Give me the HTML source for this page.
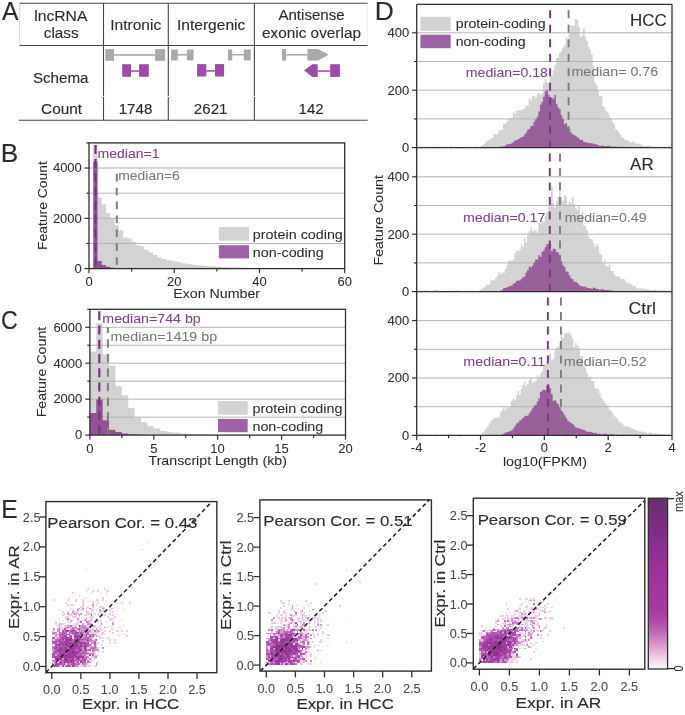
<!DOCTYPE html>
<html><head><meta charset="utf-8"><style>
html,body{margin:0;padding:0;background:#fff;}
body{width:685px;height:715px;overflow:hidden;}
svg{display:block;}
svg{will-change:transform;}
text{font-family:"Liberation Sans",sans-serif;}
</style></head><body>
<svg width="685" height="715" viewBox="0 0 685 715" shape-rendering="auto">
<rect width="685" height="715" fill="#fff"/>
<text transform="translate(1.94,19.90) scale(0.9902,1)" font-size="25" fill="#2b2b2b" stroke="#2b2b2b" stroke-width="0.12">A</text>
<line x1="19.30" y1="3.30" x2="368.00" y2="3.30" stroke="#454545" stroke-width="1.1"/>
<line x1="19.30" y1="45.50" x2="368.00" y2="45.50" stroke="#454545" stroke-width="1.1"/>
<line x1="18.80" y1="120.30" x2="367.70" y2="120.30" stroke="#454545" stroke-width="1.1"/>
<line x1="19.60" y1="3.30" x2="19.60" y2="45.50" stroke="#cfcfcf" stroke-width="0.8"/>
<line x1="367.40" y1="3.30" x2="367.40" y2="45.50" stroke="#ececec" stroke-width="0.8"/>
<line x1="103.50" y1="3.30" x2="103.50" y2="95.90" stroke="#454545" stroke-width="1.1"/>
<line x1="103.50" y1="96.90" x2="103.50" y2="120.30" stroke="#454545" stroke-width="1.1"/>
<line x1="168.30" y1="3.30" x2="168.30" y2="95.90" stroke="#454545" stroke-width="1.1"/>
<line x1="168.30" y1="96.90" x2="168.30" y2="120.30" stroke="#454545" stroke-width="1.1"/>
<line x1="254.40" y1="3.30" x2="254.40" y2="95.90" stroke="#454545" stroke-width="1.1"/>
<line x1="254.40" y1="96.90" x2="254.40" y2="120.30" stroke="#454545" stroke-width="1.1"/>
<text transform="translate(34.24,20.80) scale(1.0462,1)" font-size="15" fill="#2b2b2b" stroke="#2b2b2b" stroke-width="0.12">lncRNA</text>
<text transform="translate(43.85,38.30) scale(1.0182,1)" font-size="15" fill="#2b2b2b" stroke="#2b2b2b" stroke-width="0.12">class</text>
<text transform="translate(110.26,30.00) scale(1.0359,1)" font-size="15" fill="#2b2b2b" stroke="#2b2b2b" stroke-width="0.12">Intronic</text>
<text transform="translate(176.96,29.80) scale(1.0392,1)" font-size="15" fill="#2b2b2b" stroke="#2b2b2b" stroke-width="0.12">Intergenic</text>
<text transform="translate(278.46,20.40) scale(1.0050,1)" font-size="15" fill="#2b2b2b" stroke="#2b2b2b" stroke-width="0.12">Antisense</text>
<text transform="translate(261.95,37.70) scale(1.0244,1)" font-size="15" fill="#2b2b2b" stroke="#2b2b2b" stroke-width="0.12">exonic overlap</text>
<text transform="translate(32.92,82.50) scale(1.0115,1)" font-size="15" fill="#2b2b2b" stroke="#2b2b2b" stroke-width="0.12">Schema</text>
<text transform="translate(41.03,113.70) scale(1.0268,1)" font-size="15" fill="#2b2b2b" stroke="#2b2b2b" stroke-width="0.12">Count</text>
<text transform="translate(118.66,113.70) scale(1.0103,1)" font-size="15" fill="#2b2b2b" stroke="#2b2b2b" stroke-width="0.12">1748</text>
<text transform="translate(193.84,113.70) scale(1.0071,1)" font-size="15" fill="#2b2b2b" stroke="#2b2b2b" stroke-width="0.12">2621</text>
<text transform="translate(298.57,113.70) scale(1.0070,1)" font-size="15" fill="#2b2b2b" stroke="#2b2b2b" stroke-width="0.12">142</text>
<rect x="105.30" y="49.10" width="8.70" height="11.70" fill="#a9a9a9"/>
<rect x="155.10" y="49.10" width="10.00" height="11.70" fill="#a9a9a9"/>
<rect x="114.00" y="54.20" width="41.10" height="1.60" fill="#a9a9a9"/>
<rect x="171.10" y="49.50" width="6.70" height="10.90" fill="#a9a9a9"/>
<rect x="186.90" y="49.50" width="6.60" height="10.90" fill="#a9a9a9"/>
<rect x="177.80" y="54.00" width="9.10" height="1.50" fill="#a9a9a9"/>
<rect x="228.00" y="49.50" width="4.20" height="10.90" fill="#a9a9a9"/>
<rect x="243.80" y="49.50" width="6.90" height="10.90" fill="#a9a9a9"/>
<rect x="232.20" y="54.00" width="11.60" height="1.50" fill="#a9a9a9"/>
<rect x="282.00" y="49.10" width="4.20" height="11.50" fill="#a9a9a9"/>
<rect x="286.20" y="54.10" width="21.40" height="1.50" fill="#a9a9a9"/>
<polygon points="307.50,49.10 317.90,49.10 328.60,54.85 317.90,60.60 307.50,60.60" fill="#a9a9a9"/>
<rect x="122.20" y="64.20" width="8.80" height="12.60" fill="#9c4ba6"/>
<rect x="139.10" y="64.20" width="9.70" height="12.60" fill="#9c4ba6"/>
<rect x="131.00" y="70.30" width="8.10" height="1.50" fill="#9c4ba6"/>
<rect x="197.10" y="64.10" width="9.20" height="12.40" fill="#9c4ba6"/>
<rect x="215.00" y="64.10" width="9.10" height="12.40" fill="#9c4ba6"/>
<rect x="206.30" y="70.20" width="8.70" height="1.50" fill="#9c4ba6"/>
<polygon points="304.10,70.60 312.30,64.30 317.70,64.30 317.70,76.90 312.30,76.90" fill="#9c4ba6"/>
<rect x="317.70" y="70.30" width="12.50" height="1.50" fill="#9c4ba6"/>
<rect x="330.20" y="64.20" width="9.70" height="12.70" fill="#9c4ba6"/>
<text transform="translate(0.73,162.10) scale(1.0516,1)" font-size="25" fill="#2b2b2b" stroke="#2b2b2b" stroke-width="0.12">B</text>
<path d="M89.00,268.60 L89.00,268.60 L93.26,268.60 L93.26,144.91 L97.52,144.91 L97.52,197.38 L101.79,197.38 L101.79,204.39 L106.05,204.39 L106.05,213.02 L110.31,213.02 L110.31,218.32 L114.57,218.32 L114.57,225.23 L118.83,225.23 L118.83,230.54 L123.09,230.54 L123.09,237.55 L127.36,237.55 L127.36,238.43 L131.62,238.43 L131.62,241.65 L135.88,241.65 L135.88,245.17 L140.14,245.17 L140.14,246.30 L144.40,246.30 L144.40,249.80 L148.66,249.80 L148.66,252.41 L152.92,252.41 L152.92,255.00 L157.19,255.00 L157.19,257.29 L161.45,257.29 L161.45,258.90 L165.71,258.90 L165.71,260.00 L169.97,260.00 L169.97,260.61 L174.23,260.61 L174.23,261.51 L178.49,261.51 L178.49,262.59 L182.76,262.59 L182.76,263.40 L187.02,263.40 L187.02,264.10 L191.28,264.10 L191.28,264.70 L195.54,264.70 L195.54,265.21 L199.80,265.21 L199.80,265.51 L204.06,265.51 L204.06,265.91 L208.33,265.91 L208.33,266.31 L212.59,266.31 L212.59,266.59 L216.85,266.59 L216.85,266.85 L221.11,266.85 L221.11,267.08 L225.37,267.08 L225.37,267.28 L229.63,267.28 L229.63,267.45 L233.90,267.45 L233.90,267.60 L238.16,267.60 L238.16,267.73 L242.42,267.73 L242.42,267.84 L246.68,267.84 L246.68,267.94 L250.94,267.94 L250.94,268.03 L255.20,268.03 L255.20,268.10 L259.47,268.10 L259.47,268.17 L263.73,268.17 L263.73,268.22 L267.99,268.22 L267.99,268.27 L272.25,268.27 L272.25,268.31 L276.51,268.31 L276.51,268.35 L280.77,268.35 L280.77,268.38 L285.04,268.38 L285.04,268.41 L289.30,268.41 L289.30,268.44 L293.56,268.44 L293.56,268.46 L297.82,268.46 L297.82,268.48 L302.08,268.48 L302.08,268.49 L306.34,268.49 L306.34,268.51 L310.61,268.51 L310.61,268.52 L314.87,268.52 L314.87,268.53 L319.13,268.53 L319.13,268.54 L323.39,268.54 L323.39,268.55 L327.65,268.55 L327.65,268.55 L331.91,268.55 L331.91,268.56 L336.18,268.56 L336.18,268.56 L340.44,268.56 L340.44,268.57 L344.70,268.57 L344.70,268.60 Z" fill="#d4d3d4"/>
<line x1="89.00" y1="243.46" x2="344.70" y2="243.46" stroke="#b4b4b4" stroke-width="1.0"/>
<line x1="89.00" y1="218.32" x2="344.70" y2="218.32" stroke="#b4b4b4" stroke-width="1.0"/>
<line x1="89.00" y1="193.18" x2="344.70" y2="193.18" stroke="#b4b4b4" stroke-width="1.0"/>
<line x1="89.00" y1="168.04" x2="344.70" y2="168.04" stroke="#b4b4b4" stroke-width="1.0"/>
<path d="M89.00,268.60 L89.00,268.60 L93.26,268.60 L93.26,161.75 L97.52,161.75 L97.52,261.06 L101.79,261.06 L101.79,265.08 L106.05,265.08 L106.05,266.84 L110.31,266.84 L110.31,267.80 L114.57,267.80 L114.57,268.22 L118.83,268.22 L118.83,268.40 L123.09,268.40 L123.09,268.50 L127.36,268.50 L127.36,268.60 Z" fill="#8f5593"/>
<line x1="95.50" y1="145.00" x2="95.50" y2="268.60" stroke="#7a3582" stroke-width="2.2" stroke-dasharray="9 5"/>
<line x1="116.80" y1="173.80" x2="116.80" y2="268.60" stroke="#7d7d7d" stroke-width="2.0" stroke-dasharray="7.6 6.3"/>
<text transform="translate(97.55,158.20) scale(1.1224,1)" font-size="12.5" fill="#7d4285" stroke="#7d4285" stroke-width="0.05">median=1</text>
<text transform="translate(118.26,180.10) scale(1.1155,1)" font-size="12.5" fill="#777777" stroke="#777777" stroke-width="0.05">median=6</text>
<rect x="89.00" y="142.90" width="255.70" height="125.70" fill="none" stroke="#2f2f2f" stroke-width="1.3"/>
<line x1="84.40" y1="268.60" x2="89.00" y2="268.60" stroke="#2f2f2f" stroke-width="1.2"/>
<text transform="translate(74.57,272.90) scale(1.0400,1)" font-size="12.5" fill="#2b2b2b" stroke="#2b2b2b" stroke-width="0.05">0</text>
<line x1="86.40" y1="243.46" x2="89.00" y2="243.46" stroke="#2f2f2f" stroke-width="1.2"/>
<line x1="84.40" y1="218.32" x2="89.00" y2="218.32" stroke="#2f2f2f" stroke-width="1.2"/>
<text transform="translate(52.89,222.62) scale(1.0400,1)" font-size="12.5" fill="#2b2b2b" stroke="#2b2b2b" stroke-width="0.05">2000</text>
<line x1="86.40" y1="193.18" x2="89.00" y2="193.18" stroke="#2f2f2f" stroke-width="1.2"/>
<line x1="84.40" y1="168.04" x2="89.00" y2="168.04" stroke="#2f2f2f" stroke-width="1.2"/>
<text transform="translate(52.90,172.34) scale(1.0400,1)" font-size="12.5" fill="#2b2b2b" stroke="#2b2b2b" stroke-width="0.05">4000</text>
<line x1="86.40" y1="142.90" x2="89.00" y2="142.90" stroke="#2f2f2f" stroke-width="1.2"/>
<line x1="89.00" y1="268.60" x2="89.00" y2="273.20" stroke="#2f2f2f" stroke-width="1.2"/>
<text transform="translate(85.38,286.20) scale(1.0400,1)" font-size="12.5" fill="#2b2b2b" stroke="#2b2b2b" stroke-width="0.05">0</text>
<line x1="131.62" y1="268.60" x2="131.62" y2="271.40" stroke="#2f2f2f" stroke-width="1.2"/>
<line x1="174.23" y1="268.60" x2="174.23" y2="273.20" stroke="#2f2f2f" stroke-width="1.2"/>
<text transform="translate(166.94,286.20) scale(1.0400,1)" font-size="12.5" fill="#2b2b2b" stroke="#2b2b2b" stroke-width="0.05">20</text>
<line x1="216.85" y1="268.60" x2="216.85" y2="271.40" stroke="#2f2f2f" stroke-width="1.2"/>
<line x1="259.47" y1="268.60" x2="259.47" y2="273.20" stroke="#2f2f2f" stroke-width="1.2"/>
<text transform="translate(252.35,286.20) scale(1.0400,1)" font-size="12.5" fill="#2b2b2b" stroke="#2b2b2b" stroke-width="0.05">40</text>
<line x1="302.08" y1="268.60" x2="302.08" y2="271.40" stroke="#2f2f2f" stroke-width="1.2"/>
<line x1="344.70" y1="268.60" x2="344.70" y2="273.20" stroke="#2f2f2f" stroke-width="1.2"/>
<text transform="translate(337.40,286.20) scale(1.0400,1)" font-size="12.5" fill="#2b2b2b" stroke="#2b2b2b" stroke-width="0.05">60</text>
<text transform="translate(173.23,298.10) scale(1.1372,1)" font-size="12.5" fill="#2b2b2b" stroke="#2b2b2b" stroke-width="0.05">Exon Number</text>
<text transform="translate(47.00,250.05) rotate(-90) scale(1.1132,1)" font-size="12.5" fill="#2b2b2b" stroke="#2b2b2b" stroke-width="0.05">Feature Count</text>
<rect x="218.80" y="227.00" width="30.20" height="13.80" fill="#d4d3d4"/>
<rect x="218.80" y="245.20" width="30.20" height="13.20" fill="#9c64a2"/>
<text transform="translate(252.87,238.60) scale(1.1464,1)" font-size="12.5" fill="#2b2b2b" stroke="#2b2b2b" stroke-width="0.05">protein coding</text>
<text transform="translate(252.83,256.60) scale(1.1458,1)" font-size="12.5" fill="#2b2b2b" stroke="#2b2b2b" stroke-width="0.05">non-coding</text>
<text transform="translate(0.94,329.00) scale(0.9260,1)" font-size="25" fill="#2b2b2b" stroke="#2b2b2b" stroke-width="0.12">C</text>
<path d="M89.90,435.10 L89.90,351.77 L96.29,351.77 L96.29,323.16 L102.68,323.16 L102.68,354.39 L109.07,354.39 L109.07,365.82 L115.46,365.82 L115.46,386.20 L121.85,386.20 L121.85,395.35 L128.24,395.35 L128.24,408.00 L134.63,408.00 L134.63,417.52 L141.02,417.52 L141.02,422.25 L147.41,422.25 L147.41,426.17 L153.80,426.17 L153.80,428.58 L160.19,428.58 L160.19,430.88 L166.58,430.88 L166.58,432.08 L172.97,432.08 L172.97,432.58 L179.36,432.58 L179.36,433.48 L185.75,433.48 L185.75,434.02 L192.14,434.02 L192.14,434.35 L198.53,434.35 L198.53,434.56 L204.92,434.56 L204.92,434.70 L211.31,434.70 L211.31,434.81 L217.70,434.81 L217.70,434.88 L224.09,434.88 L224.09,434.94 L230.48,434.94 L230.48,434.97 L236.87,434.97 L236.87,435.01 L243.26,435.01 L243.26,435.03 L249.65,435.03 L249.65,435.05 L256.04,435.05 L256.04,435.06 L262.43,435.06 L262.43,435.06 L268.82,435.06 L268.82,435.08 L275.21,435.08 L275.21,435.08 L281.60,435.08 L281.60,435.10 Z" fill="#d4d3d4"/>
<line x1="89.90" y1="417.13" x2="345.50" y2="417.13" stroke="#b4b4b4" stroke-width="1.0"/>
<line x1="89.90" y1="399.16" x2="345.50" y2="399.16" stroke="#b4b4b4" stroke-width="1.0"/>
<line x1="89.90" y1="381.19" x2="345.50" y2="381.19" stroke="#b4b4b4" stroke-width="1.0"/>
<line x1="89.90" y1="363.21" x2="345.50" y2="363.21" stroke="#b4b4b4" stroke-width="1.0"/>
<line x1="89.90" y1="345.24" x2="345.50" y2="345.24" stroke="#b4b4b4" stroke-width="1.0"/>
<line x1="89.90" y1="327.27" x2="345.50" y2="327.27" stroke="#b4b4b4" stroke-width="1.0"/>
<path d="M89.90,435.10 L89.90,413.12 L96.29,413.12 L96.29,399.46 L102.68,399.46 L102.68,420.35 L109.07,420.35 L109.07,429.78 L115.46,429.78 L115.46,432.08 L121.85,432.08 L121.85,433.59 L128.24,433.59 L128.24,434.20 L134.63,434.20 L134.63,434.56 L141.02,434.56 L141.02,434.78 L147.41,434.78 L147.41,434.92 L153.80,434.92 L153.80,434.99 L160.19,434.99 L160.19,435.03 L166.58,435.03 L166.58,435.06 L172.97,435.06 L172.97,435.10 Z" fill="#8f5593"/>
<line x1="99.30" y1="311.20" x2="99.30" y2="435.10" stroke="#7a3582" stroke-width="2.2" stroke-dasharray="9.0 5.25"/>
<line x1="107.90" y1="327.30" x2="107.90" y2="435.10" stroke="#7d7d7d" stroke-width="2.0" stroke-dasharray="8.3 6.26" stroke-dashoffset="2.5"/>
<text transform="translate(102.34,323.00) scale(1.1387,1)" font-size="12.5" fill="#7d4285" stroke="#7d4285" stroke-width="0.05">median=744 bp</text>
<text transform="translate(110.44,341.40) scale(1.1419,1)" font-size="12.5" fill="#777777" stroke="#777777" stroke-width="0.05">median=1419 bp</text>
<rect x="89.90" y="309.30" width="255.60" height="125.80" fill="none" stroke="#2f2f2f" stroke-width="1.3"/>
<line x1="85.30" y1="435.10" x2="89.90" y2="435.10" stroke="#2f2f2f" stroke-width="1.2"/>
<text transform="translate(75.07,439.40) scale(1.0400,1)" font-size="12.5" fill="#2b2b2b" stroke="#2b2b2b" stroke-width="0.05">0</text>
<line x1="87.30" y1="417.13" x2="89.90" y2="417.13" stroke="#2f2f2f" stroke-width="1.2"/>
<line x1="85.30" y1="399.16" x2="89.90" y2="399.16" stroke="#2f2f2f" stroke-width="1.2"/>
<text transform="translate(53.39,403.46) scale(1.0400,1)" font-size="12.5" fill="#2b2b2b" stroke="#2b2b2b" stroke-width="0.05">2000</text>
<line x1="87.30" y1="381.19" x2="89.90" y2="381.19" stroke="#2f2f2f" stroke-width="1.2"/>
<line x1="85.30" y1="363.21" x2="89.90" y2="363.21" stroke="#2f2f2f" stroke-width="1.2"/>
<text transform="translate(53.40,367.51) scale(1.0400,1)" font-size="12.5" fill="#2b2b2b" stroke="#2b2b2b" stroke-width="0.05">4000</text>
<line x1="87.30" y1="345.24" x2="89.90" y2="345.24" stroke="#2f2f2f" stroke-width="1.2"/>
<line x1="85.30" y1="327.27" x2="89.90" y2="327.27" stroke="#2f2f2f" stroke-width="1.2"/>
<text transform="translate(53.39,331.57) scale(1.0400,1)" font-size="12.5" fill="#2b2b2b" stroke="#2b2b2b" stroke-width="0.05">6000</text>
<line x1="87.30" y1="309.30" x2="89.90" y2="309.30" stroke="#2f2f2f" stroke-width="1.2"/>
<line x1="89.90" y1="435.10" x2="89.90" y2="439.70" stroke="#2f2f2f" stroke-width="1.2"/>
<text transform="translate(86.28,452.50) scale(1.0400,1)" font-size="12.5" fill="#2b2b2b" stroke="#2b2b2b" stroke-width="0.05">0</text>
<line x1="121.85" y1="435.10" x2="121.85" y2="437.90" stroke="#2f2f2f" stroke-width="1.2"/>
<line x1="153.80" y1="435.10" x2="153.80" y2="439.70" stroke="#2f2f2f" stroke-width="1.2"/>
<text transform="translate(150.19,452.50) scale(1.0400,1)" font-size="12.5" fill="#2b2b2b" stroke="#2b2b2b" stroke-width="0.05">5</text>
<line x1="185.75" y1="435.10" x2="185.75" y2="437.90" stroke="#2f2f2f" stroke-width="1.2"/>
<line x1="217.70" y1="435.10" x2="217.70" y2="439.70" stroke="#2f2f2f" stroke-width="1.2"/>
<text transform="translate(210.24,452.50) scale(1.0400,1)" font-size="12.5" fill="#2b2b2b" stroke="#2b2b2b" stroke-width="0.05">10</text>
<line x1="249.65" y1="435.10" x2="249.65" y2="437.90" stroke="#2f2f2f" stroke-width="1.2"/>
<line x1="281.60" y1="435.10" x2="281.60" y2="439.70" stroke="#2f2f2f" stroke-width="1.2"/>
<text transform="translate(274.16,452.50) scale(1.0400,1)" font-size="12.5" fill="#2b2b2b" stroke="#2b2b2b" stroke-width="0.05">15</text>
<line x1="313.55" y1="435.10" x2="313.55" y2="437.90" stroke="#2f2f2f" stroke-width="1.2"/>
<line x1="345.50" y1="435.10" x2="345.50" y2="439.70" stroke="#2f2f2f" stroke-width="1.2"/>
<text transform="translate(338.20,452.50) scale(1.0400,1)" font-size="12.5" fill="#2b2b2b" stroke="#2b2b2b" stroke-width="0.05">20</text>
<text transform="translate(148.48,465.00) scale(1.0946,1)" font-size="13" fill="#2b2b2b" stroke="#2b2b2b" stroke-width="0.05">Transcript Length (kb)</text>
<text transform="translate(46.40,417.37) rotate(-90) scale(1.1335,1)" font-size="12.5" fill="#2b2b2b" stroke="#2b2b2b" stroke-width="0.05">Feature Count</text>
<rect x="218.00" y="401.00" width="29.70" height="13.70" fill="#d4d3d4"/>
<rect x="218.00" y="418.90" width="29.70" height="13.30" fill="#9c64a2"/>
<text transform="translate(252.47,412.60) scale(1.1464,1)" font-size="12.5" fill="#2b2b2b" stroke="#2b2b2b" stroke-width="0.05">protein coding</text>
<text transform="translate(252.43,430.60) scale(1.1458,1)" font-size="12.5" fill="#2b2b2b" stroke="#2b2b2b" stroke-width="0.05">non-coding</text>
<text transform="translate(374.71,19.70) scale(1.0599,1)" font-size="25" fill="#2b2b2b" stroke="#2b2b2b" stroke-width="0.12">D</text>
<path d="M416.70,147.60 L416.70,147.60 L418.30,147.60 L418.30,147.60 L419.90,147.60 L419.90,147.60 L421.50,147.60 L421.50,147.60 L423.10,147.60 L423.10,147.60 L424.70,147.60 L424.70,147.60 L426.30,147.60 L426.30,146.59 L427.90,146.59 L427.90,147.60 L429.50,147.60 L429.50,147.60 L431.10,147.60 L431.10,146.84 L432.70,146.84 L432.70,146.23 L434.30,146.23 L434.30,147.34 L435.90,147.34 L435.90,146.02 L437.50,146.02 L437.50,147.31 L439.10,147.31 L439.10,147.30 L440.70,147.30 L440.70,146.57 L442.30,146.57 L442.30,146.97 L443.90,146.97 L443.90,147.27 L445.50,147.27 L445.50,147.23 L447.10,147.23 L447.10,147.15 L448.70,147.15 L448.70,147.60 L450.30,147.60 L450.30,146.00 L451.90,146.00 L451.90,147.60 L453.50,147.60 L453.50,147.08 L455.10,147.08 L455.10,146.85 L456.70,146.85 L456.70,146.94 L458.30,146.94 L458.30,147.07 L459.90,147.07 L459.90,147.09 L461.50,147.09 L461.50,147.33 L463.10,147.33 L463.10,147.05 L464.70,147.05 L464.70,147.17 L466.30,147.17 L466.30,146.97 L467.90,146.97 L467.90,146.44 L469.50,146.44 L469.50,146.80 L471.10,146.80 L471.10,147.28 L472.70,147.28 L472.70,147.08 L474.30,147.08 L474.30,146.24 L475.90,146.24 L475.90,147.00 L477.50,147.00 L477.50,146.82 L479.10,146.82 L479.10,146.97 L480.70,146.97 L480.70,145.73 L482.30,145.73 L482.30,144.79 L483.90,144.79 L483.90,143.68 L485.50,143.68 L485.50,141.94 L487.10,141.94 L487.10,140.60 L488.70,140.60 L488.70,140.00 L490.30,140.00 L490.30,138.46 L491.90,138.46 L491.90,138.19 L493.50,138.19 L493.50,133.82 L495.10,133.82 L495.10,134.42 L496.70,134.42 L496.70,133.93 L498.30,133.93 L498.30,130.85 L499.90,130.85 L499.90,130.15 L501.50,130.15 L501.50,129.45 L503.10,129.45 L503.10,123.80 L504.70,123.80 L504.70,123.65 L506.30,123.65 L506.30,121.62 L507.90,121.62 L507.90,118.71 L509.50,118.71 L509.50,118.89 L511.10,118.89 L511.10,117.60 L512.70,117.60 L512.70,112.36 L514.30,112.36 L514.30,113.41 L515.90,113.41 L515.90,110.69 L517.50,110.69 L517.50,110.54 L519.10,110.54 L519.10,110.15 L520.70,110.15 L520.70,110.61 L522.30,110.61 L522.30,109.06 L523.90,109.06 L523.90,108.03 L525.50,108.03 L525.50,105.05 L527.10,105.05 L527.10,106.01 L528.70,106.01 L528.70,98.38 L530.30,98.38 L530.30,100.76 L531.90,100.76 L531.90,96.33 L533.50,96.33 L533.50,95.85 L535.10,95.85 L535.10,97.85 L536.70,97.85 L536.70,94.35 L538.30,94.35 L538.30,92.89 L539.90,92.89 L539.90,95.04 L541.50,95.04 L541.50,93.45 L543.10,93.45 L543.10,83.39 L544.70,83.39 L544.70,79.17 L546.30,79.17 L546.30,82.20 L547.90,82.20 L547.90,82.46 L549.50,82.46 L549.50,73.60 L551.10,73.60 L551.10,75.87 L552.70,75.87 L552.70,70.74 L554.30,70.74 L554.30,65.05 L555.90,65.05 L555.90,58.31 L557.50,58.31 L557.50,57.65 L559.10,57.65 L559.10,52.88 L560.70,52.88 L560.70,51.17 L562.30,51.17 L562.30,47.54 L563.90,47.54 L563.90,45.28 L565.50,45.28 L565.50,37.58 L567.10,37.58 L567.10,39.39 L568.70,39.39 L568.70,33.50 L570.30,33.50 L570.30,25.61 L571.90,25.61 L571.90,26.02 L573.50,26.02 L573.50,25.32 L575.10,25.32 L575.10,18.74 L576.70,18.74 L576.70,19.97 L578.30,19.97 L578.30,27.10 L579.90,27.10 L579.90,37.30 L581.50,37.30 L581.50,35.26 L583.10,35.26 L583.10,28.13 L584.70,28.13 L584.70,36.85 L586.30,36.85 L586.30,40.53 L587.90,40.53 L587.90,46.77 L589.50,46.77 L589.50,49.86 L591.10,49.86 L591.10,54.51 L592.70,54.51 L592.70,65.59 L594.30,65.59 L594.30,82.48 L595.90,82.48 L595.90,84.90 L597.50,84.90 L597.50,90.89 L599.10,90.89 L599.10,95.90 L600.70,95.90 L600.70,96.00 L602.30,96.00 L602.30,106.27 L603.90,106.27 L603.90,107.36 L605.50,107.36 L605.50,111.08 L607.10,111.08 L607.10,112.69 L608.70,112.69 L608.70,115.54 L610.30,115.54 L610.30,118.02 L611.90,118.02 L611.90,122.04 L613.50,122.04 L613.50,124.23 L615.10,124.23 L615.10,129.36 L616.70,129.36 L616.70,130.02 L618.30,130.02 L618.30,132.41 L619.90,132.41 L619.90,135.36 L621.50,135.36 L621.50,137.40 L623.10,137.40 L623.10,138.29 L624.70,138.29 L624.70,140.31 L626.30,140.31 L626.30,139.95 L627.90,139.95 L627.90,140.89 L629.50,140.89 L629.50,142.60 L631.10,142.60 L631.10,142.19 L632.70,142.19 L632.70,141.34 L634.30,141.34 L634.30,143.13 L635.90,143.13 L635.90,143.15 L637.50,143.15 L637.50,144.29 L639.10,144.29 L639.10,143.49 L640.70,143.49 L640.70,144.76 L642.30,144.76 L642.30,145.49 L643.90,145.49 L643.90,146.16 L645.50,146.16 L645.50,145.25 L647.10,145.25 L647.10,146.04 L648.70,146.04 L648.70,145.79 L650.30,145.79 L650.30,146.82 L651.90,146.82 L651.90,146.74 L653.50,146.74 L653.50,146.63 L655.10,146.63 L655.10,146.82 L656.70,146.82 L656.70,146.40 L658.30,146.40 L658.30,146.83 L659.90,146.83 L659.90,146.89 L661.50,146.89 L661.50,147.60 L663.10,147.60 L663.10,147.60 L664.70,147.60 L664.70,147.29 L666.30,147.29 L666.30,146.89 L667.90,146.89 L667.90,146.30 L669.50,146.30 L669.50,146.48 L671.10,146.48 L671.10,147.60 L672.00,147.60 L672.00,147.60 Z" fill="#d4d3d4"/>
<line x1="416.70" y1="118.90" x2="672.00" y2="118.90" stroke="#b4b4b4" stroke-width="1.0"/>
<line x1="416.70" y1="90.20" x2="672.00" y2="90.20" stroke="#b4b4b4" stroke-width="1.0"/>
<line x1="416.70" y1="61.50" x2="672.00" y2="61.50" stroke="#b4b4b4" stroke-width="1.0"/>
<line x1="416.70" y1="32.80" x2="672.00" y2="32.80" stroke="#b4b4b4" stroke-width="1.0"/>
<path d="M416.70,147.60 L416.70,147.60 L418.30,147.60 L418.30,147.60 L419.90,147.60 L419.90,147.60 L421.50,147.60 L421.50,147.60 L423.10,147.60 L423.10,147.60 L424.70,147.60 L424.70,147.60 L426.30,147.60 L426.30,147.60 L427.90,147.60 L427.90,147.60 L429.50,147.60 L429.50,147.60 L431.10,147.60 L431.10,147.60 L432.70,147.60 L432.70,147.60 L434.30,147.60 L434.30,147.60 L435.90,147.60 L435.90,147.60 L437.50,147.60 L437.50,147.60 L439.10,147.60 L439.10,147.60 L440.70,147.60 L440.70,147.60 L442.30,147.60 L442.30,147.60 L443.90,147.60 L443.90,147.60 L445.50,147.60 L445.50,147.60 L447.10,147.60 L447.10,147.60 L448.70,147.60 L448.70,147.60 L450.30,147.60 L450.30,147.60 L451.90,147.60 L451.90,147.60 L453.50,147.60 L453.50,147.60 L455.10,147.60 L455.10,147.60 L456.70,147.60 L456.70,147.60 L458.30,147.60 L458.30,147.60 L459.90,147.60 L459.90,147.60 L461.50,147.60 L461.50,147.60 L463.10,147.60 L463.10,147.60 L464.70,147.60 L464.70,147.60 L466.30,147.60 L466.30,147.60 L467.90,147.60 L467.90,147.60 L469.50,147.60 L469.50,147.60 L471.10,147.60 L471.10,147.60 L472.70,147.60 L472.70,147.60 L474.30,147.60 L474.30,147.60 L475.90,147.60 L475.90,147.60 L477.50,147.60 L477.50,147.60 L479.10,147.60 L479.10,147.60 L480.70,147.60 L480.70,147.60 L482.30,147.60 L482.30,147.60 L483.90,147.60 L483.90,147.60 L485.50,147.60 L485.50,147.35 L487.10,147.35 L487.10,147.34 L488.70,147.34 L488.70,147.33 L490.30,147.33 L490.30,147.33 L491.90,147.33 L491.90,147.32 L493.50,147.32 L493.50,147.32 L495.10,147.32 L495.10,147.31 L496.70,147.31 L496.70,147.31 L498.30,147.31 L498.30,147.16 L499.90,147.16 L499.90,146.61 L501.50,146.61 L501.50,146.60 L503.10,146.60 L503.10,146.24 L504.70,146.24 L504.70,145.47 L506.30,145.47 L506.30,144.37 L507.90,144.37 L507.90,144.13 L509.50,144.13 L509.50,144.09 L511.10,144.09 L511.10,143.22 L512.70,143.22 L512.70,141.94 L514.30,141.94 L514.30,140.47 L515.90,140.47 L515.90,139.99 L517.50,139.99 L517.50,139.24 L519.10,139.24 L519.10,138.23 L520.70,138.23 L520.70,137.04 L522.30,137.04 L522.30,136.70 L523.90,136.70 L523.90,134.83 L525.50,134.83 L525.50,132.70 L527.10,132.70 L527.10,129.66 L528.70,129.66 L528.70,129.09 L530.30,129.09 L530.30,126.16 L531.90,126.16 L531.90,125.87 L533.50,125.87 L533.50,121.83 L535.10,121.83 L535.10,119.30 L536.70,119.30 L536.70,116.86 L538.30,116.86 L538.30,111.42 L539.90,111.42 L539.90,104.81 L541.50,104.81 L541.50,101.79 L543.10,101.79 L543.10,96.74 L544.70,96.74 L544.70,91.26 L546.30,91.26 L546.30,89.79 L547.90,89.79 L547.90,94.63 L549.50,94.63 L549.50,98.32 L551.10,98.32 L551.10,97.52 L552.70,97.52 L552.70,98.63 L554.30,98.63 L554.30,95.10 L555.90,95.10 L555.90,104.20 L557.50,104.20 L557.50,107.58 L559.10,107.58 L559.10,109.30 L560.70,109.30 L560.70,115.33 L562.30,115.33 L562.30,119.11 L563.90,119.11 L563.90,124.26 L565.50,124.26 L565.50,123.23 L567.10,123.23 L567.10,127.36 L568.70,127.36 L568.70,128.98 L570.30,128.98 L570.30,132.54 L571.90,132.54 L571.90,134.27 L573.50,134.27 L573.50,135.36 L575.10,135.36 L575.10,135.70 L576.70,135.70 L576.70,137.13 L578.30,137.13 L578.30,138.54 L579.90,138.54 L579.90,140.11 L581.50,140.11 L581.50,139.65 L583.10,139.65 L583.10,141.76 L584.70,141.76 L584.70,142.30 L586.30,142.30 L586.30,142.13 L587.90,142.13 L587.90,143.19 L589.50,143.19 L589.50,143.07 L591.10,143.07 L591.10,143.14 L592.70,143.14 L592.70,143.86 L594.30,143.86 L594.30,144.00 L595.90,144.00 L595.90,144.45 L597.50,144.45 L597.50,144.95 L599.10,144.95 L599.10,145.99 L600.70,145.99 L600.70,145.60 L602.30,145.60 L602.30,145.49 L603.90,145.49 L603.90,146.18 L605.50,146.18 L605.50,146.04 L607.10,146.04 L607.10,145.97 L608.70,145.97 L608.70,145.84 L610.30,145.84 L610.30,146.59 L611.90,146.59 L611.90,146.52 L613.50,146.52 L613.50,146.49 L615.10,146.49 L615.10,146.57 L616.70,146.57 L616.70,147.04 L618.30,147.04 L618.30,146.62 L619.90,146.62 L619.90,147.13 L621.50,147.13 L621.50,146.86 L623.10,146.86 L623.10,147.07 L624.70,147.07 L624.70,147.00 L626.30,147.00 L626.30,146.84 L627.90,146.84 L627.90,147.00 L629.50,147.00 L629.50,147.10 L631.10,147.10 L631.10,147.27 L632.70,147.27 L632.70,147.24 L634.30,147.24 L634.30,147.60 L635.90,147.60 L635.90,146.93 L637.50,146.93 L637.50,147.60 L639.10,147.60 L639.10,147.60 L640.70,147.60 L640.70,147.05 L642.30,147.05 L642.30,147.12 L643.90,147.12 L643.90,147.32 L645.50,147.32 L645.50,147.30 L647.10,147.30 L647.10,147.32 L648.70,147.32 L648.70,147.34 L650.30,147.34 L650.30,147.60 L651.90,147.60 L651.90,147.60 L653.50,147.60 L653.50,147.60 L655.10,147.60 L655.10,147.60 L656.70,147.60 L656.70,147.60 L658.30,147.60 L658.30,147.60 L659.90,147.60 L659.90,147.60 L661.50,147.60 L661.50,147.60 L663.10,147.60 L663.10,147.60 L664.70,147.60 L664.70,147.60 L666.30,147.60 L666.30,147.60 L667.90,147.60 L667.90,147.60 L669.50,147.60 L669.50,147.60 L671.10,147.60 L671.10,147.60 L672.00,147.60 L672.00,147.60 Z" fill="#97609a"/>
<path d="M416.70,291.60 L416.70,291.60 L418.30,291.60 L418.30,291.60 L419.90,291.60 L419.90,291.60 L421.50,291.60 L421.50,291.19 L423.10,291.19 L423.10,291.60 L424.70,291.60 L424.70,290.23 L426.30,290.23 L426.30,291.60 L427.90,291.60 L427.90,291.60 L429.50,291.60 L429.50,291.60 L431.10,291.60 L431.10,291.60 L432.70,291.60 L432.70,290.67 L434.30,290.67 L434.30,290.11 L435.90,290.11 L435.90,290.22 L437.50,290.22 L437.50,290.38 L439.10,290.38 L439.10,291.60 L440.70,291.60 L440.70,291.60 L442.30,291.60 L442.30,291.60 L443.90,291.60 L443.90,291.13 L445.50,291.13 L445.50,291.60 L447.10,291.60 L447.10,291.60 L448.70,291.60 L448.70,290.02 L450.30,290.02 L450.30,291.60 L451.90,291.60 L451.90,290.69 L453.50,290.69 L453.50,290.82 L455.10,290.82 L455.10,291.60 L456.70,291.60 L456.70,290.36 L458.30,290.36 L458.30,290.99 L459.90,290.99 L459.90,291.60 L461.50,291.60 L461.50,291.60 L463.10,291.60 L463.10,291.60 L464.70,291.60 L464.70,291.60 L466.30,291.60 L466.30,291.60 L467.90,291.60 L467.90,291.60 L469.50,291.60 L469.50,290.33 L471.10,290.33 L471.10,291.60 L472.70,291.60 L472.70,291.60 L474.30,291.60 L474.30,291.60 L475.90,291.60 L475.90,291.33 L477.50,291.33 L477.50,291.35 L479.10,291.35 L479.10,290.10 L480.70,290.10 L480.70,288.88 L482.30,288.88 L482.30,287.50 L483.90,287.50 L483.90,287.14 L485.50,287.14 L485.50,285.24 L487.10,285.24 L487.10,284.74 L488.70,284.74 L488.70,284.37 L490.30,284.37 L490.30,280.30 L491.90,280.30 L491.90,280.24 L493.50,280.24 L493.50,280.57 L495.10,280.57 L495.10,277.94 L496.70,277.94 L496.70,275.89 L498.30,275.89 L498.30,272.40 L499.90,272.40 L499.90,274.39 L501.50,274.39 L501.50,272.28 L503.10,272.28 L503.10,273.23 L504.70,273.23 L504.70,268.89 L506.30,268.89 L506.30,264.39 L507.90,264.39 L507.90,260.61 L509.50,260.61 L509.50,260.70 L511.10,260.70 L511.10,260.81 L512.70,260.81 L512.70,259.23 L514.30,259.23 L514.30,252.77 L515.90,252.77 L515.90,250.81 L517.50,250.81 L517.50,250.91 L519.10,250.91 L519.10,249.86 L520.70,249.86 L520.70,244.51 L522.30,244.51 L522.30,246.69 L523.90,246.69 L523.90,238.24 L525.50,238.24 L525.50,242.51 L527.10,242.51 L527.10,235.15 L528.70,235.15 L528.70,231.25 L530.30,231.25 L530.30,227.24 L531.90,227.24 L531.90,231.53 L533.50,231.53 L533.50,229.53 L535.10,229.53 L535.10,230.48 L536.70,230.48 L536.70,232.69 L538.30,232.69 L538.30,223.27 L539.90,223.27 L539.90,222.92 L541.50,222.92 L541.50,221.12 L543.10,221.12 L543.10,221.82 L544.70,221.82 L544.70,215.85 L546.30,215.85 L546.30,212.34 L547.90,212.34 L547.90,206.62 L549.50,206.62 L549.50,199.90 L551.10,199.90 L551.10,186.49 L552.70,186.49 L552.70,202.99 L554.30,202.99 L554.30,207.57 L555.90,207.57 L555.90,200.75 L557.50,200.75 L557.50,196.60 L559.10,196.60 L559.10,191.26 L560.70,191.26 L560.70,197.31 L562.30,197.31 L562.30,200.68 L563.90,200.68 L563.90,195.10 L565.50,195.10 L565.50,196.38 L567.10,196.38 L567.10,205.61 L568.70,205.61 L568.70,201.86 L570.30,201.86 L570.30,203.35 L571.90,203.35 L571.90,196.95 L573.50,196.95 L573.50,203.88 L575.10,203.88 L575.10,207.84 L576.70,207.84 L576.70,210.02 L578.30,210.02 L578.30,205.53 L579.90,205.53 L579.90,215.10 L581.50,215.10 L581.50,212.06 L583.10,212.06 L583.10,225.03 L584.70,225.03 L584.70,225.91 L586.30,225.91 L586.30,230.73 L587.90,230.73 L587.90,236.44 L589.50,236.44 L589.50,239.00 L591.10,239.00 L591.10,238.90 L592.70,238.90 L592.70,243.38 L594.30,243.38 L594.30,246.96 L595.90,246.96 L595.90,243.93 L597.50,243.93 L597.50,246.10 L599.10,246.10 L599.10,253.36 L600.70,253.36 L600.70,255.07 L602.30,255.07 L602.30,263.14 L603.90,263.14 L603.90,259.68 L605.50,259.68 L605.50,265.63 L607.10,265.63 L607.10,266.58 L608.70,266.58 L608.70,264.52 L610.30,264.52 L610.30,270.97 L611.90,270.97 L611.90,270.93 L613.50,270.93 L613.50,273.92 L615.10,273.92 L615.10,276.41 L616.70,276.41 L616.70,276.81 L618.30,276.81 L618.30,276.13 L619.90,276.13 L619.90,278.78 L621.50,278.78 L621.50,279.01 L623.10,279.01 L623.10,279.00 L624.70,279.00 L624.70,281.17 L626.30,281.17 L626.30,283.46 L627.90,283.46 L627.90,282.45 L629.50,282.45 L629.50,284.60 L631.10,284.60 L631.10,284.31 L632.70,284.31 L632.70,286.62 L634.30,286.62 L634.30,285.45 L635.90,285.45 L635.90,287.94 L637.50,287.94 L637.50,288.68 L639.10,288.68 L639.10,288.22 L640.70,288.22 L640.70,288.47 L642.30,288.47 L642.30,288.43 L643.90,288.43 L643.90,289.11 L645.50,289.11 L645.50,288.84 L647.10,288.84 L647.10,288.85 L648.70,288.85 L648.70,289.95 L650.30,289.95 L650.30,290.37 L651.90,290.37 L651.90,290.10 L653.50,290.10 L653.50,289.77 L655.10,289.77 L655.10,289.88 L656.70,289.88 L656.70,290.38 L658.30,290.38 L658.30,290.67 L659.90,290.67 L659.90,290.47 L661.50,290.47 L661.50,290.29 L663.10,290.29 L663.10,290.87 L664.70,290.87 L664.70,290.44 L666.30,290.44 L666.30,290.82 L667.90,290.82 L667.90,290.92 L669.50,290.92 L669.50,291.21 L671.10,291.21 L671.10,290.91 L672.00,290.91 L672.00,291.60 Z" fill="#d4d3d4"/>
<line x1="416.70" y1="262.90" x2="672.00" y2="262.90" stroke="#b4b4b4" stroke-width="1.0"/>
<line x1="416.70" y1="234.20" x2="672.00" y2="234.20" stroke="#b4b4b4" stroke-width="1.0"/>
<line x1="416.70" y1="205.50" x2="672.00" y2="205.50" stroke="#b4b4b4" stroke-width="1.0"/>
<line x1="416.70" y1="176.80" x2="672.00" y2="176.80" stroke="#b4b4b4" stroke-width="1.0"/>
<path d="M416.70,291.60 L416.70,291.60 L418.30,291.60 L418.30,291.60 L419.90,291.60 L419.90,291.60 L421.50,291.60 L421.50,291.60 L423.10,291.60 L423.10,291.60 L424.70,291.60 L424.70,291.60 L426.30,291.60 L426.30,291.60 L427.90,291.60 L427.90,291.60 L429.50,291.60 L429.50,291.60 L431.10,291.60 L431.10,291.60 L432.70,291.60 L432.70,291.60 L434.30,291.60 L434.30,291.60 L435.90,291.60 L435.90,291.60 L437.50,291.60 L437.50,291.60 L439.10,291.60 L439.10,291.60 L440.70,291.60 L440.70,291.60 L442.30,291.60 L442.30,291.60 L443.90,291.60 L443.90,291.60 L445.50,291.60 L445.50,291.60 L447.10,291.60 L447.10,291.60 L448.70,291.60 L448.70,291.60 L450.30,291.60 L450.30,291.60 L451.90,291.60 L451.90,291.60 L453.50,291.60 L453.50,291.60 L455.10,291.60 L455.10,291.60 L456.70,291.60 L456.70,291.60 L458.30,291.60 L458.30,291.60 L459.90,291.60 L459.90,291.60 L461.50,291.60 L461.50,291.60 L463.10,291.60 L463.10,291.60 L464.70,291.60 L464.70,291.60 L466.30,291.60 L466.30,291.60 L467.90,291.60 L467.90,291.60 L469.50,291.60 L469.50,291.60 L471.10,291.60 L471.10,291.60 L472.70,291.60 L472.70,291.60 L474.30,291.60 L474.30,291.60 L475.90,291.60 L475.90,291.60 L477.50,291.60 L477.50,291.60 L479.10,291.60 L479.10,291.60 L480.70,291.60 L480.70,291.60 L482.30,291.60 L482.30,291.60 L483.90,291.60 L483.90,291.60 L485.50,291.60 L485.50,291.60 L487.10,291.60 L487.10,291.60 L488.70,291.60 L488.70,291.60 L490.30,291.60 L490.30,291.60 L491.90,291.60 L491.90,291.60 L493.50,291.60 L493.50,291.60 L495.10,291.60 L495.10,291.60 L496.70,291.60 L496.70,291.60 L498.30,291.60 L498.30,291.60 L499.90,291.60 L499.90,290.57 L501.50,290.57 L501.50,289.89 L503.10,289.89 L503.10,287.90 L504.70,287.90 L504.70,288.05 L506.30,288.05 L506.30,287.37 L507.90,287.37 L507.90,286.44 L509.50,286.44 L509.50,286.11 L511.10,286.11 L511.10,285.43 L512.70,285.43 L512.70,283.85 L514.30,283.85 L514.30,283.11 L515.90,283.11 L515.90,280.97 L517.50,280.97 L517.50,280.51 L519.10,280.51 L519.10,280.59 L520.70,280.59 L520.70,279.11 L522.30,279.11 L522.30,277.20 L523.90,277.20 L523.90,276.60 L525.50,276.60 L525.50,272.61 L527.10,272.61 L527.10,270.11 L528.70,270.11 L528.70,266.57 L530.30,266.57 L530.30,267.36 L531.90,267.36 L531.90,265.62 L533.50,265.62 L533.50,262.48 L535.10,262.48 L535.10,259.61 L536.70,259.61 L536.70,259.47 L538.30,259.47 L538.30,255.28 L539.90,255.28 L539.90,256.85 L541.50,256.85 L541.50,251.85 L543.10,251.85 L543.10,250.60 L544.70,250.60 L544.70,247.29 L546.30,247.29 L546.30,244.13 L547.90,244.13 L547.90,243.94 L549.50,243.94 L549.50,243.66 L551.10,243.66 L551.10,251.06 L552.70,251.06 L552.70,248.74 L554.30,248.74 L554.30,249.02 L555.90,249.02 L555.90,251.93 L557.50,251.93 L557.50,252.42 L559.10,252.42 L559.10,254.98 L560.70,254.98 L560.70,261.05 L562.30,261.05 L562.30,265.18 L563.90,265.18 L563.90,267.06 L565.50,267.06 L565.50,271.47 L567.10,271.47 L567.10,271.83 L568.70,271.83 L568.70,275.27 L570.30,275.27 L570.30,278.36 L571.90,278.36 L571.90,279.19 L573.50,279.19 L573.50,281.68 L575.10,281.68 L575.10,281.74 L576.70,281.74 L576.70,283.00 L578.30,283.00 L578.30,284.85 L579.90,284.85 L579.90,286.27 L581.50,286.27 L581.50,286.01 L583.10,286.01 L583.10,286.95 L584.70,286.95 L584.70,286.57 L586.30,286.57 L586.30,287.87 L587.90,287.87 L587.90,287.91 L589.50,287.91 L589.50,288.26 L591.10,288.26 L591.10,288.65 L592.70,288.65 L592.70,287.46 L594.30,287.46 L594.30,288.08 L595.90,288.08 L595.90,289.11 L597.50,289.11 L597.50,288.84 L599.10,288.84 L599.10,289.89 L600.70,289.89 L600.70,289.14 L602.30,289.14 L602.30,289.35 L603.90,289.35 L603.90,289.92 L605.50,289.92 L605.50,290.07 L607.10,290.07 L607.10,290.06 L608.70,290.06 L608.70,290.17 L610.30,290.17 L610.30,290.51 L611.90,290.51 L611.90,290.76 L613.50,290.76 L613.50,290.78 L615.10,290.78 L615.10,290.90 L616.70,290.90 L616.70,290.72 L618.30,290.72 L618.30,290.88 L619.90,290.88 L619.90,290.90 L621.50,290.90 L621.50,291.25 L623.10,291.25 L623.10,291.07 L624.70,291.07 L624.70,291.11 L626.30,291.11 L626.30,291.17 L627.90,291.17 L627.90,291.14 L629.50,291.14 L629.50,291.21 L631.10,291.21 L631.10,291.60 L632.70,291.60 L632.70,291.12 L634.30,291.12 L634.30,291.17 L635.90,291.17 L635.90,291.32 L637.50,291.32 L637.50,291.60 L639.10,291.60 L639.10,291.60 L640.70,291.60 L640.70,291.60 L642.30,291.60 L642.30,291.60 L643.90,291.60 L643.90,291.60 L645.50,291.60 L645.50,291.60 L647.10,291.60 L647.10,291.60 L648.70,291.60 L648.70,291.60 L650.30,291.60 L650.30,291.60 L651.90,291.60 L651.90,291.60 L653.50,291.60 L653.50,291.60 L655.10,291.60 L655.10,291.60 L656.70,291.60 L656.70,291.60 L658.30,291.60 L658.30,291.60 L659.90,291.60 L659.90,291.60 L661.50,291.60 L661.50,291.60 L663.10,291.60 L663.10,291.60 L664.70,291.60 L664.70,291.60 L666.30,291.60 L666.30,291.60 L667.90,291.60 L667.90,291.60 L669.50,291.60 L669.50,291.60 L671.10,291.60 L671.10,291.60 L672.00,291.60 L672.00,291.60 Z" fill="#97609a"/>
<path d="M416.70,435.40 L416.70,434.18 L418.30,434.18 L418.30,435.40 L419.90,435.40 L419.90,435.40 L421.50,435.40 L421.50,434.72 L423.10,434.72 L423.10,434.73 L424.70,434.73 L424.70,435.40 L426.30,435.40 L426.30,434.36 L427.90,434.36 L427.90,434.65 L429.50,434.65 L429.50,435.40 L431.10,435.40 L431.10,435.40 L432.70,435.40 L432.70,435.40 L434.30,435.40 L434.30,434.67 L435.90,434.67 L435.90,433.95 L437.50,433.95 L437.50,435.40 L439.10,435.40 L439.10,435.40 L440.70,435.40 L440.70,435.40 L442.30,435.40 L442.30,435.40 L443.90,435.40 L443.90,435.40 L445.50,435.40 L445.50,435.40 L447.10,435.40 L447.10,433.98 L448.70,433.98 L448.70,435.40 L450.30,435.40 L450.30,435.40 L451.90,435.40 L451.90,435.40 L453.50,435.40 L453.50,435.40 L455.10,435.40 L455.10,435.40 L456.70,435.40 L456.70,435.40 L458.30,435.40 L458.30,435.40 L459.90,435.40 L459.90,434.02 L461.50,434.02 L461.50,435.40 L463.10,435.40 L463.10,435.40 L464.70,435.40 L464.70,435.40 L466.30,435.40 L466.30,435.40 L467.90,435.40 L467.90,435.40 L469.50,435.40 L469.50,434.19 L471.10,434.19 L471.10,435.40 L472.70,435.40 L472.70,434.76 L474.30,434.76 L474.30,435.40 L475.90,435.40 L475.90,434.45 L477.50,434.45 L477.50,435.40 L479.10,435.40 L479.10,435.12 L480.70,435.12 L480.70,434.51 L482.30,434.51 L482.30,432.17 L483.90,432.17 L483.90,430.63 L485.50,430.63 L485.50,428.27 L487.10,428.27 L487.10,426.53 L488.70,426.53 L488.70,423.57 L490.30,423.57 L490.30,420.67 L491.90,420.67 L491.90,419.56 L493.50,419.56 L493.50,417.85 L495.10,417.85 L495.10,417.94 L496.70,417.94 L496.70,416.82 L498.30,416.82 L498.30,417.82 L499.90,417.82 L499.90,412.40 L501.50,412.40 L501.50,410.23 L503.10,410.23 L503.10,406.80 L504.70,406.80 L504.70,409.77 L506.30,409.77 L506.30,407.66 L507.90,407.66 L507.90,407.51 L509.50,407.51 L509.50,407.37 L511.10,407.37 L511.10,400.90 L512.70,400.90 L512.70,398.18 L514.30,398.18 L514.30,400.32 L515.90,400.32 L515.90,395.17 L517.50,395.17 L517.50,391.11 L519.10,391.11 L519.10,394.87 L520.70,394.87 L520.70,388.78 L522.30,388.78 L522.30,384.91 L523.90,384.91 L523.90,381.63 L525.50,381.63 L525.50,386.27 L527.10,386.27 L527.10,384.08 L528.70,384.08 L528.70,379.92 L530.30,379.92 L530.30,377.81 L531.90,377.81 L531.90,383.02 L533.50,383.02 L533.50,381.49 L535.10,381.49 L535.10,381.22 L536.70,381.22 L536.70,375.35 L538.30,375.35 L538.30,377.48 L539.90,377.48 L539.90,373.37 L541.50,373.37 L541.50,371.16 L543.10,371.16 L543.10,366.07 L544.70,366.07 L544.70,363.92 L546.30,363.92 L546.30,361.38 L547.90,361.38 L547.90,354.82 L549.50,354.82 L549.50,353.25 L551.10,353.25 L551.10,359.66 L552.70,359.66 L552.70,359.36 L554.30,359.36 L554.30,350.75 L555.90,350.75 L555.90,347.82 L557.50,347.82 L557.50,346.79 L559.10,346.79 L559.10,342.81 L560.70,342.81 L560.70,331.48 L562.30,331.48 L562.30,338.03 L563.90,338.03 L563.90,334.18 L565.50,334.18 L565.50,332.42 L567.10,332.42 L567.10,333.48 L568.70,333.48 L568.70,331.52 L570.30,331.52 L570.30,334.76 L571.90,334.76 L571.90,338.86 L573.50,338.86 L573.50,346.91 L575.10,346.91 L575.10,342.98 L576.70,342.98 L576.70,345.33 L578.30,345.33 L578.30,347.61 L579.90,347.61 L579.90,356.64 L581.50,356.64 L581.50,356.34 L583.10,356.34 L583.10,365.86 L584.70,365.86 L584.70,368.05 L586.30,368.05 L586.30,373.14 L587.90,373.14 L587.90,377.69 L589.50,377.69 L589.50,376.26 L591.10,376.26 L591.10,380.81 L592.70,380.81 L592.70,381.07 L594.30,381.07 L594.30,388.12 L595.90,388.12 L595.90,389.11 L597.50,389.11 L597.50,388.70 L599.10,388.70 L599.10,393.25 L600.70,393.25 L600.70,397.71 L602.30,397.71 L602.30,400.51 L603.90,400.51 L603.90,402.52 L605.50,402.52 L605.50,404.28 L607.10,404.28 L607.10,405.71 L608.70,405.71 L608.70,409.16 L610.30,409.16 L610.30,410.89 L611.90,410.89 L611.90,413.40 L613.50,413.40 L613.50,416.37 L615.10,416.37 L615.10,416.70 L616.70,416.70 L616.70,419.11 L618.30,419.11 L618.30,421.47 L619.90,421.47 L619.90,422.61 L621.50,422.61 L621.50,423.62 L623.10,423.62 L623.10,425.17 L624.70,425.17 L624.70,426.48 L626.30,426.48 L626.30,426.01 L627.90,426.01 L627.90,427.25 L629.50,427.25 L629.50,427.12 L631.10,427.12 L631.10,428.78 L632.70,428.78 L632.70,429.00 L634.30,429.00 L634.30,429.68 L635.90,429.68 L635.90,430.68 L637.50,430.68 L637.50,430.60 L639.10,430.60 L639.10,431.50 L640.70,431.50 L640.70,431.66 L642.30,431.66 L642.30,431.33 L643.90,431.33 L643.90,431.91 L645.50,431.91 L645.50,432.46 L647.10,432.46 L647.10,433.16 L648.70,433.16 L648.70,432.85 L650.30,432.85 L650.30,432.53 L651.90,432.53 L651.90,434.33 L653.50,434.33 L653.50,433.19 L655.10,433.19 L655.10,433.64 L656.70,433.64 L656.70,433.45 L658.30,433.45 L658.30,433.57 L659.90,433.57 L659.90,434.42 L661.50,434.42 L661.50,433.68 L663.10,433.68 L663.10,434.52 L664.70,434.52 L664.70,434.54 L666.30,434.54 L666.30,434.43 L667.90,434.43 L667.90,434.74 L669.50,434.74 L669.50,434.79 L671.10,434.79 L671.10,435.04 L672.00,435.04 L672.00,435.40 Z" fill="#d4d3d4"/>
<line x1="416.70" y1="406.70" x2="672.00" y2="406.70" stroke="#b4b4b4" stroke-width="1.0"/>
<line x1="416.70" y1="378.00" x2="672.00" y2="378.00" stroke="#b4b4b4" stroke-width="1.0"/>
<line x1="416.70" y1="349.30" x2="672.00" y2="349.30" stroke="#b4b4b4" stroke-width="1.0"/>
<line x1="416.70" y1="320.60" x2="672.00" y2="320.60" stroke="#b4b4b4" stroke-width="1.0"/>
<path d="M416.70,435.40 L416.70,435.40 L418.30,435.40 L418.30,435.40 L419.90,435.40 L419.90,435.40 L421.50,435.40 L421.50,435.40 L423.10,435.40 L423.10,435.40 L424.70,435.40 L424.70,435.40 L426.30,435.40 L426.30,435.40 L427.90,435.40 L427.90,435.40 L429.50,435.40 L429.50,435.40 L431.10,435.40 L431.10,435.40 L432.70,435.40 L432.70,435.40 L434.30,435.40 L434.30,435.40 L435.90,435.40 L435.90,435.40 L437.50,435.40 L437.50,435.40 L439.10,435.40 L439.10,435.40 L440.70,435.40 L440.70,435.40 L442.30,435.40 L442.30,435.40 L443.90,435.40 L443.90,435.40 L445.50,435.40 L445.50,435.40 L447.10,435.40 L447.10,435.40 L448.70,435.40 L448.70,435.40 L450.30,435.40 L450.30,435.40 L451.90,435.40 L451.90,435.40 L453.50,435.40 L453.50,435.40 L455.10,435.40 L455.10,435.40 L456.70,435.40 L456.70,435.40 L458.30,435.40 L458.30,435.40 L459.90,435.40 L459.90,435.40 L461.50,435.40 L461.50,435.40 L463.10,435.40 L463.10,435.40 L464.70,435.40 L464.70,435.40 L466.30,435.40 L466.30,435.40 L467.90,435.40 L467.90,435.40 L469.50,435.40 L469.50,435.40 L471.10,435.40 L471.10,435.40 L472.70,435.40 L472.70,435.40 L474.30,435.40 L474.30,435.40 L475.90,435.40 L475.90,435.40 L477.50,435.40 L477.50,435.40 L479.10,435.40 L479.10,435.40 L480.70,435.40 L480.70,435.40 L482.30,435.40 L482.30,435.40 L483.90,435.40 L483.90,435.40 L485.50,435.40 L485.50,435.40 L487.10,435.40 L487.10,435.40 L488.70,435.40 L488.70,435.14 L490.30,435.14 L490.30,435.14 L491.90,435.14 L491.90,435.13 L493.50,435.13 L493.50,435.13 L495.10,435.13 L495.10,435.12 L496.70,435.12 L496.70,435.12 L498.30,435.12 L498.30,435.11 L499.90,435.11 L499.90,435.11 L501.50,435.11 L501.50,434.73 L503.10,434.73 L503.10,433.71 L504.70,433.71 L504.70,432.49 L506.30,432.49 L506.30,432.16 L507.90,432.16 L507.90,431.85 L509.50,431.85 L509.50,430.95 L511.10,430.95 L511.10,430.14 L512.70,430.14 L512.70,428.49 L514.30,428.49 L514.30,426.07 L515.90,426.07 L515.90,423.49 L517.50,423.49 L517.50,422.56 L519.10,422.56 L519.10,420.53 L520.70,420.53 L520.70,419.49 L522.30,419.49 L522.30,417.90 L523.90,417.90 L523.90,416.31 L525.50,416.31 L525.50,415.87 L527.10,415.87 L527.10,415.65 L528.70,415.65 L528.70,413.37 L530.30,413.37 L530.30,411.07 L531.90,411.07 L531.90,408.17 L533.50,408.17 L533.50,405.63 L535.10,405.63 L535.10,404.75 L536.70,404.75 L536.70,401.50 L538.30,401.50 L538.30,398.51 L539.90,398.51 L539.90,392.12 L541.50,392.12 L541.50,390.42 L543.10,390.42 L543.10,389.51 L544.70,389.51 L544.70,390.30 L546.30,390.30 L546.30,385.88 L547.90,385.88 L547.90,384.69 L549.50,384.69 L549.50,388.30 L551.10,388.30 L551.10,393.93 L552.70,393.93 L552.70,401.06 L554.30,401.06 L554.30,400.05 L555.90,400.05 L555.90,402.60 L557.50,402.60 L557.50,404.26 L559.10,404.26 L559.10,407.22 L560.70,407.22 L560.70,410.50 L562.30,410.50 L562.30,412.59 L563.90,412.59 L563.90,415.15 L565.50,415.15 L565.50,418.03 L567.10,418.03 L567.10,420.63 L568.70,420.63 L568.70,421.81 L570.30,421.81 L570.30,423.10 L571.90,423.10 L571.90,423.96 L573.50,423.96 L573.50,425.51 L575.10,425.51 L575.10,427.53 L576.70,427.53 L576.70,427.90 L578.30,427.90 L578.30,428.58 L579.90,428.58 L579.90,428.72 L581.50,428.72 L581.50,429.79 L583.10,429.79 L583.10,429.87 L584.70,429.87 L584.70,430.71 L586.30,430.71 L586.30,431.86 L587.90,431.86 L587.90,431.75 L589.50,431.75 L589.50,431.82 L591.10,431.82 L591.10,432.13 L592.70,432.13 L592.70,433.02 L594.30,433.02 L594.30,432.64 L595.90,432.64 L595.90,433.21 L597.50,433.21 L597.50,433.88 L599.10,433.88 L599.10,433.61 L600.70,433.61 L600.70,434.15 L602.30,434.15 L602.30,434.14 L603.90,434.14 L603.90,433.67 L605.50,433.67 L605.50,433.65 L607.10,433.65 L607.10,434.16 L608.70,434.16 L608.70,434.48 L610.30,434.48 L610.30,434.29 L611.90,434.29 L611.90,434.59 L613.50,434.59 L613.50,434.83 L615.10,434.83 L615.10,435.10 L616.70,435.10 L616.70,434.56 L618.30,434.56 L618.30,435.10 L619.90,435.10 L619.90,435.40 L621.50,435.40 L621.50,434.87 L623.10,434.87 L623.10,434.78 L624.70,434.78 L624.70,434.94 L626.30,434.94 L626.30,434.67 L627.90,434.67 L627.90,434.86 L629.50,434.86 L629.50,434.84 L631.10,434.84 L631.10,434.83 L632.70,434.83 L632.70,434.99 L634.30,434.99 L634.30,434.90 L635.90,434.90 L635.90,434.64 L637.50,434.64 L637.50,435.10 L639.10,435.10 L639.10,434.97 L640.70,434.97 L640.70,434.95 L642.30,434.95 L642.30,435.10 L643.90,435.10 L643.90,435.06 L645.50,435.06 L645.50,435.40 L647.10,435.40 L647.10,435.14 L648.70,435.14 L648.70,435.11 L650.30,435.11 L650.30,435.13 L651.90,435.13 L651.90,435.40 L653.50,435.40 L653.50,435.40 L655.10,435.40 L655.10,435.40 L656.70,435.40 L656.70,435.40 L658.30,435.40 L658.30,435.40 L659.90,435.40 L659.90,435.40 L661.50,435.40 L661.50,435.40 L663.10,435.40 L663.10,435.40 L664.70,435.40 L664.70,435.40 L666.30,435.40 L666.30,435.40 L667.90,435.40 L667.90,435.40 L669.50,435.40 L669.50,435.40 L671.10,435.40 L671.10,435.40 L672.00,435.40 L672.00,435.40 Z" fill="#97609a"/>
<line x1="550.09" y1="10.20" x2="550.09" y2="147.60" stroke="#7a3582" stroke-width="1.9" stroke-dasharray="8.0 6.5"/>
<line x1="568.60" y1="10.20" x2="568.60" y2="147.60" stroke="#7d7d7d" stroke-width="1.9" stroke-dasharray="8.0 6.5"/>
<line x1="549.78" y1="153.50" x2="549.78" y2="291.60" stroke="#7a3582" stroke-width="1.9" stroke-dasharray="8.0 6.5"/>
<line x1="559.99" y1="153.50" x2="559.99" y2="291.60" stroke="#7d7d7d" stroke-width="1.9" stroke-dasharray="8.0 6.5"/>
<line x1="547.86" y1="297.50" x2="547.86" y2="435.40" stroke="#7a3582" stroke-width="1.9" stroke-dasharray="8.0 6.5"/>
<line x1="560.94" y1="297.50" x2="560.94" y2="435.40" stroke="#7d7d7d" stroke-width="1.9" stroke-dasharray="8.0 6.5"/>
<line x1="416.70" y1="4.30" x2="672.00" y2="4.30" stroke="#2f2f2f" stroke-width="1.3"/>
<line x1="672.00" y1="4.30" x2="672.00" y2="435.40" stroke="#2f2f2f" stroke-width="1.3"/>
<line x1="416.70" y1="4.30" x2="416.70" y2="435.40" stroke="#2f2f2f" stroke-width="1.3"/>
<line x1="416.70" y1="147.60" x2="672.00" y2="147.60" stroke="#2f2f2f" stroke-width="1.3"/>
<line x1="412.10" y1="147.60" x2="416.70" y2="147.60" stroke="#2f2f2f" stroke-width="1.2"/>
<text transform="translate(401.97,151.90) scale(1.0400,1)" font-size="12.5" fill="#2b2b2b" stroke="#2b2b2b" stroke-width="0.05">0</text>
<line x1="414.10" y1="118.90" x2="416.70" y2="118.90" stroke="#2f2f2f" stroke-width="1.2"/>
<line x1="412.10" y1="90.20" x2="416.70" y2="90.20" stroke="#2f2f2f" stroke-width="1.2"/>
<text transform="translate(387.51,94.50) scale(1.0400,1)" font-size="12.5" fill="#2b2b2b" stroke="#2b2b2b" stroke-width="0.05">200</text>
<line x1="414.10" y1="61.50" x2="416.70" y2="61.50" stroke="#2f2f2f" stroke-width="1.2"/>
<line x1="412.10" y1="32.80" x2="416.70" y2="32.80" stroke="#2f2f2f" stroke-width="1.2"/>
<text transform="translate(387.51,37.10) scale(1.0400,1)" font-size="12.5" fill="#2b2b2b" stroke="#2b2b2b" stroke-width="0.05">400</text>
<line x1="416.70" y1="291.60" x2="672.00" y2="291.60" stroke="#2f2f2f" stroke-width="1.3"/>
<line x1="412.10" y1="291.60" x2="416.70" y2="291.60" stroke="#2f2f2f" stroke-width="1.2"/>
<text transform="translate(401.97,295.90) scale(1.0400,1)" font-size="12.5" fill="#2b2b2b" stroke="#2b2b2b" stroke-width="0.05">0</text>
<line x1="414.10" y1="262.90" x2="416.70" y2="262.90" stroke="#2f2f2f" stroke-width="1.2"/>
<line x1="412.10" y1="234.20" x2="416.70" y2="234.20" stroke="#2f2f2f" stroke-width="1.2"/>
<text transform="translate(387.51,238.50) scale(1.0400,1)" font-size="12.5" fill="#2b2b2b" stroke="#2b2b2b" stroke-width="0.05">200</text>
<line x1="414.10" y1="205.50" x2="416.70" y2="205.50" stroke="#2f2f2f" stroke-width="1.2"/>
<line x1="412.10" y1="176.80" x2="416.70" y2="176.80" stroke="#2f2f2f" stroke-width="1.2"/>
<text transform="translate(387.51,181.10) scale(1.0400,1)" font-size="12.5" fill="#2b2b2b" stroke="#2b2b2b" stroke-width="0.05">400</text>
<line x1="416.70" y1="435.40" x2="672.00" y2="435.40" stroke="#2f2f2f" stroke-width="1.3"/>
<line x1="412.10" y1="435.40" x2="416.70" y2="435.40" stroke="#2f2f2f" stroke-width="1.2"/>
<text transform="translate(401.97,439.70) scale(1.0400,1)" font-size="12.5" fill="#2b2b2b" stroke="#2b2b2b" stroke-width="0.05">0</text>
<line x1="414.10" y1="406.70" x2="416.70" y2="406.70" stroke="#2f2f2f" stroke-width="1.2"/>
<line x1="412.10" y1="378.00" x2="416.70" y2="378.00" stroke="#2f2f2f" stroke-width="1.2"/>
<text transform="translate(387.51,382.30) scale(1.0400,1)" font-size="12.5" fill="#2b2b2b" stroke="#2b2b2b" stroke-width="0.05">200</text>
<line x1="414.10" y1="349.30" x2="416.70" y2="349.30" stroke="#2f2f2f" stroke-width="1.2"/>
<line x1="412.10" y1="320.60" x2="416.70" y2="320.60" stroke="#2f2f2f" stroke-width="1.2"/>
<text transform="translate(387.51,324.90) scale(1.0400,1)" font-size="12.5" fill="#2b2b2b" stroke="#2b2b2b" stroke-width="0.05">400</text>
<line x1="416.70" y1="435.40" x2="416.70" y2="440.00" stroke="#2f2f2f" stroke-width="1.2"/>
<text transform="translate(410.82,452.30) scale(1.0400,1)" font-size="12.5" fill="#2b2b2b" stroke="#2b2b2b" stroke-width="0.05">-4</text>
<line x1="448.61" y1="435.40" x2="448.61" y2="438.20" stroke="#2f2f2f" stroke-width="1.2"/>
<line x1="480.52" y1="435.40" x2="480.52" y2="440.00" stroke="#2f2f2f" stroke-width="1.2"/>
<text transform="translate(474.79,452.30) scale(1.0400,1)" font-size="12.5" fill="#2b2b2b" stroke="#2b2b2b" stroke-width="0.05">-2</text>
<line x1="512.44" y1="435.40" x2="512.44" y2="438.20" stroke="#2f2f2f" stroke-width="1.2"/>
<line x1="544.35" y1="435.40" x2="544.35" y2="440.00" stroke="#2f2f2f" stroke-width="1.2"/>
<text transform="translate(540.73,452.30) scale(1.0400,1)" font-size="12.5" fill="#2b2b2b" stroke="#2b2b2b" stroke-width="0.05">0</text>
<line x1="576.26" y1="435.40" x2="576.26" y2="438.20" stroke="#2f2f2f" stroke-width="1.2"/>
<line x1="608.17" y1="435.40" x2="608.17" y2="440.00" stroke="#2f2f2f" stroke-width="1.2"/>
<text transform="translate(604.57,452.30) scale(1.0400,1)" font-size="12.5" fill="#2b2b2b" stroke="#2b2b2b" stroke-width="0.05">2</text>
<line x1="640.09" y1="435.40" x2="640.09" y2="438.20" stroke="#2f2f2f" stroke-width="1.2"/>
<line x1="672.00" y1="435.40" x2="672.00" y2="440.00" stroke="#2f2f2f" stroke-width="1.2"/>
<text transform="translate(668.42,452.30) scale(1.0400,1)" font-size="12.5" fill="#2b2b2b" stroke="#2b2b2b" stroke-width="0.05">4</text>
<text transform="translate(502.94,466.40) scale(1.1426,1)" font-size="12.5" fill="#2b2b2b" stroke="#2b2b2b" stroke-width="0.05">log10(FPKM)</text>
<text transform="translate(383.00,265.47) rotate(-90) scale(1.1310,1)" font-size="12.5" fill="#2b2b2b" stroke="#2b2b2b" stroke-width="0.05">Feature Count</text>
<rect x="420.40" y="16.80" width="30.20" height="14.10" fill="#d4d3d4"/>
<rect x="420.40" y="34.70" width="30.20" height="13.50" fill="#9c64a2"/>
<text transform="translate(455.78,28.40) scale(1.1337,1)" font-size="12.5" fill="#2b2b2b" stroke="#2b2b2b" stroke-width="0.05">protein-coding</text>
<text transform="translate(455.75,46.40) scale(1.1309,1)" font-size="12.5" fill="#2b2b2b" stroke="#2b2b2b" stroke-width="0.05">non-coding</text>
<text transform="translate(630.01,25.70) scale(1.0562,1)" font-size="16" fill="#2b2b2b" stroke="#2b2b2b" stroke-width="0.12">HCC</text>
<text transform="translate(630.06,169.60) scale(1.0634,1)" font-size="16" fill="#2b2b2b" stroke="#2b2b2b" stroke-width="0.12">AR</text>
<text transform="translate(628.52,313.50) scale(1.1043,1)" font-size="16" fill="#2b2b2b" stroke="#2b2b2b" stroke-width="0.12">Ctrl</text>
<text transform="translate(465.74,76.60) scale(1.1326,1)" font-size="12.5" fill="#7d4285" stroke="#7d4285" stroke-width="0.05">median=0.18</text>
<text transform="translate(571.54,76.10) scale(1.1376,1)" font-size="12.5" fill="#777777" stroke="#777777" stroke-width="0.05">median= 0.76</text>
<text transform="translate(462.94,221.90) scale(1.1355,1)" font-size="12.5" fill="#7d4285" stroke="#7d4285" stroke-width="0.05">median=0.17</text>
<text transform="translate(564.65,221.50) scale(1.1289,1)" font-size="12.5" fill="#777777" stroke="#777777" stroke-width="0.05">median=0.49</text>
<text transform="translate(463.33,366.00) scale(1.1445,1)" font-size="12.5" fill="#7d4285" stroke="#7d4285" stroke-width="0.05">median=0.11</text>
<text transform="translate(563.84,365.70) scale(1.1412,1)" font-size="12.5" fill="#777777" stroke="#777777" stroke-width="0.05">median=0.52</text>
<text transform="translate(1.16,517.70) scale(0.9880,1)" font-size="25" fill="#2b2b2b" stroke="#2b2b2b" stroke-width="0.12">E</text>
<g shape-rendering="crispEdges"><rect x="60.22" y="654.36" width="1.73" height="1.78" fill="#a644a5"/><rect x="97.29" y="649.16" width="1.73" height="1.78" fill="#d292cd"/><rect x="70.33" y="640.49" width="1.73" height="1.78" fill="#c16dbc"/><rect x="63.59" y="633.55" width="1.73" height="1.78" fill="#c16dbc"/><rect x="75.39" y="643.96" width="1.73" height="1.78" fill="#913594"/><rect x="87.18" y="635.28" width="1.73" height="1.78" fill="#edcfea"/><rect x="58.54" y="642.22" width="1.73" height="1.78" fill="#9d3c9e"/><rect x="60.22" y="637.02" width="1.73" height="1.78" fill="#b455b0"/><rect x="61.91" y="645.69" width="1.73" height="1.78" fill="#a644a5"/><rect x="58.54" y="647.42" width="1.73" height="1.78" fill="#b455b0"/><rect x="87.18" y="631.82" width="1.73" height="1.78" fill="#c16dbc"/><rect x="77.07" y="656.09" width="1.73" height="1.78" fill="#963698"/><rect x="53.48" y="642.22" width="1.73" height="1.78" fill="#ac4caa"/><rect x="82.13" y="645.69" width="1.73" height="1.78" fill="#a644a5"/><rect x="56.85" y="654.36" width="1.73" height="1.78" fill="#b455b0"/><rect x="88.87" y="643.96" width="1.73" height="1.78" fill="#c16dbc"/><rect x="85.50" y="645.69" width="1.73" height="1.78" fill="#b455b0"/><rect x="70.33" y="647.42" width="1.73" height="1.78" fill="#913594"/><rect x="70.33" y="645.69" width="1.73" height="1.78" fill="#963698"/><rect x="80.44" y="633.55" width="1.73" height="1.78" fill="#a644a5"/><rect x="66.96" y="661.30" width="1.73" height="1.78" fill="#a13fa1"/><rect x="60.22" y="661.30" width="1.73" height="1.78" fill="#a644a5"/><rect x="58.54" y="630.08" width="1.73" height="1.78" fill="#c16dbc"/><rect x="73.70" y="649.16" width="1.73" height="1.78" fill="#8d3490"/><rect x="80.44" y="645.69" width="1.73" height="1.78" fill="#9d3c9e"/><rect x="92.24" y="652.63" width="1.73" height="1.78" fill="#d292cd"/><rect x="72.02" y="654.36" width="1.73" height="1.78" fill="#a13fa1"/><rect x="73.70" y="642.22" width="1.73" height="1.78" fill="#963698"/><rect x="78.76" y="656.09" width="1.73" height="1.78" fill="#a13fa1"/><rect x="73.70" y="652.63" width="1.73" height="1.78" fill="#8d3490"/><rect x="93.92" y="650.89" width="1.73" height="1.78" fill="#edcfea"/><rect x="65.28" y="645.69" width="1.73" height="1.78" fill="#c16dbc"/><rect x="65.28" y="647.42" width="1.73" height="1.78" fill="#963698"/><rect x="63.59" y="628.35" width="1.73" height="1.78" fill="#9d3c9e"/><rect x="93.92" y="630.08" width="1.73" height="1.78" fill="#c16dbc"/><rect x="68.65" y="642.22" width="1.73" height="1.78" fill="#a644a5"/><rect x="77.07" y="654.36" width="1.73" height="1.78" fill="#c16dbc"/><rect x="83.81" y="637.02" width="1.73" height="1.78" fill="#b455b0"/><rect x="70.33" y="650.89" width="1.73" height="1.78" fill="#a13fa1"/><rect x="51.80" y="649.16" width="1.73" height="1.78" fill="#d292cd"/><rect x="72.02" y="657.83" width="1.73" height="1.78" fill="#9d3c9e"/><rect x="65.28" y="633.55" width="1.73" height="1.78" fill="#c16dbc"/><rect x="53.48" y="657.83" width="1.73" height="1.78" fill="#edcfea"/><rect x="53.48" y="628.35" width="1.73" height="1.78" fill="#d292cd"/><rect x="78.76" y="654.36" width="1.73" height="1.78" fill="#a644a5"/><rect x="77.07" y="645.69" width="1.73" height="1.78" fill="#9d3c9e"/><rect x="75.39" y="645.69" width="1.73" height="1.78" fill="#a13fa1"/><rect x="77.07" y="640.49" width="1.73" height="1.78" fill="#9d3c9e"/><rect x="63.59" y="661.30" width="1.73" height="1.78" fill="#a13fa1"/><rect x="60.22" y="663.03" width="1.73" height="1.78" fill="#ac4caa"/><rect x="78.76" y="637.02" width="1.73" height="1.78" fill="#ac4caa"/><rect x="60.22" y="635.28" width="1.73" height="1.78" fill="#c16dbc"/><rect x="66.96" y="657.83" width="1.73" height="1.78" fill="#ac4caa"/><rect x="55.17" y="647.42" width="1.73" height="1.78" fill="#ac4caa"/><rect x="66.96" y="645.69" width="1.73" height="1.78" fill="#8d3490"/><rect x="66.96" y="663.03" width="1.73" height="1.78" fill="#c16dbc"/><rect x="63.59" y="657.83" width="1.73" height="1.78" fill="#a13fa1"/><rect x="70.33" y="661.30" width="1.73" height="1.78" fill="#a13fa1"/><rect x="97.29" y="647.42" width="1.73" height="1.78" fill="#edcfea"/><rect x="80.44" y="642.22" width="1.73" height="1.78" fill="#a13fa1"/><rect x="58.54" y="649.16" width="1.73" height="1.78" fill="#a644a5"/><rect x="63.59" y="654.36" width="1.73" height="1.78" fill="#9d3c9e"/><rect x="87.18" y="638.75" width="1.73" height="1.78" fill="#c16dbc"/><rect x="66.96" y="633.55" width="1.73" height="1.78" fill="#a13fa1"/><rect x="72.02" y="659.56" width="1.73" height="1.78" fill="#9d3c9e"/><rect x="66.96" y="656.09" width="1.73" height="1.78" fill="#9d3c9e"/><rect x="65.28" y="661.30" width="1.73" height="1.78" fill="#a644a5"/><rect x="66.96" y="640.49" width="1.73" height="1.78" fill="#a13fa1"/><rect x="73.70" y="628.35" width="1.73" height="1.78" fill="#c16dbc"/><rect x="70.33" y="642.22" width="1.73" height="1.78" fill="#a13fa1"/><rect x="66.96" y="664.77" width="1.73" height="1.78" fill="#b455b0"/><rect x="65.28" y="649.16" width="1.73" height="1.78" fill="#a13fa1"/><rect x="73.70" y="635.28" width="1.73" height="1.78" fill="#a644a5"/><rect x="58.54" y="652.63" width="1.73" height="1.78" fill="#a13fa1"/><rect x="82.13" y="656.09" width="1.73" height="1.78" fill="#9d3c9e"/><rect x="61.91" y="649.16" width="1.73" height="1.78" fill="#a644a5"/><rect x="72.02" y="647.42" width="1.73" height="1.78" fill="#963698"/><rect x="53.48" y="664.77" width="1.73" height="1.78" fill="#99399b"/><rect x="85.50" y="647.42" width="1.73" height="1.78" fill="#b455b0"/><rect x="82.13" y="647.42" width="1.73" height="1.78" fill="#d292cd"/><rect x="72.02" y="645.69" width="1.73" height="1.78" fill="#963698"/><rect x="65.28" y="637.02" width="1.73" height="1.78" fill="#a644a5"/><rect x="78.76" y="649.16" width="1.73" height="1.78" fill="#9d3c9e"/><rect x="70.33" y="630.08" width="1.73" height="1.78" fill="#b455b0"/><rect x="55.17" y="642.22" width="1.73" height="1.78" fill="#ac4caa"/><rect x="82.13" y="628.35" width="1.73" height="1.78" fill="#d292cd"/><rect x="87.18" y="656.09" width="1.73" height="1.78" fill="#d292cd"/><rect x="78.76" y="650.89" width="1.73" height="1.78" fill="#a644a5"/><rect x="78.76" y="645.69" width="1.73" height="1.78" fill="#a644a5"/><rect x="80.44" y="656.09" width="1.73" height="1.78" fill="#a644a5"/><rect x="75.39" y="637.02" width="1.73" height="1.78" fill="#ac4caa"/><rect x="92.24" y="656.09" width="1.73" height="1.78" fill="#edcfea"/><rect x="77.07" y="628.35" width="1.73" height="1.78" fill="#c16dbc"/><rect x="70.33" y="635.28" width="1.73" height="1.78" fill="#b455b0"/><rect x="95.61" y="638.75" width="1.73" height="1.78" fill="#b455b0"/><rect x="80.44" y="635.28" width="1.73" height="1.78" fill="#edcfea"/><rect x="58.54" y="664.77" width="1.73" height="1.78" fill="#d292cd"/><rect x="70.33" y="652.63" width="1.73" height="1.78" fill="#963698"/><rect x="65.28" y="654.36" width="1.73" height="1.78" fill="#963698"/><rect x="61.91" y="659.56" width="1.73" height="1.78" fill="#ac4caa"/><rect x="72.02" y="649.16" width="1.73" height="1.78" fill="#9d3c9e"/><rect x="68.65" y="649.16" width="1.73" height="1.78" fill="#7d3082"/><rect x="75.39" y="631.82" width="1.73" height="1.78" fill="#a644a5"/><rect x="65.28" y="638.75" width="1.73" height="1.78" fill="#9d3c9e"/><rect x="68.65" y="663.03" width="1.73" height="1.78" fill="#c16dbc"/><rect x="83.81" y="642.22" width="1.73" height="1.78" fill="#a13fa1"/><rect x="68.65" y="650.89" width="1.73" height="1.78" fill="#ac4caa"/><rect x="65.28" y="659.56" width="1.73" height="1.78" fill="#913594"/><rect x="55.17" y="663.03" width="1.73" height="1.78" fill="#a13fa1"/><rect x="63.59" y="649.16" width="1.73" height="1.78" fill="#963698"/><rect x="85.50" y="635.28" width="1.73" height="1.78" fill="#ac4caa"/><rect x="82.13" y="638.75" width="1.73" height="1.78" fill="#a13fa1"/><rect x="80.44" y="661.30" width="1.73" height="1.78" fill="#a13fa1"/><rect x="72.02" y="650.89" width="1.73" height="1.78" fill="#843288"/><rect x="78.76" y="647.42" width="1.73" height="1.78" fill="#99399b"/><rect x="65.28" y="664.77" width="1.73" height="1.78" fill="#c16dbc"/><rect x="58.54" y="654.36" width="1.73" height="1.78" fill="#b455b0"/><rect x="83.81" y="649.16" width="1.73" height="1.78" fill="#ac4caa"/><rect x="66.96" y="654.36" width="1.73" height="1.78" fill="#a13fa1"/><rect x="78.76" y="635.28" width="1.73" height="1.78" fill="#a644a5"/><rect x="77.07" y="637.02" width="1.73" height="1.78" fill="#ac4caa"/><rect x="65.28" y="643.96" width="1.73" height="1.78" fill="#99399b"/><rect x="70.33" y="656.09" width="1.73" height="1.78" fill="#963698"/><rect x="70.33" y="654.36" width="1.73" height="1.78" fill="#a13fa1"/><rect x="68.65" y="631.82" width="1.73" height="1.78" fill="#c16dbc"/><rect x="80.44" y="647.42" width="1.73" height="1.78" fill="#b455b0"/><rect x="68.65" y="626.61" width="1.73" height="1.78" fill="#c16dbc"/><rect x="58.54" y="633.55" width="1.73" height="1.78" fill="#c16dbc"/><rect x="58.54" y="656.09" width="1.73" height="1.78" fill="#ac4caa"/><rect x="83.81" y="657.83" width="1.73" height="1.78" fill="#b455b0"/><rect x="61.91" y="637.02" width="1.73" height="1.78" fill="#ac4caa"/><rect x="65.28" y="640.49" width="1.73" height="1.78" fill="#a13fa1"/><rect x="78.76" y="638.75" width="1.73" height="1.78" fill="#963698"/><rect x="88.87" y="661.30" width="1.73" height="1.78" fill="#d292cd"/><rect x="68.65" y="637.02" width="1.73" height="1.78" fill="#c16dbc"/><rect x="75.39" y="650.89" width="1.73" height="1.78" fill="#99399b"/><rect x="78.76" y="640.49" width="1.73" height="1.78" fill="#a644a5"/><rect x="72.02" y="643.96" width="1.73" height="1.78" fill="#963698"/><rect x="56.85" y="657.83" width="1.73" height="1.78" fill="#a13fa1"/><rect x="83.81" y="654.36" width="1.73" height="1.78" fill="#c16dbc"/><rect x="83.81" y="663.03" width="1.73" height="1.78" fill="#d292cd"/><rect x="80.44" y="643.96" width="1.73" height="1.78" fill="#9d3c9e"/><rect x="85.50" y="663.03" width="1.73" height="1.78" fill="#d292cd"/><rect x="63.59" y="663.03" width="1.73" height="1.78" fill="#88338c"/><rect x="82.13" y="630.08" width="1.73" height="1.78" fill="#d292cd"/><rect x="75.39" y="635.28" width="1.73" height="1.78" fill="#9d3c9e"/><rect x="70.33" y="624.88" width="1.73" height="1.78" fill="#c16dbc"/><rect x="61.91" y="638.75" width="1.73" height="1.78" fill="#9d3c9e"/><rect x="85.50" y="642.22" width="1.73" height="1.78" fill="#c16dbc"/><rect x="56.85" y="640.49" width="1.73" height="1.78" fill="#ac4caa"/><rect x="72.02" y="661.30" width="1.73" height="1.78" fill="#a644a5"/><rect x="73.70" y="626.61" width="1.73" height="1.78" fill="#d292cd"/><rect x="72.02" y="664.77" width="1.73" height="1.78" fill="#a644a5"/><rect x="66.96" y="652.63" width="1.73" height="1.78" fill="#a644a5"/><rect x="73.70" y="637.02" width="1.73" height="1.78" fill="#ac4caa"/><rect x="63.59" y="642.22" width="1.73" height="1.78" fill="#ac4caa"/><rect x="55.17" y="645.69" width="1.73" height="1.78" fill="#ac4caa"/><rect x="70.33" y="657.83" width="1.73" height="1.78" fill="#ac4caa"/><rect x="51.80" y="637.02" width="1.73" height="1.78" fill="#c16dbc"/><rect x="68.65" y="638.75" width="1.73" height="1.78" fill="#963698"/><rect x="72.02" y="652.63" width="1.73" height="1.78" fill="#9d3c9e"/><rect x="61.91" y="652.63" width="1.73" height="1.78" fill="#a644a5"/><rect x="77.07" y="647.42" width="1.73" height="1.78" fill="#ac4caa"/><rect x="63.59" y="664.77" width="1.73" height="1.78" fill="#edcfea"/><rect x="65.28" y="635.28" width="1.73" height="1.78" fill="#ac4caa"/><rect x="78.76" y="642.22" width="1.73" height="1.78" fill="#ac4caa"/><rect x="87.18" y="633.55" width="1.73" height="1.78" fill="#c16dbc"/><rect x="53.48" y="640.49" width="1.73" height="1.78" fill="#c16dbc"/><rect x="61.91" y="640.49" width="1.73" height="1.78" fill="#b455b0"/><rect x="60.22" y="656.09" width="1.73" height="1.78" fill="#b455b0"/><rect x="83.81" y="645.69" width="1.73" height="1.78" fill="#8d3490"/><rect x="80.44" y="638.75" width="1.73" height="1.78" fill="#b455b0"/><rect x="77.07" y="635.28" width="1.73" height="1.78" fill="#9d3c9e"/><rect x="63.59" y="631.82" width="1.73" height="1.78" fill="#b455b0"/><rect x="75.39" y="656.09" width="1.73" height="1.78" fill="#a13fa1"/><rect x="80.44" y="631.82" width="1.73" height="1.78" fill="#ac4caa"/><rect x="78.76" y="663.03" width="1.73" height="1.78" fill="#c16dbc"/><rect x="68.65" y="654.36" width="1.73" height="1.78" fill="#99399b"/><rect x="75.39" y="647.42" width="1.73" height="1.78" fill="#9d3c9e"/><rect x="92.24" y="654.36" width="1.73" height="1.78" fill="#c16dbc"/><rect x="56.85" y="645.69" width="1.73" height="1.78" fill="#c16dbc"/><rect x="75.39" y="663.03" width="1.73" height="1.78" fill="#c16dbc"/><rect x="70.33" y="663.03" width="1.73" height="1.78" fill="#c16dbc"/><rect x="55.17" y="643.96" width="1.73" height="1.78" fill="#ac4caa"/><rect x="68.65" y="635.28" width="1.73" height="1.78" fill="#c16dbc"/><rect x="87.18" y="652.63" width="1.73" height="1.78" fill="#ac4caa"/><rect x="95.61" y="635.28" width="1.73" height="1.78" fill="#d292cd"/><rect x="60.22" y="638.75" width="1.73" height="1.78" fill="#b455b0"/><rect x="82.13" y="635.28" width="1.73" height="1.78" fill="#d292cd"/><rect x="51.80" y="652.63" width="1.73" height="1.78" fill="#c16dbc"/><rect x="68.65" y="657.83" width="1.73" height="1.78" fill="#b455b0"/><rect x="83.81" y="652.63" width="1.73" height="1.78" fill="#c16dbc"/><rect x="65.28" y="628.35" width="1.73" height="1.78" fill="#d292cd"/><rect x="70.33" y="659.56" width="1.73" height="1.78" fill="#99399b"/><rect x="75.39" y="638.75" width="1.73" height="1.78" fill="#ac4caa"/><rect x="51.80" y="647.42" width="1.73" height="1.78" fill="#d292cd"/><rect x="78.76" y="633.55" width="1.73" height="1.78" fill="#c16dbc"/><rect x="72.02" y="656.09" width="1.73" height="1.78" fill="#9d3c9e"/><rect x="51.80" y="650.89" width="1.73" height="1.78" fill="#edcfea"/><rect x="66.96" y="637.02" width="1.73" height="1.78" fill="#a13fa1"/><rect x="60.22" y="647.42" width="1.73" height="1.78" fill="#88338c"/><rect x="70.33" y="637.02" width="1.73" height="1.78" fill="#a13fa1"/><rect x="51.80" y="663.03" width="1.73" height="1.78" fill="#c16dbc"/><rect x="55.17" y="659.56" width="1.73" height="1.78" fill="#d292cd"/><rect x="68.65" y="652.63" width="1.73" height="1.78" fill="#8d3490"/><rect x="80.44" y="652.63" width="1.73" height="1.78" fill="#c16dbc"/><rect x="65.28" y="657.83" width="1.73" height="1.78" fill="#88338c"/><rect x="75.39" y="664.77" width="1.73" height="1.78" fill="#d292cd"/><rect x="73.70" y="645.69" width="1.73" height="1.78" fill="#963698"/><rect x="66.96" y="643.96" width="1.73" height="1.78" fill="#a13fa1"/><rect x="68.65" y="647.42" width="1.73" height="1.78" fill="#963698"/><rect x="82.13" y="642.22" width="1.73" height="1.78" fill="#ac4caa"/><rect x="82.13" y="657.83" width="1.73" height="1.78" fill="#b455b0"/><rect x="93.92" y="647.42" width="1.73" height="1.78" fill="#c16dbc"/><rect x="77.07" y="642.22" width="1.73" height="1.78" fill="#a644a5"/><rect x="73.70" y="643.96" width="1.73" height="1.78" fill="#a13fa1"/><rect x="73.70" y="663.03" width="1.73" height="1.78" fill="#ac4caa"/><rect x="90.55" y="656.09" width="1.73" height="1.78" fill="#edcfea"/><rect x="55.17" y="656.09" width="1.73" height="1.78" fill="#a644a5"/><rect x="63.59" y="637.02" width="1.73" height="1.78" fill="#ac4caa"/><rect x="66.96" y="626.61" width="1.73" height="1.78" fill="#c16dbc"/><rect x="63.59" y="640.49" width="1.73" height="1.78" fill="#ac4caa"/><rect x="65.28" y="656.09" width="1.73" height="1.78" fill="#a13fa1"/><rect x="66.96" y="642.22" width="1.73" height="1.78" fill="#a644a5"/><rect x="55.17" y="652.63" width="1.73" height="1.78" fill="#c16dbc"/><rect x="68.65" y="664.77" width="1.73" height="1.78" fill="#99399b"/><rect x="73.70" y="650.89" width="1.73" height="1.78" fill="#99399b"/><rect x="56.85" y="650.89" width="1.73" height="1.78" fill="#ac4caa"/><rect x="68.65" y="633.55" width="1.73" height="1.78" fill="#b455b0"/><rect x="92.24" y="647.42" width="1.73" height="1.78" fill="#c16dbc"/><rect x="80.44" y="659.56" width="1.73" height="1.78" fill="#b455b0"/><rect x="80.44" y="664.77" width="1.73" height="1.78" fill="#edcfea"/><rect x="77.07" y="643.96" width="1.73" height="1.78" fill="#a644a5"/><rect x="61.91" y="630.08" width="1.73" height="1.78" fill="#b455b0"/><rect x="58.54" y="650.89" width="1.73" height="1.78" fill="#9d3c9e"/><rect x="60.22" y="652.63" width="1.73" height="1.78" fill="#9d3c9e"/><rect x="85.50" y="640.49" width="1.73" height="1.78" fill="#edcfea"/><rect x="66.96" y="649.16" width="1.73" height="1.78" fill="#99399b"/><rect x="53.48" y="637.02" width="1.73" height="1.78" fill="#b455b0"/><rect x="60.22" y="657.83" width="1.73" height="1.78" fill="#88338c"/><rect x="80.44" y="654.36" width="1.73" height="1.78" fill="#b455b0"/><rect x="85.50" y="649.16" width="1.73" height="1.78" fill="#c16dbc"/><rect x="58.54" y="661.30" width="1.73" height="1.78" fill="#ac4caa"/><rect x="53.48" y="652.63" width="1.73" height="1.78" fill="#a644a5"/><rect x="63.59" y="656.09" width="1.73" height="1.78" fill="#9d3c9e"/><rect x="63.59" y="645.69" width="1.73" height="1.78" fill="#ac4caa"/><rect x="75.39" y="652.63" width="1.73" height="1.78" fill="#99399b"/><rect x="60.22" y="642.22" width="1.73" height="1.78" fill="#a644a5"/><rect x="58.54" y="659.56" width="1.73" height="1.78" fill="#edcfea"/><rect x="75.39" y="659.56" width="1.73" height="1.78" fill="#a644a5"/><rect x="77.07" y="631.82" width="1.73" height="1.78" fill="#ac4caa"/><rect x="88.87" y="647.42" width="1.73" height="1.78" fill="#d292cd"/><rect x="85.50" y="637.02" width="1.73" height="1.78" fill="#d292cd"/><rect x="85.50" y="631.82" width="1.73" height="1.78" fill="#c16dbc"/><rect x="72.02" y="640.49" width="1.73" height="1.78" fill="#c16dbc"/><rect x="82.13" y="663.03" width="1.73" height="1.78" fill="#c16dbc"/><rect x="65.28" y="650.89" width="1.73" height="1.78" fill="#99399b"/><rect x="68.65" y="640.49" width="1.73" height="1.78" fill="#9d3c9e"/><rect x="82.13" y="637.02" width="1.73" height="1.78" fill="#d292cd"/><rect x="61.91" y="664.77" width="1.73" height="1.78" fill="#b455b0"/><rect x="58.54" y="643.96" width="1.73" height="1.78" fill="#a13fa1"/><rect x="51.80" y="640.49" width="1.73" height="1.78" fill="#9d3c9e"/><rect x="63.59" y="635.28" width="1.73" height="1.78" fill="#a644a5"/><rect x="55.17" y="633.55" width="1.73" height="1.78" fill="#d292cd"/><rect x="51.80" y="638.75" width="1.73" height="1.78" fill="#d292cd"/><rect x="58.54" y="657.83" width="1.73" height="1.78" fill="#a13fa1"/><rect x="70.33" y="638.75" width="1.73" height="1.78" fill="#913594"/><rect x="82.13" y="659.56" width="1.73" height="1.78" fill="#b455b0"/><rect x="68.65" y="630.08" width="1.73" height="1.78" fill="#d292cd"/><rect x="88.87" y="652.63" width="1.73" height="1.78" fill="#d292cd"/><rect x="61.91" y="633.55" width="1.73" height="1.78" fill="#b455b0"/><rect x="78.76" y="643.96" width="1.73" height="1.78" fill="#c16dbc"/><rect x="53.48" y="656.09" width="1.73" height="1.78" fill="#b455b0"/><rect x="97.29" y="650.89" width="1.73" height="1.78" fill="#edcfea"/><rect x="61.91" y="650.89" width="1.73" height="1.78" fill="#a644a5"/><rect x="73.70" y="647.42" width="1.73" height="1.78" fill="#ac4caa"/><rect x="61.91" y="643.96" width="1.73" height="1.78" fill="#a644a5"/><rect x="73.70" y="664.77" width="1.73" height="1.78" fill="#b455b0"/><rect x="85.50" y="664.77" width="1.73" height="1.78" fill="#edcfea"/><rect x="90.55" y="628.35" width="1.73" height="1.78" fill="#edcfea"/><rect x="93.92" y="640.49" width="1.73" height="1.78" fill="#c16dbc"/><rect x="56.85" y="663.03" width="1.73" height="1.78" fill="#ac4caa"/><rect x="53.48" y="647.42" width="1.73" height="1.78" fill="#b455b0"/><rect x="82.13" y="652.63" width="1.73" height="1.78" fill="#ac4caa"/><rect x="85.50" y="656.09" width="1.73" height="1.78" fill="#b455b0"/><rect x="73.70" y="633.55" width="1.73" height="1.78" fill="#b455b0"/><rect x="72.02" y="633.55" width="1.73" height="1.78" fill="#d292cd"/><rect x="60.22" y="640.49" width="1.73" height="1.78" fill="#b455b0"/><rect x="66.96" y="630.08" width="1.73" height="1.78" fill="#a644a5"/><rect x="60.22" y="649.16" width="1.73" height="1.78" fill="#99399b"/><rect x="75.39" y="640.49" width="1.73" height="1.78" fill="#ac4caa"/><rect x="73.70" y="654.36" width="1.73" height="1.78" fill="#8d3490"/><rect x="68.65" y="645.69" width="1.73" height="1.78" fill="#99399b"/><rect x="75.39" y="630.08" width="1.73" height="1.78" fill="#c16dbc"/><rect x="78.76" y="652.63" width="1.73" height="1.78" fill="#d292cd"/><rect x="66.96" y="638.75" width="1.73" height="1.78" fill="#a13fa1"/><rect x="82.13" y="650.89" width="1.73" height="1.78" fill="#c16dbc"/><rect x="78.76" y="624.88" width="1.73" height="1.78" fill="#9d3c9e"/><rect x="80.44" y="649.16" width="1.73" height="1.78" fill="#9d3c9e"/><rect x="93.92" y="649.16" width="1.73" height="1.78" fill="#d292cd"/><rect x="56.85" y="649.16" width="1.73" height="1.78" fill="#a644a5"/><rect x="83.81" y="633.55" width="1.73" height="1.78" fill="#c16dbc"/><rect x="88.87" y="649.16" width="1.73" height="1.78" fill="#b455b0"/><rect x="58.54" y="645.69" width="1.73" height="1.78" fill="#a13fa1"/><rect x="72.02" y="628.35" width="1.73" height="1.78" fill="#c16dbc"/><rect x="56.85" y="638.75" width="1.73" height="1.78" fill="#c16dbc"/><rect x="73.70" y="638.75" width="1.73" height="1.78" fill="#b455b0"/><rect x="66.96" y="650.89" width="1.73" height="1.78" fill="#963698"/><rect x="77.07" y="650.89" width="1.73" height="1.78" fill="#a644a5"/><rect x="61.91" y="654.36" width="1.73" height="1.78" fill="#99399b"/><rect x="78.76" y="657.83" width="1.73" height="1.78" fill="#ac4caa"/><rect x="85.50" y="652.63" width="1.73" height="1.78" fill="#ac4caa"/><rect x="88.87" y="640.49" width="1.73" height="1.78" fill="#d292cd"/><rect x="83.81" y="664.77" width="1.73" height="1.78" fill="#d292cd"/><rect x="68.65" y="661.30" width="1.73" height="1.78" fill="#b455b0"/><rect x="53.48" y="649.16" width="1.73" height="1.78" fill="#d292cd"/><rect x="78.76" y="630.08" width="1.73" height="1.78" fill="#c16dbc"/><rect x="61.91" y="635.28" width="1.73" height="1.78" fill="#b455b0"/><rect x="55.17" y="650.89" width="1.73" height="1.78" fill="#b455b0"/><rect x="83.81" y="659.56" width="1.73" height="1.78" fill="#c16dbc"/><rect x="68.65" y="659.56" width="1.73" height="1.78" fill="#a644a5"/><rect x="77.07" y="638.75" width="1.73" height="1.78" fill="#a644a5"/><rect x="63.59" y="647.42" width="1.73" height="1.78" fill="#a13fa1"/><rect x="87.18" y="649.16" width="1.73" height="1.78" fill="#c16dbc"/><rect x="55.17" y="631.82" width="1.73" height="1.78" fill="#d292cd"/><rect x="66.96" y="659.56" width="1.73" height="1.78" fill="#a13fa1"/><rect x="58.54" y="640.49" width="1.73" height="1.78" fill="#a644a5"/><rect x="73.70" y="659.56" width="1.73" height="1.78" fill="#a644a5"/><rect x="82.13" y="631.82" width="1.73" height="1.78" fill="#c16dbc"/><rect x="88.87" y="635.28" width="1.73" height="1.78" fill="#b455b0"/><rect x="53.48" y="654.36" width="1.73" height="1.78" fill="#b455b0"/><rect x="68.65" y="656.09" width="1.73" height="1.78" fill="#963698"/><rect x="85.50" y="633.55" width="1.73" height="1.78" fill="#a644a5"/><rect x="61.91" y="661.30" width="1.73" height="1.78" fill="#c16dbc"/><rect x="87.18" y="626.61" width="1.73" height="1.78" fill="#d292cd"/><rect x="68.65" y="643.96" width="1.73" height="1.78" fill="#9d3c9e"/><rect x="95.61" y="649.16" width="1.73" height="1.78" fill="#d292cd"/><rect x="60.22" y="643.96" width="1.73" height="1.78" fill="#a644a5"/><rect x="61.91" y="663.03" width="1.73" height="1.78" fill="#c16dbc"/><rect x="83.81" y="661.30" width="1.73" height="1.78" fill="#b455b0"/><rect x="90.55" y="638.75" width="1.73" height="1.78" fill="#c16dbc"/><rect x="75.39" y="642.22" width="1.73" height="1.78" fill="#a644a5"/><rect x="77.07" y="663.03" width="1.73" height="1.78" fill="#c16dbc"/><rect x="80.44" y="630.08" width="1.73" height="1.78" fill="#d292cd"/><rect x="77.07" y="657.83" width="1.73" height="1.78" fill="#963698"/><rect x="60.22" y="664.77" width="1.73" height="1.78" fill="#edcfea"/><rect x="73.70" y="656.09" width="1.73" height="1.78" fill="#b455b0"/><rect x="95.61" y="628.35" width="1.73" height="1.78" fill="#d292cd"/><rect x="72.02" y="642.22" width="1.73" height="1.78" fill="#a644a5"/><rect x="51.80" y="656.09" width="1.73" height="1.78" fill="#b455b0"/><rect x="72.02" y="626.61" width="1.73" height="1.78" fill="#d292cd"/><rect x="72.02" y="637.02" width="1.73" height="1.78" fill="#edcfea"/><rect x="55.17" y="649.16" width="1.73" height="1.78" fill="#b455b0"/><rect x="85.50" y="654.36" width="1.73" height="1.78" fill="#edcfea"/><rect x="82.13" y="626.61" width="1.73" height="1.78" fill="#c16dbc"/><rect x="60.22" y="633.55" width="1.73" height="1.78" fill="#b455b0"/><rect x="56.85" y="643.96" width="1.73" height="1.78" fill="#a644a5"/><rect x="77.07" y="664.77" width="1.73" height="1.78" fill="#d292cd"/><rect x="60.22" y="631.82" width="1.73" height="1.78" fill="#d292cd"/><rect x="77.07" y="652.63" width="1.73" height="1.78" fill="#99399b"/><rect x="92.24" y="659.56" width="1.73" height="1.78" fill="#edcfea"/><rect x="88.87" y="657.83" width="1.73" height="1.78" fill="#d292cd"/><rect x="65.28" y="630.08" width="1.73" height="1.78" fill="#ac4caa"/><rect x="77.07" y="649.16" width="1.73" height="1.78" fill="#b455b0"/><rect x="82.13" y="643.96" width="1.73" height="1.78" fill="#c16dbc"/><rect x="55.17" y="664.77" width="1.73" height="1.78" fill="#b455b0"/><rect x="65.28" y="652.63" width="1.73" height="1.78" fill="#c16dbc"/><rect x="92.24" y="640.49" width="1.73" height="1.78" fill="#d292cd"/><rect x="55.17" y="657.83" width="1.73" height="1.78" fill="#963698"/><rect x="85.50" y="638.75" width="1.73" height="1.78" fill="#9d3c9e"/><rect x="75.39" y="657.83" width="1.73" height="1.78" fill="#c16dbc"/><rect x="73.70" y="630.08" width="1.73" height="1.78" fill="#b455b0"/><rect x="61.91" y="647.42" width="1.73" height="1.78" fill="#b455b0"/><rect x="60.22" y="659.56" width="1.73" height="1.78" fill="#d292cd"/><rect x="75.39" y="649.16" width="1.73" height="1.78" fill="#c16dbc"/><rect x="70.33" y="631.82" width="1.73" height="1.78" fill="#c16dbc"/><rect x="90.55" y="640.49" width="1.73" height="1.78" fill="#d292cd"/><rect x="78.76" y="628.35" width="1.73" height="1.78" fill="#b455b0"/><rect x="88.87" y="633.55" width="1.73" height="1.78" fill="#d292cd"/><rect x="87.18" y="637.02" width="1.73" height="1.78" fill="#a644a5"/><rect x="80.44" y="650.89" width="1.73" height="1.78" fill="#c16dbc"/><rect x="80.44" y="637.02" width="1.73" height="1.78" fill="#b455b0"/><rect x="87.18" y="659.56" width="1.73" height="1.78" fill="#c16dbc"/><rect x="58.54" y="626.61" width="1.73" height="1.78" fill="#c16dbc"/><rect x="53.48" y="661.30" width="1.73" height="1.78" fill="#c16dbc"/><rect x="66.96" y="647.42" width="1.73" height="1.78" fill="#c16dbc"/><rect x="55.17" y="661.30" width="1.73" height="1.78" fill="#edcfea"/><rect x="85.50" y="630.08" width="1.73" height="1.78" fill="#d292cd"/><rect x="95.61" y="654.36" width="1.73" height="1.78" fill="#edcfea"/><rect x="75.39" y="654.36" width="1.73" height="1.78" fill="#a644a5"/><rect x="78.76" y="626.61" width="1.73" height="1.78" fill="#d292cd"/><rect x="87.18" y="642.22" width="1.73" height="1.78" fill="#b455b0"/><rect x="83.81" y="626.61" width="1.73" height="1.78" fill="#c16dbc"/><rect x="75.39" y="633.55" width="1.73" height="1.78" fill="#ac4caa"/><rect x="61.91" y="656.09" width="1.73" height="1.78" fill="#a13fa1"/><rect x="83.81" y="647.42" width="1.73" height="1.78" fill="#a13fa1"/><rect x="85.50" y="650.89" width="1.73" height="1.78" fill="#b455b0"/><rect x="92.24" y="642.22" width="1.73" height="1.78" fill="#d292cd"/><rect x="88.87" y="630.08" width="1.73" height="1.78" fill="#d292cd"/><rect x="55.17" y="635.28" width="1.73" height="1.78" fill="#d292cd"/><rect x="72.02" y="631.82" width="1.73" height="1.78" fill="#ac4caa"/><rect x="65.28" y="631.82" width="1.73" height="1.78" fill="#c16dbc"/><rect x="88.87" y="654.36" width="1.73" height="1.78" fill="#ac4caa"/><rect x="92.24" y="630.08" width="1.73" height="1.78" fill="#edcfea"/><rect x="90.55" y="642.22" width="1.73" height="1.78" fill="#d292cd"/><rect x="56.85" y="635.28" width="1.73" height="1.78" fill="#edcfea"/><rect x="56.85" y="656.09" width="1.73" height="1.78" fill="#ac4caa"/><rect x="53.48" y="663.03" width="1.73" height="1.78" fill="#edcfea"/><rect x="90.55" y="654.36" width="1.73" height="1.78" fill="#edcfea"/><rect x="63.59" y="652.63" width="1.73" height="1.78" fill="#963698"/><rect x="63.59" y="630.08" width="1.73" height="1.78" fill="#d292cd"/><rect x="60.22" y="650.89" width="1.73" height="1.78" fill="#ac4caa"/><rect x="58.54" y="628.35" width="1.73" height="1.78" fill="#d292cd"/><rect x="61.91" y="631.82" width="1.73" height="1.78" fill="#b455b0"/><rect x="58.54" y="663.03" width="1.73" height="1.78" fill="#c16dbc"/><rect x="53.48" y="630.08" width="1.73" height="1.78" fill="#edcfea"/><rect x="63.59" y="643.96" width="1.73" height="1.78" fill="#ac4caa"/><rect x="66.96" y="631.82" width="1.73" height="1.78" fill="#edcfea"/><rect x="95.61" y="647.42" width="1.73" height="1.78" fill="#d292cd"/><rect x="55.17" y="640.49" width="1.73" height="1.78" fill="#b455b0"/><rect x="61.91" y="626.61" width="1.73" height="1.78" fill="#edcfea"/><rect x="61.91" y="642.22" width="1.73" height="1.78" fill="#ac4caa"/><rect x="73.70" y="661.30" width="1.73" height="1.78" fill="#c16dbc"/><rect x="55.17" y="638.75" width="1.73" height="1.78" fill="#b455b0"/><rect x="78.76" y="659.56" width="1.73" height="1.78" fill="#c16dbc"/><rect x="51.80" y="664.77" width="1.73" height="1.78" fill="#d292cd"/><rect x="63.59" y="638.75" width="1.73" height="1.78" fill="#d292cd"/><rect x="90.55" y="645.69" width="1.73" height="1.78" fill="#d292cd"/><rect x="83.81" y="630.08" width="1.73" height="1.78" fill="#c16dbc"/><rect x="92.24" y="649.16" width="1.73" height="1.78" fill="#c16dbc"/><rect x="53.48" y="645.69" width="1.73" height="1.78" fill="#c16dbc"/><rect x="77.07" y="633.55" width="1.73" height="1.78" fill="#d292cd"/><rect x="56.85" y="633.55" width="1.73" height="1.78" fill="#d292cd"/><rect x="56.85" y="628.35" width="1.73" height="1.78" fill="#d292cd"/><rect x="63.59" y="659.56" width="1.73" height="1.78" fill="#a644a5"/><rect x="60.22" y="645.69" width="1.73" height="1.78" fill="#d292cd"/><rect x="85.50" y="643.96" width="1.73" height="1.78" fill="#b455b0"/><rect x="83.81" y="643.96" width="1.73" height="1.78" fill="#ac4caa"/><rect x="77.07" y="659.56" width="1.73" height="1.78" fill="#c16dbc"/><rect x="85.50" y="628.35" width="1.73" height="1.78" fill="#b455b0"/><rect x="87.18" y="650.89" width="1.73" height="1.78" fill="#edcfea"/><rect x="73.70" y="657.83" width="1.73" height="1.78" fill="#d292cd"/><rect x="55.17" y="654.36" width="1.73" height="1.78" fill="#d292cd"/><rect x="53.48" y="638.75" width="1.73" height="1.78" fill="#edcfea"/><rect x="70.33" y="643.96" width="1.73" height="1.78" fill="#ac4caa"/><rect x="95.61" y="631.82" width="1.73" height="1.78" fill="#edcfea"/><rect x="70.33" y="649.16" width="1.73" height="1.78" fill="#a13fa1"/><rect x="87.18" y="643.96" width="1.73" height="1.78" fill="#b455b0"/><rect x="56.85" y="652.63" width="1.73" height="1.78" fill="#d292cd"/><rect x="83.81" y="631.82" width="1.73" height="1.78" fill="#edcfea"/><rect x="51.80" y="642.22" width="1.73" height="1.78" fill="#c16dbc"/><rect x="82.13" y="649.16" width="1.73" height="1.78" fill="#d292cd"/><rect x="51.80" y="645.69" width="1.73" height="1.78" fill="#d292cd"/><rect x="51.80" y="643.96" width="1.73" height="1.78" fill="#edcfea"/><rect x="70.33" y="628.35" width="1.73" height="1.78" fill="#d292cd"/><rect x="95.61" y="656.09" width="1.73" height="1.78" fill="#d292cd"/><rect x="56.85" y="637.02" width="1.73" height="1.78" fill="#d292cd"/><rect x="83.81" y="638.75" width="1.73" height="1.78" fill="#c16dbc"/><rect x="93.92" y="642.22" width="1.73" height="1.78" fill="#b455b0"/><rect x="53.48" y="650.89" width="1.73" height="1.78" fill="#b455b0"/><rect x="72.02" y="630.08" width="1.73" height="1.78" fill="#ac4caa"/><rect x="56.85" y="664.77" width="1.73" height="1.78" fill="#b455b0"/><rect x="56.85" y="647.42" width="1.73" height="1.78" fill="#b455b0"/><rect x="58.54" y="631.82" width="1.73" height="1.78" fill="#ac4caa"/><rect x="58.54" y="635.28" width="1.73" height="1.78" fill="#c16dbc"/><rect x="56.85" y="659.56" width="1.73" height="1.78" fill="#a644a5"/><rect x="88.87" y="664.77" width="1.73" height="1.78" fill="#edcfea"/><rect x="72.02" y="663.03" width="1.73" height="1.78" fill="#ac4caa"/><rect x="87.18" y="664.77" width="1.73" height="1.78" fill="#edcfea"/><rect x="51.80" y="659.56" width="1.73" height="1.78" fill="#c16dbc"/><rect x="65.28" y="642.22" width="1.73" height="1.78" fill="#a13fa1"/><rect x="85.50" y="657.83" width="1.73" height="1.78" fill="#c16dbc"/><rect x="75.39" y="661.30" width="1.73" height="1.78" fill="#d292cd"/><rect x="80.44" y="640.49" width="1.73" height="1.78" fill="#c16dbc"/><rect x="88.87" y="638.75" width="1.73" height="1.78" fill="#c16dbc"/><rect x="90.55" y="637.02" width="1.73" height="1.78" fill="#d292cd"/><rect x="95.61" y="663.03" width="1.73" height="1.78" fill="#c16dbc"/><rect x="56.85" y="630.08" width="1.73" height="1.78" fill="#d292cd"/><rect x="63.59" y="650.89" width="1.73" height="1.78" fill="#b455b0"/><rect x="58.54" y="624.88" width="1.73" height="1.78" fill="#edcfea"/><rect x="53.48" y="659.56" width="1.73" height="1.78" fill="#c16dbc"/><rect x="58.54" y="637.02" width="1.73" height="1.78" fill="#d292cd"/><rect x="65.28" y="626.61" width="1.73" height="1.78" fill="#d292cd"/><rect x="90.55" y="652.63" width="1.73" height="1.78" fill="#d292cd"/><rect x="90.55" y="647.42" width="1.73" height="1.78" fill="#c16dbc"/><rect x="56.85" y="661.30" width="1.73" height="1.78" fill="#edcfea"/><rect x="53.48" y="631.82" width="1.73" height="1.78" fill="#b455b0"/><rect x="87.18" y="640.49" width="1.73" height="1.78" fill="#b455b0"/><rect x="97.29" y="630.08" width="1.73" height="1.78" fill="#d292cd"/><rect x="65.28" y="663.03" width="1.73" height="1.78" fill="#edcfea"/><rect x="61.91" y="657.83" width="1.73" height="1.78" fill="#d292cd"/><rect x="92.24" y="633.55" width="1.73" height="1.78" fill="#ac4caa"/><rect x="77.07" y="661.30" width="1.73" height="1.78" fill="#b455b0"/><rect x="82.13" y="661.30" width="1.73" height="1.78" fill="#c16dbc"/><rect x="72.02" y="638.75" width="1.73" height="1.78" fill="#b455b0"/><rect x="82.13" y="640.49" width="1.73" height="1.78" fill="#c16dbc"/><rect x="77.07" y="630.08" width="1.73" height="1.78" fill="#edcfea"/><rect x="80.44" y="628.35" width="1.73" height="1.78" fill="#d292cd"/><rect x="93.92" y="643.96" width="1.73" height="1.78" fill="#c16dbc"/><rect x="88.87" y="642.22" width="1.73" height="1.78" fill="#edcfea"/><rect x="83.81" y="650.89" width="1.73" height="1.78" fill="#c16dbc"/><rect x="93.92" y="656.09" width="1.73" height="1.78" fill="#d292cd"/><rect x="73.70" y="640.49" width="1.73" height="1.78" fill="#a644a5"/><rect x="93.92" y="631.82" width="1.73" height="1.78" fill="#edcfea"/><rect x="80.44" y="657.83" width="1.73" height="1.78" fill="#d292cd"/><rect x="66.96" y="628.35" width="1.73" height="1.78" fill="#edcfea"/><rect x="51.80" y="633.55" width="1.73" height="1.78" fill="#d292cd"/><rect x="51.80" y="661.30" width="1.73" height="1.78" fill="#edcfea"/><rect x="61.91" y="628.35" width="1.73" height="1.78" fill="#edcfea"/><rect x="58.54" y="638.75" width="1.73" height="1.78" fill="#a13fa1"/><rect x="51.80" y="630.08" width="1.73" height="1.78" fill="#edcfea"/><rect x="87.18" y="657.83" width="1.73" height="1.78" fill="#edcfea"/><rect x="83.81" y="628.35" width="1.73" height="1.78" fill="#d292cd"/><rect x="80.44" y="663.03" width="1.73" height="1.78" fill="#edcfea"/><rect x="90.55" y="631.82" width="1.73" height="1.78" fill="#edcfea"/><rect x="78.76" y="661.30" width="1.73" height="1.78" fill="#edcfea"/><rect x="70.33" y="664.77" width="1.73" height="1.78" fill="#d292cd"/><rect x="51.80" y="654.36" width="1.73" height="1.78" fill="#b455b0"/><rect x="56.85" y="642.22" width="1.73" height="1.78" fill="#d292cd"/><rect x="87.18" y="654.36" width="1.73" height="1.78" fill="#edcfea"/><rect x="65.28" y="624.88" width="1.73" height="1.78" fill="#edcfea"/><rect x="92.24" y="635.28" width="1.73" height="1.78" fill="#c16dbc"/><rect x="97.29" y="654.36" width="1.73" height="1.78" fill="#edcfea"/><rect x="88.87" y="628.35" width="1.73" height="1.78" fill="#edcfea"/><rect x="87.18" y="628.35" width="1.73" height="1.78" fill="#d292cd"/><rect x="83.81" y="656.09" width="1.73" height="1.78" fill="#d292cd"/><rect x="75.39" y="626.61" width="1.73" height="1.78" fill="#c16dbc"/><rect x="92.24" y="628.35" width="1.73" height="1.78" fill="#edcfea"/><rect x="85.50" y="659.56" width="1.73" height="1.78" fill="#edcfea"/><rect x="83.81" y="640.49" width="1.73" height="1.78" fill="#d292cd"/><rect x="90.55" y="635.28" width="1.73" height="1.78" fill="#d292cd"/><rect x="87.18" y="645.69" width="1.73" height="1.78" fill="#ac4caa"/><rect x="92.24" y="650.89" width="1.73" height="1.78" fill="#d292cd"/><rect x="72.02" y="624.88" width="1.73" height="1.78" fill="#edcfea"/><rect x="82.13" y="654.36" width="1.73" height="1.78" fill="#d292cd"/><rect x="73.70" y="631.82" width="1.73" height="1.78" fill="#c16dbc"/><rect x="87.18" y="661.30" width="1.73" height="1.78" fill="#c16dbc"/><rect x="55.17" y="637.02" width="1.73" height="1.78" fill="#edcfea"/><rect x="90.55" y="657.83" width="1.73" height="1.78" fill="#edcfea"/><rect x="82.13" y="633.55" width="1.73" height="1.78" fill="#edcfea"/><rect x="88.87" y="645.69" width="1.73" height="1.78" fill="#edcfea"/><rect x="93.92" y="645.69" width="1.73" height="1.78" fill="#c16dbc"/><rect x="95.61" y="664.77" width="1.73" height="1.78" fill="#edcfea"/><rect x="88.87" y="637.02" width="1.73" height="1.78" fill="#d292cd"/><rect x="88.87" y="650.89" width="1.73" height="1.78" fill="#edcfea"/><rect x="72.02" y="635.28" width="1.73" height="1.78" fill="#edcfea"/><rect x="70.33" y="626.61" width="1.73" height="1.78" fill="#edcfea"/><rect x="93.92" y="664.77" width="1.73" height="1.78" fill="#edcfea"/><rect x="100.66" y="621.41" width="1.73" height="1.78" fill="#edcfea"/><rect x="72.02" y="591.93" width="1.73" height="1.78" fill="#edcfea"/><rect x="114.14" y="642.22" width="1.73" height="1.78" fill="#edcfea"/><rect x="115.83" y="602.33" width="1.73" height="1.78" fill="#edcfea"/><rect x="93.92" y="624.88" width="1.73" height="1.78" fill="#edcfea"/><rect x="66.96" y="604.07" width="1.73" height="1.78" fill="#edcfea"/><rect x="112.46" y="621.41" width="1.73" height="1.78" fill="#edcfea"/><rect x="66.96" y="616.21" width="1.73" height="1.78" fill="#edcfea"/><rect x="75.39" y="616.21" width="1.73" height="1.78" fill="#edcfea"/><rect x="90.55" y="611.01" width="1.73" height="1.78" fill="#edcfea"/><rect x="87.18" y="630.08" width="1.73" height="1.78" fill="#d292cd"/><rect x="98.98" y="630.08" width="1.73" height="1.78" fill="#edcfea"/><rect x="85.50" y="617.94" width="1.73" height="1.78" fill="#d292cd"/><rect x="72.02" y="616.21" width="1.73" height="1.78" fill="#edcfea"/><rect x="124.25" y="633.55" width="1.73" height="1.78" fill="#edcfea"/><rect x="119.20" y="626.61" width="1.73" height="1.78" fill="#edcfea"/><rect x="90.55" y="617.94" width="1.73" height="1.78" fill="#d292cd"/><rect x="90.55" y="614.47" width="1.73" height="1.78" fill="#b455b0"/><rect x="90.55" y="633.55" width="1.73" height="1.78" fill="#d292cd"/><rect x="110.77" y="607.54" width="1.73" height="1.78" fill="#d292cd"/><rect x="97.29" y="614.47" width="1.73" height="1.78" fill="#edcfea"/><rect x="78.76" y="607.54" width="1.73" height="1.78" fill="#d292cd"/><rect x="87.18" y="612.74" width="1.73" height="1.78" fill="#edcfea"/><rect x="87.18" y="611.01" width="1.73" height="1.78" fill="#edcfea"/><rect x="88.87" y="607.54" width="1.73" height="1.78" fill="#d292cd"/><rect x="83.81" y="614.47" width="1.73" height="1.78" fill="#edcfea"/><rect x="95.61" y="642.22" width="1.73" height="1.78" fill="#edcfea"/><rect x="109.09" y="642.22" width="1.73" height="1.78" fill="#edcfea"/><rect x="110.77" y="624.88" width="1.73" height="1.78" fill="#edcfea"/><rect x="70.33" y="604.07" width="1.73" height="1.78" fill="#edcfea"/><rect x="107.40" y="616.21" width="1.73" height="1.78" fill="#edcfea"/><rect x="82.13" y="598.87" width="1.73" height="1.78" fill="#edcfea"/><rect x="73.70" y="624.88" width="1.73" height="1.78" fill="#edcfea"/><rect x="83.81" y="624.88" width="1.73" height="1.78" fill="#d292cd"/><rect x="70.33" y="619.68" width="1.73" height="1.78" fill="#d292cd"/><rect x="85.50" y="590.20" width="1.73" height="1.78" fill="#edcfea"/><rect x="97.29" y="661.30" width="1.73" height="1.78" fill="#edcfea"/><rect x="82.13" y="600.60" width="1.73" height="1.78" fill="#edcfea"/><rect x="72.02" y="611.01" width="1.73" height="1.78" fill="#d292cd"/><rect x="51.80" y="631.82" width="1.73" height="1.78" fill="#d292cd"/><rect x="100.66" y="591.93" width="1.73" height="1.78" fill="#edcfea"/><rect x="122.57" y="609.27" width="1.73" height="1.78" fill="#edcfea"/><rect x="97.29" y="598.87" width="1.73" height="1.78" fill="#edcfea"/><rect x="75.39" y="612.74" width="1.73" height="1.78" fill="#d292cd"/><rect x="90.55" y="630.08" width="1.73" height="1.78" fill="#edcfea"/><rect x="77.07" y="607.54" width="1.73" height="1.78" fill="#edcfea"/><rect x="90.55" y="623.14" width="1.73" height="1.78" fill="#edcfea"/><rect x="80.44" y="619.68" width="1.73" height="1.78" fill="#edcfea"/><rect x="98.98" y="628.35" width="1.73" height="1.78" fill="#edcfea"/><rect x="82.13" y="607.54" width="1.73" height="1.78" fill="#d292cd"/><rect x="61.91" y="623.14" width="1.73" height="1.78" fill="#edcfea"/><rect x="88.87" y="616.21" width="1.73" height="1.78" fill="#edcfea"/><rect x="97.29" y="635.28" width="1.73" height="1.78" fill="#edcfea"/><rect x="70.33" y="612.74" width="1.73" height="1.78" fill="#edcfea"/><rect x="104.03" y="630.08" width="1.73" height="1.78" fill="#edcfea"/><rect x="77.07" y="621.41" width="1.73" height="1.78" fill="#edcfea"/><rect x="105.72" y="621.41" width="1.73" height="1.78" fill="#edcfea"/><rect x="80.44" y="621.41" width="1.73" height="1.78" fill="#c16dbc"/><rect x="114.14" y="616.21" width="1.73" height="1.78" fill="#edcfea"/><rect x="100.66" y="643.96" width="1.73" height="1.78" fill="#edcfea"/><rect x="88.87" y="621.41" width="1.73" height="1.78" fill="#edcfea"/><rect x="107.40" y="637.02" width="1.73" height="1.78" fill="#edcfea"/><rect x="66.96" y="635.28" width="1.73" height="1.78" fill="#edcfea"/><rect x="87.18" y="623.14" width="1.73" height="1.78" fill="#d292cd"/><rect x="105.72" y="645.69" width="1.73" height="1.78" fill="#edcfea"/><rect x="85.50" y="624.88" width="1.73" height="1.78" fill="#edcfea"/><rect x="112.46" y="611.01" width="1.73" height="1.78" fill="#edcfea"/><rect x="92.24" y="645.69" width="1.73" height="1.78" fill="#edcfea"/><rect x="58.54" y="623.14" width="1.73" height="1.78" fill="#d292cd"/><rect x="77.07" y="609.27" width="1.73" height="1.78" fill="#d292cd"/><rect x="88.87" y="626.61" width="1.73" height="1.78" fill="#c16dbc"/><rect x="93.92" y="657.83" width="1.73" height="1.78" fill="#edcfea"/><rect x="65.28" y="617.94" width="1.73" height="1.78" fill="#edcfea"/><rect x="87.18" y="619.68" width="1.73" height="1.78" fill="#edcfea"/><rect x="95.61" y="604.07" width="1.73" height="1.78" fill="#edcfea"/><rect x="80.44" y="612.74" width="1.73" height="1.78" fill="#d292cd"/><rect x="93.92" y="612.74" width="1.73" height="1.78" fill="#edcfea"/><rect x="97.29" y="590.20" width="1.73" height="1.78" fill="#edcfea"/><rect x="92.24" y="637.02" width="1.73" height="1.78" fill="#edcfea"/><rect x="68.65" y="597.13" width="1.73" height="1.78" fill="#edcfea"/><rect x="77.07" y="617.94" width="1.73" height="1.78" fill="#d292cd"/><rect x="92.24" y="624.88" width="1.73" height="1.78" fill="#d292cd"/><rect x="82.13" y="604.07" width="1.73" height="1.78" fill="#edcfea"/><rect x="80.44" y="624.88" width="1.73" height="1.78" fill="#d292cd"/><rect x="53.48" y="598.87" width="1.73" height="1.78" fill="#edcfea"/><rect x="102.35" y="605.80" width="1.73" height="1.78" fill="#edcfea"/><rect x="87.18" y="621.41" width="1.73" height="1.78" fill="#d292cd"/><rect x="90.55" y="619.68" width="1.73" height="1.78" fill="#edcfea"/><rect x="98.98" y="619.68" width="1.73" height="1.78" fill="#edcfea"/><rect x="100.66" y="623.14" width="1.73" height="1.78" fill="#d292cd"/><rect x="102.35" y="647.42" width="1.73" height="1.78" fill="#d292cd"/><rect x="90.55" y="643.96" width="1.73" height="1.78" fill="#edcfea"/><rect x="117.51" y="607.54" width="1.73" height="1.78" fill="#edcfea"/><rect x="85.50" y="626.61" width="1.73" height="1.78" fill="#edcfea"/><rect x="112.46" y="631.82" width="1.73" height="1.78" fill="#edcfea"/><rect x="117.51" y="633.55" width="1.73" height="1.78" fill="#edcfea"/><rect x="109.09" y="630.08" width="1.73" height="1.78" fill="#edcfea"/><rect x="73.70" y="611.01" width="1.73" height="1.78" fill="#edcfea"/><rect x="102.35" y="640.49" width="1.73" height="1.78" fill="#edcfea"/><rect x="110.77" y="628.35" width="1.73" height="1.78" fill="#edcfea"/><rect x="97.29" y="631.82" width="1.73" height="1.78" fill="#edcfea"/><rect x="72.02" y="604.07" width="1.73" height="1.78" fill="#edcfea"/><rect x="88.87" y="619.68" width="1.73" height="1.78" fill="#d292cd"/><rect x="112.46" y="614.47" width="1.73" height="1.78" fill="#edcfea"/><rect x="100.66" y="631.82" width="1.73" height="1.78" fill="#edcfea"/><rect x="75.39" y="611.01" width="1.73" height="1.78" fill="#edcfea"/><rect x="82.13" y="624.88" width="1.73" height="1.78" fill="#d292cd"/><rect x="98.98" y="611.01" width="1.73" height="1.78" fill="#edcfea"/><rect x="102.35" y="614.47" width="1.73" height="1.78" fill="#edcfea"/><rect x="66.96" y="624.88" width="1.73" height="1.78" fill="#d292cd"/><rect x="63.59" y="623.14" width="1.73" height="1.78" fill="#edcfea"/><rect x="66.96" y="617.94" width="1.73" height="1.78" fill="#d292cd"/><rect x="73.70" y="612.74" width="1.73" height="1.78" fill="#c16dbc"/><rect x="78.76" y="621.41" width="1.73" height="1.78" fill="#edcfea"/><rect x="88.87" y="623.14" width="1.73" height="1.78" fill="#d292cd"/><rect x="82.13" y="623.14" width="1.73" height="1.78" fill="#d292cd"/><rect x="104.03" y="633.55" width="1.73" height="1.78" fill="#edcfea"/><rect x="85.50" y="611.01" width="1.73" height="1.78" fill="#d292cd"/><rect x="72.02" y="612.74" width="1.73" height="1.78" fill="#edcfea"/><rect x="53.48" y="643.96" width="1.73" height="1.78" fill="#edcfea"/><rect x="98.98" y="605.80" width="1.73" height="1.78" fill="#edcfea"/><rect x="75.39" y="598.87" width="1.73" height="1.78" fill="#edcfea"/><rect x="100.66" y="605.80" width="1.73" height="1.78" fill="#edcfea"/><rect x="100.66" y="612.74" width="1.73" height="1.78" fill="#d292cd"/><rect x="102.35" y="633.55" width="1.73" height="1.78" fill="#edcfea"/><rect x="90.55" y="621.41" width="1.73" height="1.78" fill="#edcfea"/><rect x="68.65" y="624.88" width="1.73" height="1.78" fill="#edcfea"/><rect x="60.22" y="624.88" width="1.73" height="1.78" fill="#edcfea"/><rect x="66.96" y="621.41" width="1.73" height="1.78" fill="#edcfea"/><rect x="78.76" y="616.21" width="1.73" height="1.78" fill="#edcfea"/><rect x="125.94" y="630.08" width="1.73" height="1.78" fill="#edcfea"/><rect x="95.61" y="609.27" width="1.73" height="1.78" fill="#edcfea"/><rect x="120.88" y="630.08" width="1.73" height="1.78" fill="#edcfea"/><rect x="93.92" y="633.55" width="1.73" height="1.78" fill="#d292cd"/><rect x="87.18" y="588.46" width="1.73" height="1.78" fill="#edcfea"/><rect x="95.61" y="630.08" width="1.73" height="1.78" fill="#edcfea"/><rect x="85.50" y="614.47" width="1.73" height="1.78" fill="#edcfea"/><rect x="95.61" y="643.96" width="1.73" height="1.78" fill="#edcfea"/><rect x="104.03" y="626.61" width="1.73" height="1.78" fill="#d292cd"/><rect x="109.09" y="619.68" width="1.73" height="1.78" fill="#edcfea"/><rect x="61.91" y="611.01" width="1.73" height="1.78" fill="#edcfea"/><rect x="77.07" y="612.74" width="1.73" height="1.78" fill="#edcfea"/><rect x="85.50" y="597.13" width="1.73" height="1.78" fill="#edcfea"/><rect x="88.87" y="612.74" width="1.73" height="1.78" fill="#edcfea"/><rect x="61.91" y="619.68" width="1.73" height="1.78" fill="#edcfea"/><rect x="102.35" y="607.54" width="1.73" height="1.78" fill="#d292cd"/><rect x="102.35" y="597.13" width="1.73" height="1.78" fill="#edcfea"/><rect x="98.98" y="624.88" width="1.73" height="1.78" fill="#edcfea"/><rect x="75.39" y="614.47" width="1.73" height="1.78" fill="#edcfea"/><rect x="97.29" y="621.41" width="1.73" height="1.78" fill="#edcfea"/><rect x="120.88" y="619.68" width="1.73" height="1.78" fill="#edcfea"/><rect x="115.83" y="630.08" width="1.73" height="1.78" fill="#edcfea"/><rect x="98.98" y="637.02" width="1.73" height="1.78" fill="#edcfea"/><rect x="85.50" y="607.54" width="1.73" height="1.78" fill="#edcfea"/><rect x="92.24" y="600.60" width="1.73" height="1.78" fill="#edcfea"/><rect x="93.92" y="638.75" width="1.73" height="1.78" fill="#d292cd"/><rect x="80.44" y="626.61" width="1.73" height="1.78" fill="#d292cd"/><rect x="75.39" y="624.88" width="1.73" height="1.78" fill="#edcfea"/><rect x="78.76" y="614.47" width="1.73" height="1.78" fill="#d292cd"/><rect x="100.66" y="633.55" width="1.73" height="1.78" fill="#edcfea"/><rect x="102.35" y="650.89" width="1.73" height="1.78" fill="#edcfea"/><rect x="78.76" y="631.82" width="1.73" height="1.78" fill="#d292cd"/><rect x="109.09" y="617.94" width="1.73" height="1.78" fill="#edcfea"/><rect x="105.72" y="591.93" width="1.73" height="1.78" fill="#edcfea"/><rect x="87.18" y="600.60" width="1.73" height="1.78" fill="#edcfea"/><rect x="70.33" y="614.47" width="1.73" height="1.78" fill="#edcfea"/><rect x="129.31" y="602.33" width="1.73" height="1.78" fill="#edcfea"/><rect x="66.96" y="619.68" width="1.73" height="1.78" fill="#edcfea"/><rect x="95.61" y="617.94" width="1.73" height="1.78" fill="#edcfea"/><rect x="90.55" y="609.27" width="1.73" height="1.78" fill="#edcfea"/><rect x="92.24" y="631.82" width="1.73" height="1.78" fill="#edcfea"/><rect x="109.09" y="612.74" width="1.73" height="1.78" fill="#edcfea"/><rect x="104.03" y="614.47" width="1.73" height="1.78" fill="#edcfea"/><rect x="92.24" y="602.33" width="1.73" height="1.78" fill="#edcfea"/><rect x="117.51" y="635.28" width="1.73" height="1.78" fill="#edcfea"/><rect x="73.70" y="616.21" width="1.73" height="1.78" fill="#edcfea"/><rect x="75.39" y="623.14" width="1.73" height="1.78" fill="#edcfea"/><rect x="109.09" y="638.75" width="1.73" height="1.78" fill="#edcfea"/><rect x="97.29" y="607.54" width="1.73" height="1.78" fill="#edcfea"/><rect x="78.76" y="595.40" width="1.73" height="1.78" fill="#edcfea"/><rect x="65.28" y="602.33" width="1.73" height="1.78" fill="#edcfea"/><rect x="56.85" y="624.88" width="1.73" height="1.78" fill="#edcfea"/><rect x="109.09" y="609.27" width="1.73" height="1.78" fill="#edcfea"/><rect x="112.46" y="617.94" width="1.73" height="1.78" fill="#edcfea"/><rect x="92.24" y="604.07" width="1.73" height="1.78" fill="#d292cd"/><rect x="104.03" y="588.46" width="1.73" height="1.78" fill="#edcfea"/><rect x="98.98" y="609.27" width="1.73" height="1.78" fill="#d292cd"/><rect x="75.39" y="628.35" width="1.73" height="1.78" fill="#edcfea"/><rect x="53.48" y="633.55" width="1.73" height="1.78" fill="#edcfea"/><rect x="66.96" y="611.01" width="1.73" height="1.78" fill="#edcfea"/><rect x="110.77" y="617.94" width="1.73" height="1.78" fill="#edcfea"/><rect x="66.96" y="612.74" width="1.73" height="1.78" fill="#d292cd"/><rect x="60.22" y="628.35" width="1.73" height="1.78" fill="#edcfea"/><rect x="68.65" y="609.27" width="1.73" height="1.78" fill="#edcfea"/><rect x="90.55" y="650.89" width="1.73" height="1.78" fill="#edcfea"/><rect x="92.24" y="616.21" width="1.73" height="1.78" fill="#edcfea"/><rect x="102.35" y="637.02" width="1.73" height="1.78" fill="#edcfea"/><rect x="85.50" y="609.27" width="1.73" height="1.78" fill="#edcfea"/><rect x="77.07" y="623.14" width="1.73" height="1.78" fill="#edcfea"/><rect x="93.92" y="652.63" width="1.73" height="1.78" fill="#edcfea"/><rect x="85.50" y="621.41" width="1.73" height="1.78" fill="#c16dbc"/><rect x="68.65" y="623.14" width="1.73" height="1.78" fill="#edcfea"/><rect x="117.51" y="630.08" width="1.73" height="1.78" fill="#edcfea"/><rect x="97.29" y="602.33" width="1.73" height="1.78" fill="#edcfea"/><rect x="77.07" y="619.68" width="1.73" height="1.78" fill="#edcfea"/><rect x="55.17" y="621.41" width="1.73" height="1.78" fill="#edcfea"/><rect x="92.24" y="605.80" width="1.73" height="1.78" fill="#edcfea"/><rect x="58.54" y="609.27" width="1.73" height="1.78" fill="#edcfea"/><rect x="80.44" y="605.80" width="1.73" height="1.78" fill="#edcfea"/><rect x="83.81" y="617.94" width="1.73" height="1.78" fill="#edcfea"/><rect x="66.96" y="598.87" width="1.73" height="1.78" fill="#edcfea"/><rect x="83.81" y="619.68" width="1.73" height="1.78" fill="#c16dbc"/><rect x="107.40" y="590.20" width="1.73" height="1.78" fill="#edcfea"/><rect x="75.39" y="600.60" width="1.73" height="1.78" fill="#edcfea"/><rect x="68.65" y="617.94" width="1.73" height="1.78" fill="#edcfea"/><rect x="97.29" y="626.61" width="1.73" height="1.78" fill="#edcfea"/><rect x="58.54" y="617.94" width="1.73" height="1.78" fill="#edcfea"/><rect x="92.24" y="609.27" width="1.73" height="1.78" fill="#edcfea"/><rect x="72.02" y="619.68" width="1.73" height="1.78" fill="#edcfea"/><rect x="83.81" y="635.28" width="1.73" height="1.78" fill="#d292cd"/><rect x="87.18" y="624.88" width="1.73" height="1.78" fill="#edcfea"/><rect x="102.35" y="631.82" width="1.73" height="1.78" fill="#edcfea"/><rect x="80.44" y="609.27" width="1.73" height="1.78" fill="#edcfea"/><rect x="70.33" y="607.54" width="1.73" height="1.78" fill="#edcfea"/><rect x="93.92" y="654.36" width="1.73" height="1.78" fill="#edcfea"/><rect x="82.13" y="609.27" width="1.73" height="1.78" fill="#edcfea"/><rect x="100.66" y="628.35" width="1.73" height="1.78" fill="#edcfea"/><rect x="55.17" y="623.14" width="1.73" height="1.78" fill="#edcfea"/><rect x="92.24" y="590.20" width="1.73" height="1.78" fill="#edcfea"/><rect x="93.92" y="626.61" width="1.73" height="1.78" fill="#edcfea"/><rect x="95.61" y="598.87" width="1.73" height="1.78" fill="#edcfea"/><rect x="98.98" y="635.28" width="1.73" height="1.78" fill="#edcfea"/><rect x="77.07" y="611.01" width="1.73" height="1.78" fill="#edcfea"/><rect x="60.22" y="623.14" width="1.73" height="1.78" fill="#edcfea"/><rect x="88.87" y="631.82" width="1.73" height="1.78" fill="#edcfea"/><rect x="63.59" y="624.88" width="1.73" height="1.78" fill="#edcfea"/><rect x="97.29" y="642.22" width="1.73" height="1.78" fill="#edcfea"/><rect x="88.87" y="624.88" width="1.73" height="1.78" fill="#edcfea"/><rect x="112.46" y="623.14" width="1.73" height="1.78" fill="#d292cd"/><rect x="107.40" y="626.61" width="1.73" height="1.78" fill="#edcfea"/><rect x="61.91" y="614.47" width="1.73" height="1.78" fill="#edcfea"/><rect x="87.18" y="605.80" width="1.73" height="1.78" fill="#edcfea"/><rect x="90.55" y="591.93" width="1.73" height="1.78" fill="#edcfea"/><rect x="82.13" y="602.33" width="1.73" height="1.78" fill="#edcfea"/><rect x="90.55" y="659.56" width="1.73" height="1.78" fill="#edcfea"/><rect x="72.02" y="609.27" width="1.73" height="1.78" fill="#edcfea"/><rect x="119.20" y="600.60" width="1.73" height="1.78" fill="#edcfea"/><rect x="90.55" y="616.21" width="1.73" height="1.78" fill="#edcfea"/><rect x="102.35" y="609.27" width="1.73" height="1.78" fill="#edcfea"/><rect x="102.35" y="598.87" width="1.73" height="1.78" fill="#edcfea"/><rect x="82.13" y="605.80" width="1.73" height="1.78" fill="#edcfea"/><rect x="68.65" y="614.47" width="1.73" height="1.78" fill="#edcfea"/><rect x="87.18" y="663.03" width="1.73" height="1.78" fill="#edcfea"/><rect x="95.61" y="619.68" width="1.73" height="1.78" fill="#edcfea"/><rect x="63.59" y="612.74" width="1.73" height="1.78" fill="#edcfea"/><rect x="70.33" y="621.41" width="1.73" height="1.78" fill="#edcfea"/><rect x="125.94" y="635.28" width="1.73" height="1.78" fill="#edcfea"/><rect x="65.28" y="616.21" width="1.73" height="1.78" fill="#edcfea"/><rect x="105.72" y="600.60" width="1.73" height="1.78" fill="#edcfea"/><rect x="82.13" y="664.77" width="1.73" height="1.78" fill="#edcfea"/><rect x="90.55" y="607.54" width="1.73" height="1.78" fill="#edcfea"/><rect x="93.92" y="635.28" width="1.73" height="1.78" fill="#edcfea"/><rect x="90.55" y="624.88" width="1.73" height="1.78" fill="#edcfea"/><rect x="85.50" y="569.38" width="1.73" height="1.78" fill="#edcfea"/><rect x="146.15" y="541.64" width="1.73" height="1.78" fill="#edcfea"/><rect x="141.10" y="548.57" width="1.73" height="1.78" fill="#edcfea"/><rect x="130.99" y="586.73" width="1.73" height="1.78" fill="#edcfea"/><rect x="122.57" y="624.88" width="1.73" height="1.78" fill="#edcfea"/><rect x="114.14" y="638.75" width="1.73" height="1.78" fill="#edcfea"/><rect x="102.35" y="611.01" width="1.73" height="1.78" fill="#edcfea"/><rect x="120.88" y="602.33" width="1.73" height="1.78" fill="#edcfea"/><rect x="105.72" y="590.20" width="1.73" height="1.78" fill="#edcfea"/></g>
<line x1="45.90" y1="672.57" x2="212.01" y2="501.60" stroke="#1e1e1e" stroke-width="1.5" stroke-dasharray="4.2 2.8"/>
<rect x="45.90" y="501.60" width="170.90" height="171.10" fill="none" stroke="#2f2f2f" stroke-width="1.4"/>
<line x1="39.60" y1="666.50" x2="45.90" y2="666.50" stroke="#2f2f2f" stroke-width="1.3"/>
<line x1="51.80" y1="672.70" x2="51.80" y2="679.00" stroke="#2f2f2f" stroke-width="1.3"/>
<line x1="39.60" y1="636.60" x2="45.90" y2="636.60" stroke="#2f2f2f" stroke-width="1.3"/>
<line x1="80.85" y1="672.70" x2="80.85" y2="679.00" stroke="#2f2f2f" stroke-width="1.3"/>
<line x1="39.60" y1="606.70" x2="45.90" y2="606.70" stroke="#2f2f2f" stroke-width="1.3"/>
<line x1="109.90" y1="672.70" x2="109.90" y2="679.00" stroke="#2f2f2f" stroke-width="1.3"/>
<line x1="39.60" y1="576.80" x2="45.90" y2="576.80" stroke="#2f2f2f" stroke-width="1.3"/>
<line x1="138.95" y1="672.70" x2="138.95" y2="679.00" stroke="#2f2f2f" stroke-width="1.3"/>
<line x1="39.60" y1="546.90" x2="45.90" y2="546.90" stroke="#2f2f2f" stroke-width="1.3"/>
<line x1="168.00" y1="672.70" x2="168.00" y2="679.00" stroke="#2f2f2f" stroke-width="1.3"/>
<line x1="39.60" y1="517.00" x2="45.90" y2="517.00" stroke="#2f2f2f" stroke-width="1.3"/>
<line x1="197.05" y1="672.70" x2="197.05" y2="679.00" stroke="#2f2f2f" stroke-width="1.3"/>
<text transform="translate(47.31,527.80) scale(1.0868,1)" font-size="15.5" fill="#2b2b2b" stroke="#2b2b2b" stroke-width="0.12">Pearson Cor. = 0.43</text>
<text transform="translate(22.82,671.05) scale(1.0000,1)" font-size="12.7" fill="#474747" stroke="#474747" stroke-width="0.05">0.0</text>
<text transform="translate(22.86,641.15) scale(1.0000,1)" font-size="12.7" fill="#474747" stroke="#474747" stroke-width="0.05">0.5</text>
<text transform="translate(22.82,611.25) scale(1.0000,1)" font-size="12.7" fill="#474747" stroke="#474747" stroke-width="0.05">1.0</text>
<text transform="translate(22.85,581.35) scale(1.0000,1)" font-size="12.7" fill="#474747" stroke="#474747" stroke-width="0.05">1.5</text>
<text transform="translate(22.82,551.45) scale(1.0000,1)" font-size="12.7" fill="#474747" stroke="#474747" stroke-width="0.05">2.0</text>
<text transform="translate(22.86,521.55) scale(1.0000,1)" font-size="12.7" fill="#474747" stroke="#474747" stroke-width="0.05">2.5</text>
<text transform="translate(42.96,694.30) scale(1.0000,1)" font-size="12.7" fill="#474747" stroke="#474747" stroke-width="0.05">0.0</text>
<text transform="translate(72.02,694.30) scale(1.0000,1)" font-size="12.7" fill="#474747" stroke="#474747" stroke-width="0.05">0.5</text>
<text transform="translate(100.84,694.30) scale(1.0000,1)" font-size="12.7" fill="#474747" stroke="#474747" stroke-width="0.05">1.0</text>
<text transform="translate(129.90,694.30) scale(1.0000,1)" font-size="12.7" fill="#474747" stroke="#474747" stroke-width="0.05">1.5</text>
<text transform="translate(159.09,694.30) scale(1.0000,1)" font-size="12.7" fill="#474747" stroke="#474747" stroke-width="0.05">2.0</text>
<text transform="translate(188.16,694.30) scale(1.0000,1)" font-size="12.7" fill="#474747" stroke="#474747" stroke-width="0.05">2.5</text>
<text transform="translate(82.01,709.30) scale(1.0863,1)" font-size="15.5" fill="#2b2b2b" stroke="#2b2b2b" stroke-width="0.12">Expr. in HCC</text>
<text transform="translate(18.60,629.00) rotate(-90) scale(1.0928,1)" font-size="15.5" fill="#2b2b2b" stroke="#2b2b2b" stroke-width="0.12">Expr. in AR</text>
<g shape-rendering="crispEdges"><rect x="274.74" y="646.28" width="1.74" height="1.76" fill="#a644a5"/><rect x="294.99" y="644.57" width="1.74" height="1.76" fill="#963698"/><rect x="286.55" y="637.72" width="1.74" height="1.76" fill="#99399b"/><rect x="278.11" y="644.57" width="1.74" height="1.76" fill="#88338c"/><rect x="281.49" y="653.12" width="1.74" height="1.76" fill="#8d3490"/><rect x="281.49" y="641.15" width="1.74" height="1.76" fill="#8d3490"/><rect x="281.49" y="646.28" width="1.74" height="1.76" fill="#7d3082"/><rect x="300.06" y="659.97" width="1.74" height="1.76" fill="#edcfea"/><rect x="281.49" y="642.86" width="1.74" height="1.76" fill="#9d3c9e"/><rect x="286.55" y="651.41" width="1.74" height="1.76" fill="#a644a5"/><rect x="288.24" y="642.86" width="1.74" height="1.76" fill="#99399b"/><rect x="283.18" y="656.55" width="1.74" height="1.76" fill="#963698"/><rect x="291.62" y="649.70" width="1.74" height="1.76" fill="#ac4caa"/><rect x="278.11" y="654.83" width="1.74" height="1.76" fill="#963698"/><rect x="276.43" y="630.88" width="1.74" height="1.76" fill="#d292cd"/><rect x="289.93" y="647.99" width="1.74" height="1.76" fill="#99399b"/><rect x="279.80" y="646.28" width="1.74" height="1.76" fill="#9d3c9e"/><rect x="284.87" y="639.44" width="1.74" height="1.76" fill="#963698"/><rect x="266.30" y="653.12" width="1.74" height="1.76" fill="#a644a5"/><rect x="271.36" y="654.83" width="1.74" height="1.76" fill="#9d3c9e"/><rect x="279.80" y="651.41" width="1.74" height="1.76" fill="#9d3c9e"/><rect x="301.74" y="632.59" width="1.74" height="1.76" fill="#b455b0"/><rect x="293.30" y="629.17" width="1.74" height="1.76" fill="#b455b0"/><rect x="276.43" y="636.01" width="1.74" height="1.76" fill="#9d3c9e"/><rect x="288.24" y="651.41" width="1.74" height="1.76" fill="#913594"/><rect x="288.24" y="636.01" width="1.74" height="1.76" fill="#a13fa1"/><rect x="284.87" y="646.28" width="1.74" height="1.76" fill="#963698"/><rect x="291.62" y="646.28" width="1.74" height="1.76" fill="#963698"/><rect x="274.74" y="659.97" width="1.74" height="1.76" fill="#963698"/><rect x="293.30" y="639.44" width="1.74" height="1.76" fill="#a644a5"/><rect x="283.18" y="647.99" width="1.74" height="1.76" fill="#ac4caa"/><rect x="296.68" y="641.15" width="1.74" height="1.76" fill="#c16dbc"/><rect x="294.99" y="651.41" width="1.74" height="1.76" fill="#9d3c9e"/><rect x="284.87" y="637.72" width="1.74" height="1.76" fill="#8d3490"/><rect x="296.68" y="644.57" width="1.74" height="1.76" fill="#b455b0"/><rect x="281.49" y="661.68" width="1.74" height="1.76" fill="#99399b"/><rect x="278.11" y="653.12" width="1.74" height="1.76" fill="#99399b"/><rect x="266.30" y="647.99" width="1.74" height="1.76" fill="#c16dbc"/><rect x="283.18" y="636.01" width="1.74" height="1.76" fill="#d292cd"/><rect x="293.30" y="646.28" width="1.74" height="1.76" fill="#9d3c9e"/><rect x="296.68" y="653.12" width="1.74" height="1.76" fill="#b455b0"/><rect x="276.43" y="661.68" width="1.74" height="1.76" fill="#a13fa1"/><rect x="269.68" y="656.55" width="1.74" height="1.76" fill="#a644a5"/><rect x="276.43" y="646.28" width="1.74" height="1.76" fill="#88338c"/><rect x="271.36" y="647.99" width="1.74" height="1.76" fill="#8d3490"/><rect x="273.05" y="653.12" width="1.74" height="1.76" fill="#a13fa1"/><rect x="298.37" y="651.41" width="1.74" height="1.76" fill="#ac4caa"/><rect x="278.11" y="637.72" width="1.74" height="1.76" fill="#ac4caa"/><rect x="284.87" y="658.26" width="1.74" height="1.76" fill="#9d3c9e"/><rect x="269.68" y="644.57" width="1.74" height="1.76" fill="#b455b0"/><rect x="296.68" y="642.86" width="1.74" height="1.76" fill="#9d3c9e"/><rect x="281.49" y="663.39" width="1.74" height="1.76" fill="#a644a5"/><rect x="274.74" y="663.39" width="1.74" height="1.76" fill="#a644a5"/><rect x="284.87" y="642.86" width="1.74" height="1.76" fill="#a13fa1"/><rect x="279.80" y="642.86" width="1.74" height="1.76" fill="#99399b"/><rect x="288.24" y="649.70" width="1.74" height="1.76" fill="#8d3490"/><rect x="293.30" y="647.99" width="1.74" height="1.76" fill="#88338c"/><rect x="283.18" y="659.97" width="1.74" height="1.76" fill="#a644a5"/><rect x="269.68" y="639.44" width="1.74" height="1.76" fill="#ac4caa"/><rect x="271.36" y="653.12" width="1.74" height="1.76" fill="#9d3c9e"/><rect x="278.11" y="658.26" width="1.74" height="1.76" fill="#913594"/><rect x="266.30" y="642.86" width="1.74" height="1.76" fill="#c16dbc"/><rect x="266.30" y="632.59" width="1.74" height="1.76" fill="#d292cd"/><rect x="281.49" y="658.26" width="1.74" height="1.76" fill="#9d3c9e"/><rect x="291.62" y="659.97" width="1.74" height="1.76" fill="#b455b0"/><rect x="293.30" y="659.97" width="1.74" height="1.76" fill="#a13fa1"/><rect x="294.99" y="654.83" width="1.74" height="1.76" fill="#c16dbc"/><rect x="271.36" y="636.01" width="1.74" height="1.76" fill="#ac4caa"/><rect x="294.99" y="653.12" width="1.74" height="1.76" fill="#b455b0"/><rect x="278.11" y="663.39" width="1.74" height="1.76" fill="#963698"/><rect x="276.43" y="654.83" width="1.74" height="1.76" fill="#963698"/><rect x="273.05" y="642.86" width="1.74" height="1.76" fill="#ac4caa"/><rect x="296.68" y="649.70" width="1.74" height="1.76" fill="#a13fa1"/><rect x="274.74" y="651.41" width="1.74" height="1.76" fill="#99399b"/><rect x="281.49" y="659.97" width="1.74" height="1.76" fill="#a13fa1"/><rect x="286.55" y="654.83" width="1.74" height="1.76" fill="#8d3490"/><rect x="296.68" y="654.83" width="1.74" height="1.76" fill="#b455b0"/><rect x="283.18" y="646.28" width="1.74" height="1.76" fill="#a13fa1"/><rect x="281.49" y="636.01" width="1.74" height="1.76" fill="#b455b0"/><rect x="281.49" y="649.70" width="1.74" height="1.76" fill="#913594"/><rect x="286.55" y="649.70" width="1.74" height="1.76" fill="#8d3490"/><rect x="288.24" y="658.26" width="1.74" height="1.76" fill="#9d3c9e"/><rect x="278.11" y="659.97" width="1.74" height="1.76" fill="#88338c"/><rect x="281.49" y="647.99" width="1.74" height="1.76" fill="#9d3c9e"/><rect x="274.74" y="641.15" width="1.74" height="1.76" fill="#88338c"/><rect x="267.99" y="653.12" width="1.74" height="1.76" fill="#b455b0"/><rect x="271.36" y="663.39" width="1.74" height="1.76" fill="#a644a5"/><rect x="288.24" y="647.99" width="1.74" height="1.76" fill="#99399b"/><rect x="293.30" y="637.72" width="1.74" height="1.76" fill="#9d3c9e"/><rect x="289.93" y="659.97" width="1.74" height="1.76" fill="#ac4caa"/><rect x="269.68" y="661.68" width="1.74" height="1.76" fill="#a644a5"/><rect x="288.24" y="641.15" width="1.74" height="1.76" fill="#99399b"/><rect x="284.87" y="647.99" width="1.74" height="1.76" fill="#8d3490"/><rect x="286.55" y="653.12" width="1.74" height="1.76" fill="#8d3490"/><rect x="283.18" y="654.83" width="1.74" height="1.76" fill="#ac4caa"/><rect x="296.68" y="659.97" width="1.74" height="1.76" fill="#ac4caa"/><rect x="286.55" y="647.99" width="1.74" height="1.76" fill="#a644a5"/><rect x="278.11" y="647.99" width="1.74" height="1.76" fill="#99399b"/><rect x="283.18" y="632.59" width="1.74" height="1.76" fill="#d292cd"/><rect x="300.06" y="634.30" width="1.74" height="1.76" fill="#ac4caa"/><rect x="273.05" y="639.44" width="1.74" height="1.76" fill="#a644a5"/><rect x="284.87" y="653.12" width="1.74" height="1.76" fill="#913594"/><rect x="281.49" y="639.44" width="1.74" height="1.76" fill="#9d3c9e"/><rect x="279.80" y="658.26" width="1.74" height="1.76" fill="#813185"/><rect x="271.36" y="656.55" width="1.74" height="1.76" fill="#c16dbc"/><rect x="269.68" y="651.41" width="1.74" height="1.76" fill="#a13fa1"/><rect x="286.55" y="641.15" width="1.74" height="1.76" fill="#ac4caa"/><rect x="286.55" y="663.39" width="1.74" height="1.76" fill="#ac4caa"/><rect x="281.49" y="654.83" width="1.74" height="1.76" fill="#9d3c9e"/><rect x="281.49" y="644.57" width="1.74" height="1.76" fill="#88338c"/><rect x="266.30" y="658.26" width="1.74" height="1.76" fill="#b455b0"/><rect x="288.24" y="656.55" width="1.74" height="1.76" fill="#9d3c9e"/><rect x="289.93" y="656.55" width="1.74" height="1.76" fill="#b455b0"/><rect x="300.06" y="653.12" width="1.74" height="1.76" fill="#ac4caa"/><rect x="273.05" y="656.55" width="1.74" height="1.76" fill="#a13fa1"/><rect x="289.93" y="639.44" width="1.74" height="1.76" fill="#ac4caa"/><rect x="276.43" y="639.44" width="1.74" height="1.76" fill="#913594"/><rect x="269.68" y="649.70" width="1.74" height="1.76" fill="#b455b0"/><rect x="305.12" y="659.97" width="1.74" height="1.76" fill="#d292cd"/><rect x="279.80" y="639.44" width="1.74" height="1.76" fill="#9d3c9e"/><rect x="303.43" y="653.12" width="1.74" height="1.76" fill="#ac4caa"/><rect x="291.62" y="630.88" width="1.74" height="1.76" fill="#c16dbc"/><rect x="279.80" y="647.99" width="1.74" height="1.76" fill="#963698"/><rect x="279.80" y="656.55" width="1.74" height="1.76" fill="#99399b"/><rect x="279.80" y="654.83" width="1.74" height="1.76" fill="#88338c"/><rect x="276.43" y="651.41" width="1.74" height="1.76" fill="#99399b"/><rect x="274.74" y="654.83" width="1.74" height="1.76" fill="#ac4caa"/><rect x="303.43" y="639.44" width="1.74" height="1.76" fill="#d292cd"/><rect x="274.74" y="653.12" width="1.74" height="1.76" fill="#ac4caa"/><rect x="266.30" y="651.41" width="1.74" height="1.76" fill="#c16dbc"/><rect x="284.87" y="632.59" width="1.74" height="1.76" fill="#a13fa1"/><rect x="301.74" y="641.15" width="1.74" height="1.76" fill="#ac4caa"/><rect x="289.93" y="658.26" width="1.74" height="1.76" fill="#d292cd"/><rect x="266.30" y="641.15" width="1.74" height="1.76" fill="#ac4caa"/><rect x="289.93" y="661.68" width="1.74" height="1.76" fill="#a13fa1"/><rect x="289.93" y="637.72" width="1.74" height="1.76" fill="#a13fa1"/><rect x="294.99" y="649.70" width="1.74" height="1.76" fill="#9d3c9e"/><rect x="288.24" y="654.83" width="1.74" height="1.76" fill="#913594"/><rect x="267.99" y="659.97" width="1.74" height="1.76" fill="#ac4caa"/><rect x="266.30" y="644.57" width="1.74" height="1.76" fill="#c16dbc"/><rect x="267.99" y="637.72" width="1.74" height="1.76" fill="#d292cd"/><rect x="289.93" y="642.86" width="1.74" height="1.76" fill="#99399b"/><rect x="289.93" y="654.83" width="1.74" height="1.76" fill="#c16dbc"/><rect x="289.93" y="632.59" width="1.74" height="1.76" fill="#ac4caa"/><rect x="286.55" y="634.30" width="1.74" height="1.76" fill="#ac4caa"/><rect x="267.99" y="658.26" width="1.74" height="1.76" fill="#c16dbc"/><rect x="278.11" y="632.59" width="1.74" height="1.76" fill="#ac4caa"/><rect x="303.43" y="661.68" width="1.74" height="1.76" fill="#d292cd"/><rect x="296.68" y="651.41" width="1.74" height="1.76" fill="#a644a5"/><rect x="273.05" y="646.28" width="1.74" height="1.76" fill="#843288"/><rect x="303.43" y="637.72" width="1.74" height="1.76" fill="#edcfea"/><rect x="296.68" y="647.99" width="1.74" height="1.76" fill="#a644a5"/><rect x="293.30" y="644.57" width="1.74" height="1.76" fill="#a13fa1"/><rect x="266.30" y="654.83" width="1.74" height="1.76" fill="#d292cd"/><rect x="288.24" y="639.44" width="1.74" height="1.76" fill="#ac4caa"/><rect x="283.18" y="639.44" width="1.74" height="1.76" fill="#843288"/><rect x="286.55" y="661.68" width="1.74" height="1.76" fill="#edcfea"/><rect x="286.55" y="632.59" width="1.74" height="1.76" fill="#a644a5"/><rect x="281.49" y="637.72" width="1.74" height="1.76" fill="#99399b"/><rect x="293.30" y="661.68" width="1.74" height="1.76" fill="#d292cd"/><rect x="301.74" y="653.12" width="1.74" height="1.76" fill="#c16dbc"/><rect x="289.93" y="630.88" width="1.74" height="1.76" fill="#b455b0"/><rect x="288.24" y="644.57" width="1.74" height="1.76" fill="#a13fa1"/><rect x="298.37" y="661.68" width="1.74" height="1.76" fill="#d292cd"/><rect x="286.55" y="642.86" width="1.74" height="1.76" fill="#963698"/><rect x="267.99" y="654.83" width="1.74" height="1.76" fill="#a644a5"/><rect x="294.99" y="642.86" width="1.74" height="1.76" fill="#a644a5"/><rect x="291.62" y="644.57" width="1.74" height="1.76" fill="#913594"/><rect x="301.74" y="647.99" width="1.74" height="1.76" fill="#a644a5"/><rect x="276.43" y="637.72" width="1.74" height="1.76" fill="#ac4caa"/><rect x="301.74" y="639.44" width="1.74" height="1.76" fill="#edcfea"/><rect x="289.93" y="646.28" width="1.74" height="1.76" fill="#a13fa1"/><rect x="273.05" y="649.70" width="1.74" height="1.76" fill="#a13fa1"/><rect x="276.43" y="656.55" width="1.74" height="1.76" fill="#9d3c9e"/><rect x="276.43" y="649.70" width="1.74" height="1.76" fill="#913594"/><rect x="294.99" y="663.39" width="1.74" height="1.76" fill="#c16dbc"/><rect x="286.55" y="644.57" width="1.74" height="1.76" fill="#a13fa1"/><rect x="279.80" y="644.57" width="1.74" height="1.76" fill="#88338c"/><rect x="276.43" y="642.86" width="1.74" height="1.76" fill="#963698"/><rect x="276.43" y="653.12" width="1.74" height="1.76" fill="#9d3c9e"/><rect x="279.80" y="637.72" width="1.74" height="1.76" fill="#c16dbc"/><rect x="284.87" y="651.41" width="1.74" height="1.76" fill="#913594"/><rect x="298.37" y="642.86" width="1.74" height="1.76" fill="#d292cd"/><rect x="271.36" y="659.97" width="1.74" height="1.76" fill="#b455b0"/><rect x="305.12" y="634.30" width="1.74" height="1.76" fill="#c16dbc"/><rect x="283.18" y="649.70" width="1.74" height="1.76" fill="#913594"/><rect x="286.55" y="656.55" width="1.74" height="1.76" fill="#8d3490"/><rect x="284.87" y="644.57" width="1.74" height="1.76" fill="#a13fa1"/><rect x="278.11" y="646.28" width="1.74" height="1.76" fill="#8d3490"/><rect x="284.87" y="649.70" width="1.74" height="1.76" fill="#843288"/><rect x="274.74" y="647.99" width="1.74" height="1.76" fill="#99399b"/><rect x="274.74" y="656.55" width="1.74" height="1.76" fill="#a13fa1"/><rect x="269.68" y="637.72" width="1.74" height="1.76" fill="#c16dbc"/><rect x="283.18" y="644.57" width="1.74" height="1.76" fill="#9d3c9e"/><rect x="288.24" y="632.59" width="1.74" height="1.76" fill="#d292cd"/><rect x="273.05" y="647.99" width="1.74" height="1.76" fill="#d292cd"/><rect x="293.30" y="649.70" width="1.74" height="1.76" fill="#b455b0"/><rect x="271.36" y="646.28" width="1.74" height="1.76" fill="#a644a5"/><rect x="303.43" y="636.01" width="1.74" height="1.76" fill="#d292cd"/><rect x="289.93" y="634.30" width="1.74" height="1.76" fill="#99399b"/><rect x="300.06" y="636.01" width="1.74" height="1.76" fill="#c16dbc"/><rect x="267.99" y="644.57" width="1.74" height="1.76" fill="#d292cd"/><rect x="294.99" y="647.99" width="1.74" height="1.76" fill="#a13fa1"/><rect x="286.55" y="659.97" width="1.74" height="1.76" fill="#c16dbc"/><rect x="267.99" y="651.41" width="1.74" height="1.76" fill="#d292cd"/><rect x="281.49" y="651.41" width="1.74" height="1.76" fill="#99399b"/><rect x="276.43" y="659.97" width="1.74" height="1.76" fill="#99399b"/><rect x="291.62" y="651.41" width="1.74" height="1.76" fill="#963698"/><rect x="301.74" y="637.72" width="1.74" height="1.76" fill="#d292cd"/><rect x="286.55" y="639.44" width="1.74" height="1.76" fill="#a13fa1"/><rect x="278.11" y="649.70" width="1.74" height="1.76" fill="#99399b"/><rect x="286.55" y="630.88" width="1.74" height="1.76" fill="#c16dbc"/><rect x="298.37" y="649.70" width="1.74" height="1.76" fill="#a644a5"/><rect x="293.30" y="632.59" width="1.74" height="1.76" fill="#a13fa1"/><rect x="271.36" y="644.57" width="1.74" height="1.76" fill="#c16dbc"/><rect x="274.74" y="630.88" width="1.74" height="1.76" fill="#edcfea"/><rect x="273.05" y="654.83" width="1.74" height="1.76" fill="#a644a5"/><rect x="284.87" y="636.01" width="1.74" height="1.76" fill="#a644a5"/><rect x="274.74" y="658.26" width="1.74" height="1.76" fill="#9d3c9e"/><rect x="273.05" y="641.15" width="1.74" height="1.76" fill="#a644a5"/><rect x="276.43" y="647.99" width="1.74" height="1.76" fill="#813185"/><rect x="266.30" y="637.72" width="1.74" height="1.76" fill="#d292cd"/><rect x="269.68" y="642.86" width="1.74" height="1.76" fill="#b455b0"/><rect x="281.49" y="656.55" width="1.74" height="1.76" fill="#a13fa1"/><rect x="291.62" y="639.44" width="1.74" height="1.76" fill="#ac4caa"/><rect x="291.62" y="634.30" width="1.74" height="1.76" fill="#d292cd"/><rect x="267.99" y="641.15" width="1.74" height="1.76" fill="#c16dbc"/><rect x="294.99" y="629.17" width="1.74" height="1.76" fill="#d292cd"/><rect x="269.68" y="629.17" width="1.74" height="1.76" fill="#edcfea"/><rect x="284.87" y="641.15" width="1.74" height="1.76" fill="#ac4caa"/><rect x="284.87" y="663.39" width="1.74" height="1.76" fill="#963698"/><rect x="274.74" y="644.57" width="1.74" height="1.76" fill="#8d3490"/><rect x="303.43" y="659.97" width="1.74" height="1.76" fill="#edcfea"/><rect x="301.74" y="644.57" width="1.74" height="1.76" fill="#c16dbc"/><rect x="279.80" y="649.70" width="1.74" height="1.76" fill="#99399b"/><rect x="293.30" y="656.55" width="1.74" height="1.76" fill="#99399b"/><rect x="294.99" y="646.28" width="1.74" height="1.76" fill="#963698"/><rect x="279.80" y="634.30" width="1.74" height="1.76" fill="#ac4caa"/><rect x="298.37" y="658.26" width="1.74" height="1.76" fill="#d292cd"/><rect x="284.87" y="656.55" width="1.74" height="1.76" fill="#a13fa1"/><rect x="271.36" y="641.15" width="1.74" height="1.76" fill="#a13fa1"/><rect x="305.12" y="646.28" width="1.74" height="1.76" fill="#d292cd"/><rect x="283.18" y="642.86" width="1.74" height="1.76" fill="#99399b"/><rect x="293.30" y="654.83" width="1.74" height="1.76" fill="#edcfea"/><rect x="298.37" y="644.57" width="1.74" height="1.76" fill="#a644a5"/><rect x="271.36" y="642.86" width="1.74" height="1.76" fill="#c16dbc"/><rect x="267.99" y="642.86" width="1.74" height="1.76" fill="#a13fa1"/><rect x="294.99" y="637.72" width="1.74" height="1.76" fill="#a644a5"/><rect x="293.30" y="653.12" width="1.74" height="1.76" fill="#9d3c9e"/><rect x="283.18" y="663.39" width="1.74" height="1.76" fill="#edcfea"/><rect x="283.18" y="637.72" width="1.74" height="1.76" fill="#ac4caa"/><rect x="296.68" y="656.55" width="1.74" height="1.76" fill="#b455b0"/><rect x="278.11" y="651.41" width="1.74" height="1.76" fill="#913594"/><rect x="276.43" y="641.15" width="1.74" height="1.76" fill="#a644a5"/><rect x="269.68" y="646.28" width="1.74" height="1.76" fill="#c16dbc"/><rect x="274.74" y="661.68" width="1.74" height="1.76" fill="#a644a5"/><rect x="274.74" y="639.44" width="1.74" height="1.76" fill="#a13fa1"/><rect x="281.49" y="632.59" width="1.74" height="1.76" fill="#b455b0"/><rect x="300.06" y="642.86" width="1.74" height="1.76" fill="#edcfea"/><rect x="276.43" y="644.57" width="1.74" height="1.76" fill="#9d3c9e"/><rect x="298.37" y="659.97" width="1.74" height="1.76" fill="#b455b0"/><rect x="271.36" y="637.72" width="1.74" height="1.76" fill="#b455b0"/><rect x="269.68" y="653.12" width="1.74" height="1.76" fill="#a13fa1"/><rect x="284.87" y="659.97" width="1.74" height="1.76" fill="#a13fa1"/><rect x="298.37" y="632.59" width="1.74" height="1.76" fill="#b455b0"/><rect x="288.24" y="637.72" width="1.74" height="1.76" fill="#a644a5"/><rect x="271.36" y="639.44" width="1.74" height="1.76" fill="#ac4caa"/><rect x="300.06" y="632.59" width="1.74" height="1.76" fill="#edcfea"/><rect x="283.18" y="641.15" width="1.74" height="1.76" fill="#a13fa1"/><rect x="296.68" y="639.44" width="1.74" height="1.76" fill="#963698"/><rect x="278.11" y="661.68" width="1.74" height="1.76" fill="#ac4caa"/><rect x="278.11" y="630.88" width="1.74" height="1.76" fill="#b455b0"/><rect x="283.18" y="651.41" width="1.74" height="1.76" fill="#8d3490"/><rect x="289.93" y="649.70" width="1.74" height="1.76" fill="#913594"/><rect x="271.36" y="632.59" width="1.74" height="1.76" fill="#d292cd"/><rect x="288.24" y="663.39" width="1.74" height="1.76" fill="#d292cd"/><rect x="289.93" y="653.12" width="1.74" height="1.76" fill="#9d3c9e"/><rect x="291.62" y="663.39" width="1.74" height="1.76" fill="#b455b0"/><rect x="271.36" y="651.41" width="1.74" height="1.76" fill="#a644a5"/><rect x="271.36" y="661.68" width="1.74" height="1.76" fill="#c16dbc"/><rect x="291.62" y="656.55" width="1.74" height="1.76" fill="#a13fa1"/><rect x="301.74" y="646.28" width="1.74" height="1.76" fill="#b455b0"/><rect x="284.87" y="629.17" width="1.74" height="1.76" fill="#edcfea"/><rect x="283.18" y="634.30" width="1.74" height="1.76" fill="#c16dbc"/><rect x="278.11" y="642.86" width="1.74" height="1.76" fill="#a644a5"/><rect x="269.68" y="636.01" width="1.74" height="1.76" fill="#ac4caa"/><rect x="267.99" y="656.55" width="1.74" height="1.76" fill="#ac4caa"/><rect x="303.43" y="656.55" width="1.74" height="1.76" fill="#edcfea"/><rect x="273.05" y="663.39" width="1.74" height="1.76" fill="#c16dbc"/><rect x="298.37" y="636.01" width="1.74" height="1.76" fill="#b455b0"/><rect x="291.62" y="629.17" width="1.74" height="1.76" fill="#ac4caa"/><rect x="279.80" y="659.97" width="1.74" height="1.76" fill="#a644a5"/><rect x="300.06" y="644.57" width="1.74" height="1.76" fill="#b455b0"/><rect x="279.80" y="632.59" width="1.74" height="1.76" fill="#d292cd"/><rect x="291.62" y="661.68" width="1.74" height="1.76" fill="#c16dbc"/><rect x="296.68" y="661.68" width="1.74" height="1.76" fill="#a13fa1"/><rect x="273.05" y="632.59" width="1.74" height="1.76" fill="#b455b0"/><rect x="283.18" y="653.12" width="1.74" height="1.76" fill="#b455b0"/><rect x="271.36" y="649.70" width="1.74" height="1.76" fill="#ac4caa"/><rect x="288.24" y="634.30" width="1.74" height="1.76" fill="#a644a5"/><rect x="279.80" y="641.15" width="1.74" height="1.76" fill="#9d3c9e"/><rect x="289.93" y="651.41" width="1.74" height="1.76" fill="#a644a5"/><rect x="289.93" y="644.57" width="1.74" height="1.76" fill="#963698"/><rect x="294.99" y="658.26" width="1.74" height="1.76" fill="#a13fa1"/><rect x="303.43" y="632.59" width="1.74" height="1.76" fill="#edcfea"/><rect x="298.37" y="647.99" width="1.74" height="1.76" fill="#d292cd"/><rect x="271.36" y="658.26" width="1.74" height="1.76" fill="#ac4caa"/><rect x="301.74" y="651.41" width="1.74" height="1.76" fill="#edcfea"/><rect x="276.43" y="632.59" width="1.74" height="1.76" fill="#b455b0"/><rect x="289.93" y="636.01" width="1.74" height="1.76" fill="#b455b0"/><rect x="288.24" y="661.68" width="1.74" height="1.76" fill="#b455b0"/><rect x="294.99" y="639.44" width="1.74" height="1.76" fill="#ac4caa"/><rect x="271.36" y="629.17" width="1.74" height="1.76" fill="#c16dbc"/><rect x="300.06" y="649.70" width="1.74" height="1.76" fill="#a13fa1"/><rect x="273.05" y="644.57" width="1.74" height="1.76" fill="#c16dbc"/><rect x="296.68" y="658.26" width="1.74" height="1.76" fill="#edcfea"/><rect x="286.55" y="658.26" width="1.74" height="1.76" fill="#c16dbc"/><rect x="291.62" y="641.15" width="1.74" height="1.76" fill="#c16dbc"/><rect x="274.74" y="649.70" width="1.74" height="1.76" fill="#963698"/><rect x="269.68" y="654.83" width="1.74" height="1.76" fill="#edcfea"/><rect x="269.68" y="658.26" width="1.74" height="1.76" fill="#ac4caa"/><rect x="279.80" y="653.12" width="1.74" height="1.76" fill="#b455b0"/><rect x="269.68" y="647.99" width="1.74" height="1.76" fill="#9d3c9e"/><rect x="298.37" y="637.72" width="1.74" height="1.76" fill="#c16dbc"/><rect x="284.87" y="634.30" width="1.74" height="1.76" fill="#a644a5"/><rect x="300.06" y="658.26" width="1.74" height="1.76" fill="#d292cd"/><rect x="273.05" y="651.41" width="1.74" height="1.76" fill="#b455b0"/><rect x="303.43" y="641.15" width="1.74" height="1.76" fill="#c16dbc"/><rect x="293.30" y="663.39" width="1.74" height="1.76" fill="#b455b0"/><rect x="276.43" y="658.26" width="1.74" height="1.76" fill="#c16dbc"/><rect x="288.24" y="653.12" width="1.74" height="1.76" fill="#a644a5"/><rect x="274.74" y="634.30" width="1.74" height="1.76" fill="#d292cd"/><rect x="288.24" y="659.97" width="1.74" height="1.76" fill="#a13fa1"/><rect x="288.24" y="646.28" width="1.74" height="1.76" fill="#a13fa1"/><rect x="278.11" y="629.17" width="1.74" height="1.76" fill="#c16dbc"/><rect x="289.93" y="663.39" width="1.74" height="1.76" fill="#ac4caa"/><rect x="266.30" y="649.70" width="1.74" height="1.76" fill="#b455b0"/><rect x="266.30" y="656.55" width="1.74" height="1.76" fill="#d292cd"/><rect x="293.30" y="651.41" width="1.74" height="1.76" fill="#ac4caa"/><rect x="305.12" y="653.12" width="1.74" height="1.76" fill="#edcfea"/><rect x="284.87" y="630.88" width="1.74" height="1.76" fill="#c16dbc"/><rect x="294.99" y="659.97" width="1.74" height="1.76" fill="#b455b0"/><rect x="286.55" y="636.01" width="1.74" height="1.76" fill="#a644a5"/><rect x="279.80" y="636.01" width="1.74" height="1.76" fill="#b455b0"/><rect x="300.06" y="646.28" width="1.74" height="1.76" fill="#c16dbc"/><rect x="300.06" y="639.44" width="1.74" height="1.76" fill="#edcfea"/><rect x="291.62" y="642.86" width="1.74" height="1.76" fill="#99399b"/><rect x="298.37" y="654.83" width="1.74" height="1.76" fill="#ac4caa"/><rect x="278.11" y="656.55" width="1.74" height="1.76" fill="#ac4caa"/><rect x="284.87" y="654.83" width="1.74" height="1.76" fill="#b455b0"/><rect x="284.87" y="661.68" width="1.74" height="1.76" fill="#edcfea"/><rect x="294.99" y="634.30" width="1.74" height="1.76" fill="#edcfea"/><rect x="273.05" y="659.97" width="1.74" height="1.76" fill="#b455b0"/><rect x="281.49" y="629.17" width="1.74" height="1.76" fill="#d292cd"/><rect x="294.99" y="641.15" width="1.74" height="1.76" fill="#d292cd"/><rect x="300.06" y="651.41" width="1.74" height="1.76" fill="#d292cd"/><rect x="303.43" y="658.26" width="1.74" height="1.76" fill="#b455b0"/><rect x="266.30" y="661.68" width="1.74" height="1.76" fill="#d292cd"/><rect x="283.18" y="661.68" width="1.74" height="1.76" fill="#b455b0"/><rect x="289.93" y="641.15" width="1.74" height="1.76" fill="#b455b0"/><rect x="283.18" y="630.88" width="1.74" height="1.76" fill="#b455b0"/><rect x="276.43" y="629.17" width="1.74" height="1.76" fill="#edcfea"/><rect x="298.37" y="656.55" width="1.74" height="1.76" fill="#b455b0"/><rect x="278.11" y="641.15" width="1.74" height="1.76" fill="#b455b0"/><rect x="300.06" y="663.39" width="1.74" height="1.76" fill="#edcfea"/><rect x="274.74" y="637.72" width="1.74" height="1.76" fill="#b455b0"/><rect x="274.74" y="636.01" width="1.74" height="1.76" fill="#ac4caa"/><rect x="273.05" y="634.30" width="1.74" height="1.76" fill="#d292cd"/><rect x="291.62" y="637.72" width="1.74" height="1.76" fill="#c16dbc"/><rect x="267.99" y="663.39" width="1.74" height="1.76" fill="#c16dbc"/><rect x="291.62" y="654.83" width="1.74" height="1.76" fill="#c16dbc"/><rect x="300.06" y="637.72" width="1.74" height="1.76" fill="#c16dbc"/><rect x="291.62" y="632.59" width="1.74" height="1.76" fill="#a644a5"/><rect x="273.05" y="636.01" width="1.74" height="1.76" fill="#c16dbc"/><rect x="266.30" y="646.28" width="1.74" height="1.76" fill="#d292cd"/><rect x="274.74" y="642.86" width="1.74" height="1.76" fill="#b455b0"/><rect x="291.62" y="647.99" width="1.74" height="1.76" fill="#c16dbc"/><rect x="279.80" y="661.68" width="1.74" height="1.76" fill="#c16dbc"/><rect x="298.37" y="646.28" width="1.74" height="1.76" fill="#c16dbc"/><rect x="269.68" y="634.30" width="1.74" height="1.76" fill="#d292cd"/><rect x="300.06" y="661.68" width="1.74" height="1.76" fill="#edcfea"/><rect x="293.30" y="641.15" width="1.74" height="1.76" fill="#ac4caa"/><rect x="298.37" y="639.44" width="1.74" height="1.76" fill="#d292cd"/><rect x="267.99" y="649.70" width="1.74" height="1.76" fill="#c16dbc"/><rect x="278.11" y="636.01" width="1.74" height="1.76" fill="#edcfea"/><rect x="303.43" y="646.28" width="1.74" height="1.76" fill="#a644a5"/><rect x="283.18" y="629.17" width="1.74" height="1.76" fill="#d292cd"/><rect x="286.55" y="646.28" width="1.74" height="1.76" fill="#9d3c9e"/><rect x="267.99" y="647.99" width="1.74" height="1.76" fill="#edcfea"/><rect x="281.49" y="630.88" width="1.74" height="1.76" fill="#edcfea"/><rect x="291.62" y="636.01" width="1.74" height="1.76" fill="#b455b0"/><rect x="293.30" y="658.26" width="1.74" height="1.76" fill="#c16dbc"/><rect x="274.74" y="632.59" width="1.74" height="1.76" fill="#d292cd"/><rect x="301.74" y="658.26" width="1.74" height="1.76" fill="#c16dbc"/><rect x="301.74" y="659.97" width="1.74" height="1.76" fill="#edcfea"/><rect x="267.99" y="639.44" width="1.74" height="1.76" fill="#d292cd"/><rect x="267.99" y="661.68" width="1.74" height="1.76" fill="#edcfea"/><rect x="278.11" y="634.30" width="1.74" height="1.76" fill="#d292cd"/><rect x="303.43" y="642.86" width="1.74" height="1.76" fill="#c16dbc"/><rect x="296.68" y="637.72" width="1.74" height="1.76" fill="#d292cd"/><rect x="279.80" y="630.88" width="1.74" height="1.76" fill="#d292cd"/><rect x="296.68" y="636.01" width="1.74" height="1.76" fill="#edcfea"/><rect x="303.43" y="644.57" width="1.74" height="1.76" fill="#edcfea"/><rect x="283.18" y="658.26" width="1.74" height="1.76" fill="#ac4caa"/><rect x="303.43" y="649.70" width="1.74" height="1.76" fill="#edcfea"/><rect x="301.74" y="642.86" width="1.74" height="1.76" fill="#edcfea"/><rect x="267.99" y="646.28" width="1.74" height="1.76" fill="#edcfea"/><rect x="286.55" y="629.17" width="1.74" height="1.76" fill="#d292cd"/><rect x="279.80" y="663.39" width="1.74" height="1.76" fill="#d292cd"/><rect x="301.74" y="634.30" width="1.74" height="1.76" fill="#d292cd"/><rect x="289.93" y="629.17" width="1.74" height="1.76" fill="#c16dbc"/><rect x="276.43" y="663.39" width="1.74" height="1.76" fill="#a13fa1"/><rect x="294.99" y="656.55" width="1.74" height="1.76" fill="#c16dbc"/><rect x="269.68" y="659.97" width="1.74" height="1.76" fill="#b455b0"/><rect x="296.68" y="646.28" width="1.74" height="1.76" fill="#c16dbc"/><rect x="281.49" y="634.30" width="1.74" height="1.76" fill="#ac4caa"/><rect x="288.24" y="630.88" width="1.74" height="1.76" fill="#c16dbc"/><rect x="296.68" y="634.30" width="1.74" height="1.76" fill="#edcfea"/><rect x="306.81" y="646.28" width="1.74" height="1.76" fill="#d292cd"/><rect x="296.68" y="630.88" width="1.74" height="1.76" fill="#d292cd"/><rect x="267.99" y="629.17" width="1.74" height="1.76" fill="#d292cd"/><rect x="300.06" y="630.88" width="1.74" height="1.76" fill="#d292cd"/><rect x="300.06" y="656.55" width="1.74" height="1.76" fill="#edcfea"/><rect x="298.37" y="653.12" width="1.74" height="1.76" fill="#edcfea"/><rect x="269.68" y="663.39" width="1.74" height="1.76" fill="#d292cd"/><rect x="276.43" y="634.30" width="1.74" height="1.76" fill="#edcfea"/><rect x="305.12" y="656.55" width="1.74" height="1.76" fill="#edcfea"/><rect x="301.74" y="649.70" width="1.74" height="1.76" fill="#edcfea"/><rect x="300.06" y="641.15" width="1.74" height="1.76" fill="#d292cd"/><rect x="293.30" y="642.86" width="1.74" height="1.76" fill="#edcfea"/><rect x="300.06" y="654.83" width="1.74" height="1.76" fill="#d292cd"/><rect x="269.68" y="641.15" width="1.74" height="1.76" fill="#edcfea"/><rect x="274.74" y="629.17" width="1.74" height="1.76" fill="#edcfea"/><rect x="273.05" y="658.26" width="1.74" height="1.76" fill="#c16dbc"/><rect x="303.43" y="629.17" width="1.74" height="1.76" fill="#b455b0"/><rect x="301.74" y="654.83" width="1.74" height="1.76" fill="#edcfea"/><rect x="291.62" y="658.26" width="1.74" height="1.76" fill="#edcfea"/><rect x="305.12" y="636.01" width="1.74" height="1.76" fill="#c16dbc"/><rect x="293.30" y="634.30" width="1.74" height="1.76" fill="#c16dbc"/><rect x="271.36" y="630.88" width="1.74" height="1.76" fill="#edcfea"/><rect x="291.62" y="653.12" width="1.74" height="1.76" fill="#c16dbc"/><rect x="305.12" y="647.99" width="1.74" height="1.76" fill="#d292cd"/><rect x="278.11" y="639.44" width="1.74" height="1.76" fill="#edcfea"/><rect x="276.43" y="625.75" width="1.74" height="1.76" fill="#edcfea"/><rect x="308.50" y="605.22" width="1.74" height="1.76" fill="#edcfea"/><rect x="284.87" y="617.19" width="1.74" height="1.76" fill="#edcfea"/><rect x="306.81" y="617.19" width="1.74" height="1.76" fill="#d292cd"/><rect x="296.68" y="625.75" width="1.74" height="1.76" fill="#edcfea"/><rect x="291.62" y="618.90" width="1.74" height="1.76" fill="#b455b0"/><rect x="306.81" y="641.15" width="1.74" height="1.76" fill="#c16dbc"/><rect x="310.18" y="653.12" width="1.74" height="1.76" fill="#edcfea"/><rect x="311.87" y="629.17" width="1.74" height="1.76" fill="#d292cd"/><rect x="286.55" y="625.75" width="1.74" height="1.76" fill="#edcfea"/><rect x="318.62" y="629.17" width="1.74" height="1.76" fill="#edcfea"/><rect x="274.74" y="622.33" width="1.74" height="1.76" fill="#edcfea"/><rect x="300.06" y="612.06" width="1.74" height="1.76" fill="#edcfea"/><rect x="306.81" y="636.01" width="1.74" height="1.76" fill="#d292cd"/><rect x="306.81" y="618.90" width="1.74" height="1.76" fill="#edcfea"/><rect x="300.06" y="625.75" width="1.74" height="1.76" fill="#d292cd"/><rect x="303.43" y="622.33" width="1.74" height="1.76" fill="#d292cd"/><rect x="320.31" y="627.46" width="1.74" height="1.76" fill="#edcfea"/><rect x="306.81" y="651.41" width="1.74" height="1.76" fill="#edcfea"/><rect x="296.68" y="624.04" width="1.74" height="1.76" fill="#c16dbc"/><rect x="278.11" y="625.75" width="1.74" height="1.76" fill="#edcfea"/><rect x="327.06" y="624.04" width="1.74" height="1.76" fill="#edcfea"/><rect x="267.99" y="632.59" width="1.74" height="1.76" fill="#d292cd"/><rect x="301.74" y="610.35" width="1.74" height="1.76" fill="#d292cd"/><rect x="308.50" y="642.86" width="1.74" height="1.76" fill="#edcfea"/><rect x="311.87" y="608.64" width="1.74" height="1.76" fill="#d292cd"/><rect x="308.50" y="653.12" width="1.74" height="1.76" fill="#edcfea"/><rect x="315.25" y="629.17" width="1.74" height="1.76" fill="#d292cd"/><rect x="313.56" y="634.30" width="1.74" height="1.76" fill="#edcfea"/><rect x="269.68" y="625.75" width="1.74" height="1.76" fill="#edcfea"/><rect x="288.24" y="622.33" width="1.74" height="1.76" fill="#edcfea"/><rect x="281.49" y="613.77" width="1.74" height="1.76" fill="#edcfea"/><rect x="296.68" y="629.17" width="1.74" height="1.76" fill="#d292cd"/><rect x="289.93" y="608.64" width="1.74" height="1.76" fill="#edcfea"/><rect x="276.43" y="627.46" width="1.74" height="1.76" fill="#edcfea"/><rect x="305.12" y="615.48" width="1.74" height="1.76" fill="#edcfea"/><rect x="316.93" y="634.30" width="1.74" height="1.76" fill="#edcfea"/><rect x="308.50" y="646.28" width="1.74" height="1.76" fill="#d292cd"/><rect x="294.99" y="625.75" width="1.74" height="1.76" fill="#c16dbc"/><rect x="306.81" y="642.86" width="1.74" height="1.76" fill="#c16dbc"/><rect x="316.93" y="632.59" width="1.74" height="1.76" fill="#edcfea"/><rect x="320.31" y="639.44" width="1.74" height="1.76" fill="#edcfea"/><rect x="311.87" y="641.15" width="1.74" height="1.76" fill="#edcfea"/><rect x="279.80" y="622.33" width="1.74" height="1.76" fill="#edcfea"/><rect x="294.99" y="612.06" width="1.74" height="1.76" fill="#c16dbc"/><rect x="283.18" y="610.35" width="1.74" height="1.76" fill="#edcfea"/><rect x="289.93" y="618.90" width="1.74" height="1.76" fill="#d292cd"/><rect x="313.56" y="620.61" width="1.74" height="1.76" fill="#edcfea"/><rect x="273.05" y="622.33" width="1.74" height="1.76" fill="#edcfea"/><rect x="294.99" y="636.01" width="1.74" height="1.76" fill="#edcfea"/><rect x="298.37" y="629.17" width="1.74" height="1.76" fill="#d292cd"/><rect x="293.30" y="625.75" width="1.74" height="1.76" fill="#edcfea"/><rect x="328.75" y="634.30" width="1.74" height="1.76" fill="#edcfea"/><rect x="298.37" y="618.90" width="1.74" height="1.76" fill="#edcfea"/><rect x="320.31" y="649.70" width="1.74" height="1.76" fill="#edcfea"/><rect x="278.11" y="610.35" width="1.74" height="1.76" fill="#edcfea"/><rect x="271.36" y="618.90" width="1.74" height="1.76" fill="#d292cd"/><rect x="310.18" y="634.30" width="1.74" height="1.76" fill="#d292cd"/><rect x="281.49" y="601.79" width="1.74" height="1.76" fill="#edcfea"/><rect x="303.43" y="625.75" width="1.74" height="1.76" fill="#edcfea"/><rect x="300.06" y="620.61" width="1.74" height="1.76" fill="#d292cd"/><rect x="306.81" y="647.99" width="1.74" height="1.76" fill="#edcfea"/><rect x="301.74" y="613.77" width="1.74" height="1.76" fill="#d292cd"/><rect x="288.24" y="617.19" width="1.74" height="1.76" fill="#edcfea"/><rect x="283.18" y="624.04" width="1.74" height="1.76" fill="#d292cd"/><rect x="283.18" y="627.46" width="1.74" height="1.76" fill="#d292cd"/><rect x="288.24" y="625.75" width="1.74" height="1.76" fill="#d292cd"/><rect x="313.56" y="618.90" width="1.74" height="1.76" fill="#edcfea"/><rect x="296.68" y="622.33" width="1.74" height="1.76" fill="#edcfea"/><rect x="293.30" y="627.46" width="1.74" height="1.76" fill="#edcfea"/><rect x="305.12" y="620.61" width="1.74" height="1.76" fill="#edcfea"/><rect x="288.24" y="603.50" width="1.74" height="1.76" fill="#edcfea"/><rect x="296.68" y="632.59" width="1.74" height="1.76" fill="#edcfea"/><rect x="306.81" y="644.57" width="1.74" height="1.76" fill="#edcfea"/><rect x="298.37" y="634.30" width="1.74" height="1.76" fill="#edcfea"/><rect x="328.75" y="620.61" width="1.74" height="1.76" fill="#edcfea"/><rect x="301.74" y="608.64" width="1.74" height="1.76" fill="#edcfea"/><rect x="313.56" y="644.57" width="1.74" height="1.76" fill="#edcfea"/><rect x="269.68" y="612.06" width="1.74" height="1.76" fill="#edcfea"/><rect x="315.25" y="613.77" width="1.74" height="1.76" fill="#edcfea"/><rect x="291.62" y="606.93" width="1.74" height="1.76" fill="#d292cd"/><rect x="303.43" y="634.30" width="1.74" height="1.76" fill="#edcfea"/><rect x="283.18" y="620.61" width="1.74" height="1.76" fill="#edcfea"/><rect x="308.50" y="636.01" width="1.74" height="1.76" fill="#edcfea"/><rect x="278.11" y="617.19" width="1.74" height="1.76" fill="#edcfea"/><rect x="305.12" y="617.19" width="1.74" height="1.76" fill="#edcfea"/><rect x="308.50" y="610.35" width="1.74" height="1.76" fill="#edcfea"/><rect x="273.05" y="617.19" width="1.74" height="1.76" fill="#d292cd"/><rect x="279.80" y="629.17" width="1.74" height="1.76" fill="#d292cd"/><rect x="305.12" y="651.41" width="1.74" height="1.76" fill="#c16dbc"/><rect x="293.30" y="630.88" width="1.74" height="1.76" fill="#edcfea"/><rect x="301.74" y="663.39" width="1.74" height="1.76" fill="#edcfea"/><rect x="283.18" y="617.19" width="1.74" height="1.76" fill="#edcfea"/><rect x="289.93" y="622.33" width="1.74" height="1.76" fill="#d292cd"/><rect x="300.06" y="622.33" width="1.74" height="1.76" fill="#edcfea"/><rect x="283.18" y="612.06" width="1.74" height="1.76" fill="#edcfea"/><rect x="289.93" y="617.19" width="1.74" height="1.76" fill="#d292cd"/><rect x="288.24" y="624.04" width="1.74" height="1.76" fill="#d292cd"/><rect x="289.93" y="613.77" width="1.74" height="1.76" fill="#d292cd"/><rect x="313.56" y="658.26" width="1.74" height="1.76" fill="#edcfea"/><rect x="273.05" y="661.68" width="1.74" height="1.76" fill="#d292cd"/><rect x="327.06" y="644.57" width="1.74" height="1.76" fill="#edcfea"/><rect x="320.31" y="624.04" width="1.74" height="1.76" fill="#d292cd"/><rect x="281.49" y="625.75" width="1.74" height="1.76" fill="#edcfea"/><rect x="310.18" y="663.39" width="1.74" height="1.76" fill="#edcfea"/><rect x="294.99" y="622.33" width="1.74" height="1.76" fill="#ac4caa"/><rect x="296.68" y="603.50" width="1.74" height="1.76" fill="#edcfea"/><rect x="296.68" y="618.90" width="1.74" height="1.76" fill="#edcfea"/><rect x="305.12" y="629.17" width="1.74" height="1.76" fill="#edcfea"/><rect x="279.80" y="600.08" width="1.74" height="1.76" fill="#edcfea"/><rect x="293.30" y="636.01" width="1.74" height="1.76" fill="#edcfea"/><rect x="291.62" y="620.61" width="1.74" height="1.76" fill="#edcfea"/><rect x="308.50" y="622.33" width="1.74" height="1.76" fill="#d292cd"/><rect x="316.93" y="649.70" width="1.74" height="1.76" fill="#d292cd"/><rect x="310.18" y="637.72" width="1.74" height="1.76" fill="#d292cd"/><rect x="303.43" y="624.04" width="1.74" height="1.76" fill="#d292cd"/><rect x="274.74" y="627.46" width="1.74" height="1.76" fill="#edcfea"/><rect x="320.31" y="661.68" width="1.74" height="1.76" fill="#edcfea"/><rect x="306.81" y="634.30" width="1.74" height="1.76" fill="#edcfea"/><rect x="313.56" y="624.04" width="1.74" height="1.76" fill="#edcfea"/><rect x="320.31" y="620.61" width="1.74" height="1.76" fill="#edcfea"/><rect x="308.50" y="629.17" width="1.74" height="1.76" fill="#edcfea"/><rect x="308.50" y="613.77" width="1.74" height="1.76" fill="#edcfea"/><rect x="281.49" y="618.90" width="1.74" height="1.76" fill="#edcfea"/><rect x="291.62" y="627.46" width="1.74" height="1.76" fill="#edcfea"/><rect x="320.31" y="641.15" width="1.74" height="1.76" fill="#edcfea"/><rect x="291.62" y="622.33" width="1.74" height="1.76" fill="#edcfea"/><rect x="322.00" y="630.88" width="1.74" height="1.76" fill="#edcfea"/><rect x="316.93" y="618.90" width="1.74" height="1.76" fill="#edcfea"/><rect x="308.50" y="630.88" width="1.74" height="1.76" fill="#edcfea"/><rect x="281.49" y="627.46" width="1.74" height="1.76" fill="#edcfea"/><rect x="306.81" y="632.59" width="1.74" height="1.76" fill="#a644a5"/><rect x="294.99" y="627.46" width="1.74" height="1.76" fill="#edcfea"/><rect x="303.43" y="606.93" width="1.74" height="1.76" fill="#edcfea"/><rect x="293.30" y="622.33" width="1.74" height="1.76" fill="#edcfea"/><rect x="310.18" y="654.83" width="1.74" height="1.76" fill="#edcfea"/><rect x="291.62" y="605.22" width="1.74" height="1.76" fill="#d292cd"/><rect x="279.80" y="625.75" width="1.74" height="1.76" fill="#edcfea"/><rect x="301.74" y="656.55" width="1.74" height="1.76" fill="#c16dbc"/><rect x="310.18" y="646.28" width="1.74" height="1.76" fill="#edcfea"/><rect x="269.68" y="630.88" width="1.74" height="1.76" fill="#edcfea"/><rect x="306.81" y="629.17" width="1.74" height="1.76" fill="#edcfea"/><rect x="320.31" y="618.90" width="1.74" height="1.76" fill="#edcfea"/><rect x="283.18" y="605.22" width="1.74" height="1.76" fill="#edcfea"/><rect x="303.43" y="612.06" width="1.74" height="1.76" fill="#edcfea"/><rect x="306.81" y="663.39" width="1.74" height="1.76" fill="#edcfea"/><rect x="310.18" y="629.17" width="1.74" height="1.76" fill="#edcfea"/><rect x="327.06" y="634.30" width="1.74" height="1.76" fill="#edcfea"/><rect x="284.87" y="615.48" width="1.74" height="1.76" fill="#edcfea"/><rect x="310.18" y="659.97" width="1.74" height="1.76" fill="#d292cd"/><rect x="308.50" y="627.46" width="1.74" height="1.76" fill="#edcfea"/><rect x="283.18" y="601.79" width="1.74" height="1.76" fill="#edcfea"/><rect x="308.50" y="625.75" width="1.74" height="1.76" fill="#edcfea"/><rect x="300.06" y="629.17" width="1.74" height="1.76" fill="#edcfea"/><rect x="271.36" y="625.75" width="1.74" height="1.76" fill="#edcfea"/><rect x="288.24" y="629.17" width="1.74" height="1.76" fill="#edcfea"/><rect x="298.37" y="620.61" width="1.74" height="1.76" fill="#edcfea"/><rect x="308.50" y="617.19" width="1.74" height="1.76" fill="#edcfea"/><rect x="288.24" y="627.46" width="1.74" height="1.76" fill="#d292cd"/><rect x="298.37" y="617.19" width="1.74" height="1.76" fill="#edcfea"/><rect x="284.87" y="624.04" width="1.74" height="1.76" fill="#edcfea"/><rect x="313.56" y="622.33" width="1.74" height="1.76" fill="#edcfea"/><rect x="315.25" y="617.19" width="1.74" height="1.76" fill="#edcfea"/><rect x="311.87" y="617.19" width="1.74" height="1.76" fill="#edcfea"/><rect x="279.80" y="606.93" width="1.74" height="1.76" fill="#edcfea"/><rect x="269.68" y="632.59" width="1.74" height="1.76" fill="#edcfea"/><rect x="308.50" y="641.15" width="1.74" height="1.76" fill="#edcfea"/><rect x="300.06" y="610.35" width="1.74" height="1.76" fill="#edcfea"/><rect x="313.56" y="636.01" width="1.74" height="1.76" fill="#edcfea"/><rect x="294.99" y="624.04" width="1.74" height="1.76" fill="#edcfea"/><rect x="281.49" y="617.19" width="1.74" height="1.76" fill="#edcfea"/><rect x="301.74" y="624.04" width="1.74" height="1.76" fill="#d292cd"/><rect x="303.43" y="630.88" width="1.74" height="1.76" fill="#edcfea"/><rect x="301.74" y="627.46" width="1.74" height="1.76" fill="#d292cd"/><rect x="316.93" y="617.19" width="1.74" height="1.76" fill="#edcfea"/><rect x="327.06" y="637.72" width="1.74" height="1.76" fill="#edcfea"/><rect x="315.25" y="625.75" width="1.74" height="1.76" fill="#edcfea"/><rect x="276.43" y="615.48" width="1.74" height="1.76" fill="#edcfea"/><rect x="269.68" y="608.64" width="1.74" height="1.76" fill="#edcfea"/><rect x="284.87" y="620.61" width="1.74" height="1.76" fill="#edcfea"/><rect x="305.12" y="600.08" width="1.74" height="1.76" fill="#edcfea"/><rect x="284.87" y="625.75" width="1.74" height="1.76" fill="#edcfea"/><rect x="291.62" y="615.48" width="1.74" height="1.76" fill="#edcfea"/><rect x="301.74" y="636.01" width="1.74" height="1.76" fill="#edcfea"/><rect x="306.81" y="639.44" width="1.74" height="1.76" fill="#edcfea"/><rect x="281.49" y="620.61" width="1.74" height="1.76" fill="#edcfea"/><rect x="293.30" y="610.35" width="1.74" height="1.76" fill="#edcfea"/><rect x="316.93" y="624.04" width="1.74" height="1.76" fill="#d292cd"/><rect x="316.93" y="622.33" width="1.74" height="1.76" fill="#edcfea"/><rect x="273.05" y="637.72" width="1.74" height="1.76" fill="#edcfea"/><rect x="288.24" y="600.08" width="1.74" height="1.76" fill="#edcfea"/><rect x="310.18" y="601.79" width="1.74" height="1.76" fill="#edcfea"/><rect x="318.62" y="641.15" width="1.74" height="1.76" fill="#edcfea"/><rect x="267.99" y="612.06" width="1.74" height="1.76" fill="#edcfea"/><rect x="286.55" y="608.64" width="1.74" height="1.76" fill="#edcfea"/><rect x="271.36" y="622.33" width="1.74" height="1.76" fill="#edcfea"/><rect x="284.87" y="612.06" width="1.74" height="1.76" fill="#edcfea"/><rect x="316.93" y="644.57" width="1.74" height="1.76" fill="#edcfea"/><rect x="313.56" y="646.28" width="1.74" height="1.76" fill="#edcfea"/><rect x="278.11" y="612.06" width="1.74" height="1.76" fill="#edcfea"/><rect x="306.81" y="603.50" width="1.74" height="1.76" fill="#edcfea"/><rect x="325.37" y="610.35" width="1.74" height="1.76" fill="#edcfea"/><rect x="301.74" y="617.19" width="1.74" height="1.76" fill="#d292cd"/><rect x="322.00" y="632.59" width="1.74" height="1.76" fill="#edcfea"/><rect x="284.87" y="618.90" width="1.74" height="1.76" fill="#d292cd"/><rect x="322.00" y="612.06" width="1.74" height="1.76" fill="#edcfea"/><rect x="294.99" y="632.59" width="1.74" height="1.76" fill="#edcfea"/><rect x="293.30" y="615.48" width="1.74" height="1.76" fill="#edcfea"/><rect x="279.80" y="613.77" width="1.74" height="1.76" fill="#edcfea"/><rect x="318.62" y="615.48" width="1.74" height="1.76" fill="#edcfea"/><rect x="279.80" y="620.61" width="1.74" height="1.76" fill="#edcfea"/><rect x="305.12" y="654.83" width="1.74" height="1.76" fill="#edcfea"/><rect x="293.30" y="620.61" width="1.74" height="1.76" fill="#edcfea"/><rect x="315.25" y="656.55" width="1.74" height="1.76" fill="#edcfea"/><rect x="305.12" y="637.72" width="1.74" height="1.76" fill="#d292cd"/><rect x="305.12" y="639.44" width="1.74" height="1.76" fill="#d292cd"/><rect x="313.56" y="617.19" width="1.74" height="1.76" fill="#edcfea"/><rect x="311.87" y="632.59" width="1.74" height="1.76" fill="#edcfea"/><rect x="279.80" y="618.90" width="1.74" height="1.76" fill="#edcfea"/><rect x="296.68" y="605.22" width="1.74" height="1.76" fill="#edcfea"/><rect x="274.74" y="625.75" width="1.74" height="1.76" fill="#edcfea"/><rect x="286.55" y="624.04" width="1.74" height="1.76" fill="#edcfea"/><rect x="293.30" y="618.90" width="1.74" height="1.76" fill="#edcfea"/><rect x="301.74" y="618.90" width="1.74" height="1.76" fill="#edcfea"/><rect x="305.12" y="630.88" width="1.74" height="1.76" fill="#edcfea"/><rect x="303.43" y="618.90" width="1.74" height="1.76" fill="#edcfea"/><rect x="303.43" y="615.48" width="1.74" height="1.76" fill="#edcfea"/><rect x="294.99" y="613.77" width="1.74" height="1.76" fill="#edcfea"/><rect x="293.30" y="624.04" width="1.74" height="1.76" fill="#edcfea"/><rect x="345.63" y="569.28" width="1.74" height="1.76" fill="#edcfea"/><rect x="357.44" y="579.55" width="1.74" height="1.76" fill="#edcfea"/><rect x="359.13" y="581.26" width="1.74" height="1.76" fill="#edcfea"/><rect x="345.63" y="620.61" width="1.74" height="1.76" fill="#edcfea"/><rect x="345.63" y="641.15" width="1.74" height="1.76" fill="#edcfea"/><rect x="315.25" y="582.97" width="1.74" height="1.76" fill="#edcfea"/><rect x="328.75" y="593.24" width="1.74" height="1.76" fill="#edcfea"/><rect x="338.88" y="605.22" width="1.74" height="1.76" fill="#edcfea"/></g>
<line x1="260.38" y1="671.10" x2="429.26" y2="499.90" stroke="#1e1e1e" stroke-width="1.5" stroke-dasharray="4.2 2.8"/>
<rect x="259.90" y="499.90" width="171.50" height="171.20" fill="none" stroke="#2f2f2f" stroke-width="1.4"/>
<line x1="253.60" y1="665.10" x2="259.90" y2="665.10" stroke="#2f2f2f" stroke-width="1.3"/>
<line x1="266.30" y1="671.10" x2="266.30" y2="677.40" stroke="#2f2f2f" stroke-width="1.3"/>
<line x1="253.60" y1="635.60" x2="259.90" y2="635.60" stroke="#2f2f2f" stroke-width="1.3"/>
<line x1="295.40" y1="671.10" x2="295.40" y2="677.40" stroke="#2f2f2f" stroke-width="1.3"/>
<line x1="253.60" y1="606.10" x2="259.90" y2="606.10" stroke="#2f2f2f" stroke-width="1.3"/>
<line x1="324.50" y1="671.10" x2="324.50" y2="677.40" stroke="#2f2f2f" stroke-width="1.3"/>
<line x1="253.60" y1="576.60" x2="259.90" y2="576.60" stroke="#2f2f2f" stroke-width="1.3"/>
<line x1="353.60" y1="671.10" x2="353.60" y2="677.40" stroke="#2f2f2f" stroke-width="1.3"/>
<line x1="253.60" y1="547.10" x2="259.90" y2="547.10" stroke="#2f2f2f" stroke-width="1.3"/>
<line x1="382.70" y1="671.10" x2="382.70" y2="677.40" stroke="#2f2f2f" stroke-width="1.3"/>
<line x1="253.60" y1="517.60" x2="259.90" y2="517.60" stroke="#2f2f2f" stroke-width="1.3"/>
<line x1="411.80" y1="671.10" x2="411.80" y2="677.40" stroke="#2f2f2f" stroke-width="1.3"/>
<text transform="translate(263.22,526.20) scale(1.0816,1)" font-size="15.5" fill="#2b2b2b" stroke="#2b2b2b" stroke-width="0.12">Pearson Cor. = 0.51</text>
<text transform="translate(236.42,669.65) scale(1.0000,1)" font-size="12.7" fill="#474747" stroke="#474747" stroke-width="0.05">0.0</text>
<text transform="translate(236.45,640.15) scale(1.0000,1)" font-size="12.7" fill="#474747" stroke="#474747" stroke-width="0.05">0.5</text>
<text transform="translate(236.42,610.65) scale(1.0000,1)" font-size="12.7" fill="#474747" stroke="#474747" stroke-width="0.05">1.0</text>
<text transform="translate(236.46,581.15) scale(1.0000,1)" font-size="12.7" fill="#474747" stroke="#474747" stroke-width="0.05">1.5</text>
<text transform="translate(236.42,551.65) scale(1.0000,1)" font-size="12.7" fill="#474747" stroke="#474747" stroke-width="0.05">2.0</text>
<text transform="translate(236.46,522.15) scale(1.0000,1)" font-size="12.7" fill="#474747" stroke="#474747" stroke-width="0.05">2.5</text>
<text transform="translate(257.46,692.60) scale(1.0000,1)" font-size="12.7" fill="#474747" stroke="#474747" stroke-width="0.05">0.0</text>
<text transform="translate(286.57,692.60) scale(1.0000,1)" font-size="12.7" fill="#474747" stroke="#474747" stroke-width="0.05">0.5</text>
<text transform="translate(315.44,692.60) scale(1.0000,1)" font-size="12.7" fill="#474747" stroke="#474747" stroke-width="0.05">1.0</text>
<text transform="translate(344.55,692.60) scale(1.0000,1)" font-size="12.7" fill="#474747" stroke="#474747" stroke-width="0.05">1.5</text>
<text transform="translate(373.79,692.60) scale(1.0000,1)" font-size="12.7" fill="#474747" stroke="#474747" stroke-width="0.05">2.0</text>
<text transform="translate(402.91,692.60) scale(1.0000,1)" font-size="12.7" fill="#474747" stroke="#474747" stroke-width="0.05">2.5</text>
<text transform="translate(296.41,709.20) scale(1.0897,1)" font-size="15.5" fill="#2b2b2b" stroke="#2b2b2b" stroke-width="0.12">Expr. in HCC</text>
<text transform="translate(231.30,629.93) rotate(-90) scale(1.1187,1)" font-size="15.5" fill="#2b2b2b" stroke="#2b2b2b" stroke-width="0.12">Expr. in Ctrl</text>
<g shape-rendering="crispEdges"><rect x="503.76" y="647.53" width="1.79" height="1.76" fill="#8b338f"/><rect x="482.88" y="652.65" width="1.79" height="1.76" fill="#ae4eab"/><rect x="498.54" y="652.65" width="1.79" height="1.76" fill="#8b338f"/><rect x="489.84" y="650.94" width="1.79" height="1.76" fill="#98389a"/><rect x="484.62" y="644.11" width="1.79" height="1.76" fill="#a240a2"/><rect x="514.20" y="649.24" width="1.79" height="1.76" fill="#d495ce"/><rect x="489.84" y="656.07" width="1.79" height="1.76" fill="#a240a2"/><rect x="502.02" y="647.53" width="1.79" height="1.76" fill="#a746a6"/><rect x="491.58" y="644.11" width="1.79" height="1.76" fill="#8b338f"/><rect x="514.20" y="642.40" width="1.79" height="1.76" fill="#9b3a9c"/><rect x="508.98" y="654.36" width="1.79" height="1.76" fill="#b557b1"/><rect x="502.02" y="659.48" width="1.79" height="1.76" fill="#b557b1"/><rect x="510.72" y="628.74" width="1.79" height="1.76" fill="#ae4eab"/><rect x="484.62" y="638.99" width="1.79" height="1.76" fill="#b557b1"/><rect x="505.50" y="650.94" width="1.79" height="1.76" fill="#8b338f"/><rect x="493.32" y="635.57" width="1.79" height="1.76" fill="#9e3d9f"/><rect x="510.72" y="656.07" width="1.79" height="1.76" fill="#ae4eab"/><rect x="498.54" y="656.07" width="1.79" height="1.76" fill="#a240a2"/><rect x="489.84" y="654.36" width="1.79" height="1.76" fill="#9e3d9f"/><rect x="503.76" y="630.45" width="1.79" height="1.76" fill="#a240a2"/><rect x="505.50" y="638.99" width="1.79" height="1.76" fill="#a746a6"/><rect x="500.28" y="642.40" width="1.79" height="1.76" fill="#8b338f"/><rect x="495.06" y="632.15" width="1.79" height="1.76" fill="#b557b1"/><rect x="488.10" y="654.36" width="1.79" height="1.76" fill="#943697"/><rect x="493.32" y="650.94" width="1.79" height="1.76" fill="#8b338f"/><rect x="495.06" y="635.57" width="1.79" height="1.76" fill="#98389a"/><rect x="505.50" y="656.07" width="1.79" height="1.76" fill="#ae4eab"/><rect x="498.54" y="640.69" width="1.79" height="1.76" fill="#943697"/><rect x="488.10" y="645.82" width="1.79" height="1.76" fill="#9b3a9c"/><rect x="484.62" y="647.53" width="1.79" height="1.76" fill="#9e3d9f"/><rect x="484.62" y="645.82" width="1.79" height="1.76" fill="#98389a"/><rect x="481.14" y="645.82" width="1.79" height="1.76" fill="#b557b1"/><rect x="491.58" y="638.99" width="1.79" height="1.76" fill="#a746a6"/><rect x="507.24" y="638.99" width="1.79" height="1.76" fill="#ae4eab"/><rect x="488.10" y="649.24" width="1.79" height="1.76" fill="#a746a6"/><rect x="488.10" y="637.28" width="1.79" height="1.76" fill="#ae4eab"/><rect x="493.32" y="628.74" width="1.79" height="1.76" fill="#b557b1"/><rect x="489.84" y="642.40" width="1.79" height="1.76" fill="#943697"/><rect x="479.40" y="632.15" width="1.79" height="1.76" fill="#edd1eb"/><rect x="508.98" y="644.11" width="1.79" height="1.76" fill="#a240a2"/><rect x="495.06" y="649.24" width="1.79" height="1.76" fill="#9e3d9f"/><rect x="486.36" y="637.28" width="1.79" height="1.76" fill="#b557b1"/><rect x="479.40" y="652.65" width="1.79" height="1.76" fill="#d495ce"/><rect x="489.84" y="640.69" width="1.79" height="1.76" fill="#ae4eab"/><rect x="496.80" y="647.53" width="1.79" height="1.76" fill="#7d3082"/><rect x="512.46" y="640.69" width="1.79" height="1.76" fill="#a746a6"/><rect x="502.02" y="640.69" width="1.79" height="1.76" fill="#8b338f"/><rect x="495.06" y="645.82" width="1.79" height="1.76" fill="#98389a"/><rect x="496.80" y="649.24" width="1.79" height="1.76" fill="#98389a"/><rect x="500.28" y="650.94" width="1.79" height="1.76" fill="#98389a"/><rect x="491.58" y="642.40" width="1.79" height="1.76" fill="#a746a6"/><rect x="498.54" y="647.53" width="1.79" height="1.76" fill="#9b3a9c"/><rect x="503.76" y="642.40" width="1.79" height="1.76" fill="#9b3a9c"/><rect x="503.76" y="649.24" width="1.79" height="1.76" fill="#9b3a9c"/><rect x="484.62" y="642.40" width="1.79" height="1.76" fill="#9e3d9f"/><rect x="482.88" y="654.36" width="1.79" height="1.76" fill="#98389a"/><rect x="500.28" y="656.07" width="1.79" height="1.76" fill="#b557b1"/><rect x="495.06" y="652.65" width="1.79" height="1.76" fill="#8b338f"/><rect x="495.06" y="657.78" width="1.79" height="1.76" fill="#903593"/><rect x="498.54" y="649.24" width="1.79" height="1.76" fill="#903593"/><rect x="496.80" y="659.48" width="1.79" height="1.76" fill="#a240a2"/><rect x="479.40" y="647.53" width="1.79" height="1.76" fill="#ae4eab"/><rect x="493.32" y="647.53" width="1.79" height="1.76" fill="#943697"/><rect x="503.76" y="640.69" width="1.79" height="1.76" fill="#9b3a9c"/><rect x="503.76" y="637.28" width="1.79" height="1.76" fill="#a240a2"/><rect x="512.46" y="638.99" width="1.79" height="1.76" fill="#98389a"/><rect x="495.06" y="633.86" width="1.79" height="1.76" fill="#b557b1"/><rect x="498.54" y="654.36" width="1.79" height="1.76" fill="#98389a"/><rect x="507.24" y="635.57" width="1.79" height="1.76" fill="#a746a6"/><rect x="495.06" y="642.40" width="1.79" height="1.76" fill="#943697"/><rect x="482.88" y="659.48" width="1.79" height="1.76" fill="#a746a6"/><rect x="510.72" y="644.11" width="1.79" height="1.76" fill="#c270bd"/><rect x="496.80" y="652.65" width="1.79" height="1.76" fill="#88338b"/><rect x="498.54" y="657.78" width="1.79" height="1.76" fill="#ae4eab"/><rect x="496.80" y="661.19" width="1.79" height="1.76" fill="#9e3d9f"/><rect x="502.02" y="637.28" width="1.79" height="1.76" fill="#9b3a9c"/><rect x="488.10" y="652.65" width="1.79" height="1.76" fill="#98389a"/><rect x="510.72" y="647.53" width="1.79" height="1.76" fill="#b557b1"/><rect x="505.50" y="654.36" width="1.79" height="1.76" fill="#c270bd"/><rect x="505.50" y="642.40" width="1.79" height="1.76" fill="#edd1eb"/><rect x="493.32" y="633.86" width="1.79" height="1.76" fill="#ae4eab"/><rect x="489.84" y="645.82" width="1.79" height="1.76" fill="#a240a2"/><rect x="488.10" y="657.78" width="1.79" height="1.76" fill="#b557b1"/><rect x="496.80" y="650.94" width="1.79" height="1.76" fill="#943697"/><rect x="496.80" y="637.28" width="1.79" height="1.76" fill="#98389a"/><rect x="491.58" y="657.78" width="1.79" height="1.76" fill="#903593"/><rect x="498.54" y="644.11" width="1.79" height="1.76" fill="#803185"/><rect x="482.88" y="637.28" width="1.79" height="1.76" fill="#b557b1"/><rect x="489.84" y="632.15" width="1.79" height="1.76" fill="#c270bd"/><rect x="482.88" y="656.07" width="1.79" height="1.76" fill="#c270bd"/><rect x="491.58" y="630.45" width="1.79" height="1.76" fill="#c270bd"/><rect x="502.02" y="652.65" width="1.79" height="1.76" fill="#9e3d9f"/><rect x="507.24" y="640.69" width="1.79" height="1.76" fill="#9e3d9f"/><rect x="496.80" y="645.82" width="1.79" height="1.76" fill="#88338b"/><rect x="500.28" y="644.11" width="1.79" height="1.76" fill="#88338b"/><rect x="495.06" y="644.11" width="1.79" height="1.76" fill="#943697"/><rect x="482.88" y="642.40" width="1.79" height="1.76" fill="#a746a6"/><rect x="495.06" y="640.69" width="1.79" height="1.76" fill="#803185"/><rect x="481.14" y="633.86" width="1.79" height="1.76" fill="#edd1eb"/><rect x="507.24" y="642.40" width="1.79" height="1.76" fill="#a240a2"/><rect x="488.10" y="647.53" width="1.79" height="1.76" fill="#8b338f"/><rect x="493.32" y="632.15" width="1.79" height="1.76" fill="#b557b1"/><rect x="508.98" y="642.40" width="1.79" height="1.76" fill="#943697"/><rect x="510.72" y="633.86" width="1.79" height="1.76" fill="#b557b1"/><rect x="481.14" y="657.78" width="1.79" height="1.76" fill="#c270bd"/><rect x="491.58" y="652.65" width="1.79" height="1.76" fill="#943697"/><rect x="515.94" y="649.24" width="1.79" height="1.76" fill="#b557b1"/><rect x="484.62" y="657.78" width="1.79" height="1.76" fill="#943697"/><rect x="498.54" y="638.99" width="1.79" height="1.76" fill="#ae4eab"/><rect x="488.10" y="642.40" width="1.79" height="1.76" fill="#943697"/><rect x="491.58" y="645.82" width="1.79" height="1.76" fill="#9b3a9c"/><rect x="508.98" y="637.28" width="1.79" height="1.76" fill="#943697"/><rect x="486.36" y="650.94" width="1.79" height="1.76" fill="#d495ce"/><rect x="482.88" y="661.19" width="1.79" height="1.76" fill="#a240a2"/><rect x="508.98" y="635.57" width="1.79" height="1.76" fill="#b557b1"/><rect x="505.50" y="649.24" width="1.79" height="1.76" fill="#9e3d9f"/><rect x="489.84" y="661.19" width="1.79" height="1.76" fill="#a240a2"/><rect x="505.50" y="645.82" width="1.79" height="1.76" fill="#9e3d9f"/><rect x="489.84" y="647.53" width="1.79" height="1.76" fill="#9e3d9f"/><rect x="502.02" y="638.99" width="1.79" height="1.76" fill="#903593"/><rect x="512.46" y="630.45" width="1.79" height="1.76" fill="#edd1eb"/><rect x="493.32" y="661.19" width="1.79" height="1.76" fill="#b557b1"/><rect x="498.54" y="661.19" width="1.79" height="1.76" fill="#d495ce"/><rect x="503.76" y="633.86" width="1.79" height="1.76" fill="#b557b1"/><rect x="481.14" y="637.28" width="1.79" height="1.76" fill="#b557b1"/><rect x="502.02" y="630.45" width="1.79" height="1.76" fill="#c270bd"/><rect x="481.14" y="647.53" width="1.79" height="1.76" fill="#9b3a9c"/><rect x="493.32" y="640.69" width="1.79" height="1.76" fill="#a240a2"/><rect x="505.50" y="644.11" width="1.79" height="1.76" fill="#903593"/><rect x="486.36" y="649.24" width="1.79" height="1.76" fill="#98389a"/><rect x="491.58" y="656.07" width="1.79" height="1.76" fill="#843288"/><rect x="479.40" y="638.99" width="1.79" height="1.76" fill="#d495ce"/><rect x="489.84" y="637.28" width="1.79" height="1.76" fill="#9e3d9f"/><rect x="503.76" y="644.11" width="1.79" height="1.76" fill="#9b3a9c"/><rect x="500.28" y="637.28" width="1.79" height="1.76" fill="#a240a2"/><rect x="479.40" y="661.19" width="1.79" height="1.76" fill="#d495ce"/><rect x="496.80" y="640.69" width="1.79" height="1.76" fill="#943697"/><rect x="500.28" y="661.19" width="1.79" height="1.76" fill="#d495ce"/><rect x="484.62" y="650.94" width="1.79" height="1.76" fill="#943697"/><rect x="500.28" y="645.82" width="1.79" height="1.76" fill="#903593"/><rect x="500.28" y="649.24" width="1.79" height="1.76" fill="#8b338f"/><rect x="491.58" y="637.28" width="1.79" height="1.76" fill="#a746a6"/><rect x="482.88" y="645.82" width="1.79" height="1.76" fill="#9b3a9c"/><rect x="498.54" y="637.28" width="1.79" height="1.76" fill="#a240a2"/><rect x="512.46" y="633.86" width="1.79" height="1.76" fill="#ae4eab"/><rect x="496.80" y="656.07" width="1.79" height="1.76" fill="#9b3a9c"/><rect x="502.02" y="649.24" width="1.79" height="1.76" fill="#9e3d9f"/><rect x="482.88" y="640.69" width="1.79" height="1.76" fill="#b557b1"/><rect x="495.06" y="637.28" width="1.79" height="1.76" fill="#9e3d9f"/><rect x="488.10" y="656.07" width="1.79" height="1.76" fill="#b557b1"/><rect x="496.80" y="644.11" width="1.79" height="1.76" fill="#803185"/><rect x="493.32" y="654.36" width="1.79" height="1.76" fill="#843288"/><rect x="481.14" y="661.19" width="1.79" height="1.76" fill="#c270bd"/><rect x="512.46" y="632.15" width="1.79" height="1.76" fill="#a746a6"/><rect x="502.02" y="645.82" width="1.79" height="1.76" fill="#98389a"/><rect x="486.36" y="656.07" width="1.79" height="1.76" fill="#c270bd"/><rect x="502.02" y="657.78" width="1.79" height="1.76" fill="#b557b1"/><rect x="507.24" y="657.78" width="1.79" height="1.76" fill="#b557b1"/><rect x="510.72" y="645.82" width="1.79" height="1.76" fill="#9e3d9f"/><rect x="481.14" y="644.11" width="1.79" height="1.76" fill="#ae4eab"/><rect x="515.94" y="635.57" width="1.79" height="1.76" fill="#c270bd"/><rect x="493.32" y="645.82" width="1.79" height="1.76" fill="#803185"/><rect x="489.84" y="652.65" width="1.79" height="1.76" fill="#9e3d9f"/><rect x="488.10" y="661.19" width="1.79" height="1.76" fill="#a746a6"/><rect x="493.32" y="657.78" width="1.79" height="1.76" fill="#a746a6"/><rect x="505.50" y="657.78" width="1.79" height="1.76" fill="#ae4eab"/><rect x="495.06" y="654.36" width="1.79" height="1.76" fill="#88338b"/><rect x="482.88" y="657.78" width="1.79" height="1.76" fill="#a240a2"/><rect x="508.98" y="638.99" width="1.79" height="1.76" fill="#c270bd"/><rect x="495.06" y="650.94" width="1.79" height="1.76" fill="#943697"/><rect x="508.98" y="640.69" width="1.79" height="1.76" fill="#98389a"/><rect x="500.28" y="654.36" width="1.79" height="1.76" fill="#a240a2"/><rect x="495.06" y="638.99" width="1.79" height="1.76" fill="#ae4eab"/><rect x="491.58" y="654.36" width="1.79" height="1.76" fill="#ae4eab"/><rect x="496.80" y="630.45" width="1.79" height="1.76" fill="#ae4eab"/><rect x="496.80" y="642.40" width="1.79" height="1.76" fill="#a746a6"/><rect x="503.76" y="638.99" width="1.79" height="1.76" fill="#9b3a9c"/><rect x="482.88" y="647.53" width="1.79" height="1.76" fill="#a746a6"/><rect x="508.98" y="645.82" width="1.79" height="1.76" fill="#9e3d9f"/><rect x="507.24" y="632.15" width="1.79" height="1.76" fill="#c270bd"/><rect x="507.24" y="630.45" width="1.79" height="1.76" fill="#c270bd"/><rect x="484.62" y="632.15" width="1.79" height="1.76" fill="#edd1eb"/><rect x="514.20" y="650.94" width="1.79" height="1.76" fill="#b557b1"/><rect x="491.58" y="661.19" width="1.79" height="1.76" fill="#a746a6"/><rect x="502.02" y="633.86" width="1.79" height="1.76" fill="#a240a2"/><rect x="503.76" y="652.65" width="1.79" height="1.76" fill="#9e3d9f"/><rect x="489.84" y="657.78" width="1.79" height="1.76" fill="#b557b1"/><rect x="496.80" y="654.36" width="1.79" height="1.76" fill="#9b3a9c"/><rect x="491.58" y="649.24" width="1.79" height="1.76" fill="#803185"/><rect x="482.88" y="633.86" width="1.79" height="1.76" fill="#edd1eb"/><rect x="495.06" y="659.48" width="1.79" height="1.76" fill="#a746a6"/><rect x="491.58" y="628.74" width="1.79" height="1.76" fill="#d495ce"/><rect x="491.58" y="640.69" width="1.79" height="1.76" fill="#a746a6"/><rect x="507.24" y="644.11" width="1.79" height="1.76" fill="#943697"/><rect x="502.02" y="644.11" width="1.79" height="1.76" fill="#a746a6"/><rect x="503.76" y="661.19" width="1.79" height="1.76" fill="#b557b1"/><rect x="502.02" y="642.40" width="1.79" height="1.76" fill="#9b3a9c"/><rect x="498.54" y="642.40" width="1.79" height="1.76" fill="#843288"/><rect x="486.36" y="661.19" width="1.79" height="1.76" fill="#ae4eab"/><rect x="503.76" y="654.36" width="1.79" height="1.76" fill="#a746a6"/><rect x="505.50" y="637.28" width="1.79" height="1.76" fill="#ae4eab"/><rect x="515.94" y="661.19" width="1.79" height="1.76" fill="#edd1eb"/><rect x="486.36" y="645.82" width="1.79" height="1.76" fill="#9e3d9f"/><rect x="508.98" y="630.45" width="1.79" height="1.76" fill="#a746a6"/><rect x="488.10" y="650.94" width="1.79" height="1.76" fill="#98389a"/><rect x="481.14" y="642.40" width="1.79" height="1.76" fill="#b557b1"/><rect x="481.14" y="652.65" width="1.79" height="1.76" fill="#c270bd"/><rect x="482.88" y="644.11" width="1.79" height="1.76" fill="#9b3a9c"/><rect x="496.80" y="633.86" width="1.79" height="1.76" fill="#9b3a9c"/><rect x="515.94" y="628.74" width="1.79" height="1.76" fill="#c270bd"/><rect x="481.14" y="650.94" width="1.79" height="1.76" fill="#b557b1"/><rect x="488.10" y="659.48" width="1.79" height="1.76" fill="#c270bd"/><rect x="507.24" y="652.65" width="1.79" height="1.76" fill="#d495ce"/><rect x="508.98" y="650.94" width="1.79" height="1.76" fill="#a746a6"/><rect x="515.94" y="630.45" width="1.79" height="1.76" fill="#c270bd"/><rect x="484.62" y="661.19" width="1.79" height="1.76" fill="#ae4eab"/><rect x="505.50" y="635.57" width="1.79" height="1.76" fill="#98389a"/><rect x="486.36" y="630.45" width="1.79" height="1.76" fill="#edd1eb"/><rect x="512.46" y="650.94" width="1.79" height="1.76" fill="#c270bd"/><rect x="482.88" y="630.45" width="1.79" height="1.76" fill="#c270bd"/><rect x="517.68" y="656.07" width="1.79" height="1.76" fill="#d495ce"/><rect x="508.98" y="647.53" width="1.79" height="1.76" fill="#c270bd"/><rect x="481.14" y="654.36" width="1.79" height="1.76" fill="#a240a2"/><rect x="515.94" y="656.07" width="1.79" height="1.76" fill="#d495ce"/><rect x="486.36" y="635.57" width="1.79" height="1.76" fill="#b557b1"/><rect x="493.32" y="642.40" width="1.79" height="1.76" fill="#9e3d9f"/><rect x="512.46" y="637.28" width="1.79" height="1.76" fill="#b557b1"/><rect x="486.36" y="659.48" width="1.79" height="1.76" fill="#a746a6"/><rect x="479.40" y="657.78" width="1.79" height="1.76" fill="#d495ce"/><rect x="493.32" y="649.24" width="1.79" height="1.76" fill="#9b3a9c"/><rect x="510.72" y="638.99" width="1.79" height="1.76" fill="#c270bd"/><rect x="491.58" y="650.94" width="1.79" height="1.76" fill="#9b3a9c"/><rect x="514.20" y="659.48" width="1.79" height="1.76" fill="#edd1eb"/><rect x="498.54" y="645.82" width="1.79" height="1.76" fill="#8b338f"/><rect x="479.40" y="640.69" width="1.79" height="1.76" fill="#d495ce"/><rect x="486.36" y="657.78" width="1.79" height="1.76" fill="#a240a2"/><rect x="507.24" y="637.28" width="1.79" height="1.76" fill="#9b3a9c"/><rect x="493.32" y="652.65" width="1.79" height="1.76" fill="#a240a2"/><rect x="493.32" y="659.48" width="1.79" height="1.76" fill="#a240a2"/><rect x="489.84" y="644.11" width="1.79" height="1.76" fill="#9b3a9c"/><rect x="510.72" y="637.28" width="1.79" height="1.76" fill="#a746a6"/><rect x="507.24" y="650.94" width="1.79" height="1.76" fill="#a746a6"/><rect x="491.58" y="647.53" width="1.79" height="1.76" fill="#843288"/><rect x="502.02" y="635.57" width="1.79" height="1.76" fill="#c270bd"/><rect x="488.10" y="633.86" width="1.79" height="1.76" fill="#ae4eab"/><rect x="505.50" y="640.69" width="1.79" height="1.76" fill="#9e3d9f"/><rect x="505.50" y="659.48" width="1.79" height="1.76" fill="#c270bd"/><rect x="484.62" y="656.07" width="1.79" height="1.76" fill="#d495ce"/><rect x="500.28" y="640.69" width="1.79" height="1.76" fill="#9e3d9f"/><rect x="495.06" y="656.07" width="1.79" height="1.76" fill="#a746a6"/><rect x="486.36" y="638.99" width="1.79" height="1.76" fill="#a240a2"/><rect x="496.80" y="638.99" width="1.79" height="1.76" fill="#b557b1"/><rect x="496.80" y="628.74" width="1.79" height="1.76" fill="#d495ce"/><rect x="479.40" y="633.86" width="1.79" height="1.76" fill="#edd1eb"/><rect x="489.84" y="649.24" width="1.79" height="1.76" fill="#a240a2"/><rect x="500.28" y="657.78" width="1.79" height="1.76" fill="#c270bd"/><rect x="495.06" y="628.74" width="1.79" height="1.76" fill="#d495ce"/><rect x="503.76" y="635.57" width="1.79" height="1.76" fill="#b557b1"/><rect x="507.24" y="661.19" width="1.79" height="1.76" fill="#edd1eb"/><rect x="510.72" y="659.48" width="1.79" height="1.76" fill="#edd1eb"/><rect x="495.06" y="647.53" width="1.79" height="1.76" fill="#943697"/><rect x="515.94" y="640.69" width="1.79" height="1.76" fill="#c270bd"/><rect x="502.02" y="628.74" width="1.79" height="1.76" fill="#c270bd"/><rect x="484.62" y="640.69" width="1.79" height="1.76" fill="#ae4eab"/><rect x="517.68" y="642.40" width="1.79" height="1.76" fill="#c270bd"/><rect x="500.28" y="638.99" width="1.79" height="1.76" fill="#9e3d9f"/><rect x="503.76" y="645.82" width="1.79" height="1.76" fill="#a240a2"/><rect x="484.62" y="649.24" width="1.79" height="1.76" fill="#98389a"/><rect x="505.50" y="647.53" width="1.79" height="1.76" fill="#a240a2"/><rect x="503.76" y="650.94" width="1.79" height="1.76" fill="#a746a6"/><rect x="502.02" y="654.36" width="1.79" height="1.76" fill="#ae4eab"/><rect x="500.28" y="647.53" width="1.79" height="1.76" fill="#98389a"/><rect x="484.62" y="637.28" width="1.79" height="1.76" fill="#c270bd"/><rect x="507.24" y="654.36" width="1.79" height="1.76" fill="#c270bd"/><rect x="489.84" y="638.99" width="1.79" height="1.76" fill="#943697"/><rect x="514.20" y="638.99" width="1.79" height="1.76" fill="#a746a6"/><rect x="486.36" y="640.69" width="1.79" height="1.76" fill="#a240a2"/><rect x="514.20" y="632.15" width="1.79" height="1.76" fill="#b557b1"/><rect x="493.32" y="638.99" width="1.79" height="1.76" fill="#ae4eab"/><rect x="479.40" y="644.11" width="1.79" height="1.76" fill="#b557b1"/><rect x="500.28" y="652.65" width="1.79" height="1.76" fill="#c270bd"/><rect x="515.94" y="638.99" width="1.79" height="1.76" fill="#c270bd"/><rect x="505.50" y="633.86" width="1.79" height="1.76" fill="#a746a6"/><rect x="502.02" y="650.94" width="1.79" height="1.76" fill="#9b3a9c"/><rect x="486.36" y="644.11" width="1.79" height="1.76" fill="#a240a2"/><rect x="486.36" y="642.40" width="1.79" height="1.76" fill="#9b3a9c"/><rect x="481.14" y="640.69" width="1.79" height="1.76" fill="#d495ce"/><rect x="486.36" y="632.15" width="1.79" height="1.76" fill="#c270bd"/><rect x="493.32" y="644.11" width="1.79" height="1.76" fill="#a240a2"/><rect x="512.46" y="656.07" width="1.79" height="1.76" fill="#edd1eb"/><rect x="496.80" y="632.15" width="1.79" height="1.76" fill="#c270bd"/><rect x="479.40" y="659.48" width="1.79" height="1.76" fill="#c270bd"/><rect x="496.80" y="657.78" width="1.79" height="1.76" fill="#a240a2"/><rect x="488.10" y="635.57" width="1.79" height="1.76" fill="#ae4eab"/><rect x="507.24" y="649.24" width="1.79" height="1.76" fill="#b557b1"/><rect x="486.36" y="654.36" width="1.79" height="1.76" fill="#b557b1"/><rect x="484.62" y="654.36" width="1.79" height="1.76" fill="#a240a2"/><rect x="508.98" y="632.15" width="1.79" height="1.76" fill="#a746a6"/><rect x="514.20" y="633.86" width="1.79" height="1.76" fill="#a240a2"/><rect x="486.36" y="647.53" width="1.79" height="1.76" fill="#a746a6"/><rect x="498.54" y="633.86" width="1.79" height="1.76" fill="#c270bd"/><rect x="515.94" y="642.40" width="1.79" height="1.76" fill="#d495ce"/><rect x="500.28" y="635.57" width="1.79" height="1.76" fill="#9b3a9c"/><rect x="479.40" y="649.24" width="1.79" height="1.76" fill="#b557b1"/><rect x="512.46" y="645.82" width="1.79" height="1.76" fill="#d495ce"/><rect x="508.98" y="633.86" width="1.79" height="1.76" fill="#b557b1"/><rect x="479.40" y="650.94" width="1.79" height="1.76" fill="#edd1eb"/><rect x="484.62" y="635.57" width="1.79" height="1.76" fill="#b557b1"/><rect x="498.54" y="635.57" width="1.79" height="1.76" fill="#9e3d9f"/><rect x="498.54" y="650.94" width="1.79" height="1.76" fill="#98389a"/><rect x="510.72" y="642.40" width="1.79" height="1.76" fill="#ae4eab"/><rect x="486.36" y="652.65" width="1.79" height="1.76" fill="#ae4eab"/><rect x="495.06" y="661.19" width="1.79" height="1.76" fill="#c270bd"/><rect x="481.14" y="649.24" width="1.79" height="1.76" fill="#b557b1"/><rect x="482.88" y="638.99" width="1.79" height="1.76" fill="#c270bd"/><rect x="498.54" y="628.74" width="1.79" height="1.76" fill="#edd1eb"/><rect x="507.24" y="659.48" width="1.79" height="1.76" fill="#d495ce"/><rect x="489.84" y="633.86" width="1.79" height="1.76" fill="#ae4eab"/><rect x="496.80" y="635.57" width="1.79" height="1.76" fill="#a746a6"/><rect x="505.50" y="661.19" width="1.79" height="1.76" fill="#d495ce"/><rect x="491.58" y="659.48" width="1.79" height="1.76" fill="#ae4eab"/><rect x="515.94" y="637.28" width="1.79" height="1.76" fill="#c270bd"/><rect x="502.02" y="661.19" width="1.79" height="1.76" fill="#b557b1"/><rect x="479.40" y="645.82" width="1.79" height="1.76" fill="#d495ce"/><rect x="498.54" y="659.48" width="1.79" height="1.76" fill="#a746a6"/><rect x="482.88" y="635.57" width="1.79" height="1.76" fill="#b557b1"/><rect x="481.14" y="635.57" width="1.79" height="1.76" fill="#c270bd"/><rect x="493.32" y="637.28" width="1.79" height="1.76" fill="#b557b1"/><rect x="489.84" y="635.57" width="1.79" height="1.76" fill="#b557b1"/><rect x="481.14" y="659.48" width="1.79" height="1.76" fill="#edd1eb"/><rect x="482.88" y="650.94" width="1.79" height="1.76" fill="#d495ce"/><rect x="488.10" y="644.11" width="1.79" height="1.76" fill="#c270bd"/><rect x="505.50" y="652.65" width="1.79" height="1.76" fill="#a746a6"/><rect x="493.32" y="656.07" width="1.79" height="1.76" fill="#c270bd"/><rect x="515.94" y="652.65" width="1.79" height="1.76" fill="#d495ce"/><rect x="510.72" y="661.19" width="1.79" height="1.76" fill="#edd1eb"/><rect x="510.72" y="649.24" width="1.79" height="1.76" fill="#b557b1"/><rect x="484.62" y="652.65" width="1.79" height="1.76" fill="#ae4eab"/><rect x="503.76" y="657.78" width="1.79" height="1.76" fill="#a240a2"/><rect x="510.72" y="650.94" width="1.79" height="1.76" fill="#d495ce"/><rect x="491.58" y="633.86" width="1.79" height="1.76" fill="#ae4eab"/><rect x="495.06" y="630.45" width="1.79" height="1.76" fill="#edd1eb"/><rect x="488.10" y="640.69" width="1.79" height="1.76" fill="#a746a6"/><rect x="507.24" y="656.07" width="1.79" height="1.76" fill="#c270bd"/><rect x="514.20" y="647.53" width="1.79" height="1.76" fill="#a746a6"/><rect x="512.46" y="644.11" width="1.79" height="1.76" fill="#ae4eab"/><rect x="500.28" y="632.15" width="1.79" height="1.76" fill="#ae4eab"/><rect x="507.24" y="628.74" width="1.79" height="1.76" fill="#a746a6"/><rect x="481.14" y="656.07" width="1.79" height="1.76" fill="#a746a6"/><rect x="479.40" y="642.40" width="1.79" height="1.76" fill="#ae4eab"/><rect x="508.98" y="628.74" width="1.79" height="1.76" fill="#b557b1"/><rect x="514.20" y="640.69" width="1.79" height="1.76" fill="#b557b1"/><rect x="514.20" y="637.28" width="1.79" height="1.76" fill="#b557b1"/><rect x="488.10" y="638.99" width="1.79" height="1.76" fill="#a746a6"/><rect x="505.50" y="628.74" width="1.79" height="1.76" fill="#edd1eb"/><rect x="507.24" y="647.53" width="1.79" height="1.76" fill="#c270bd"/><rect x="508.98" y="649.24" width="1.79" height="1.76" fill="#a746a6"/><rect x="503.76" y="632.15" width="1.79" height="1.76" fill="#a240a2"/><rect x="491.58" y="635.57" width="1.79" height="1.76" fill="#b557b1"/><rect x="517.68" y="633.86" width="1.79" height="1.76" fill="#c270bd"/><rect x="507.24" y="645.82" width="1.79" height="1.76" fill="#d495ce"/><rect x="505.50" y="630.45" width="1.79" height="1.76" fill="#b557b1"/><rect x="489.84" y="630.45" width="1.79" height="1.76" fill="#d495ce"/><rect x="500.28" y="659.48" width="1.79" height="1.76" fill="#d495ce"/><rect x="514.20" y="644.11" width="1.79" height="1.76" fill="#d495ce"/><rect x="481.14" y="638.99" width="1.79" height="1.76" fill="#edd1eb"/><rect x="510.72" y="640.69" width="1.79" height="1.76" fill="#b557b1"/><rect x="502.02" y="656.07" width="1.79" height="1.76" fill="#c270bd"/><rect x="515.94" y="633.86" width="1.79" height="1.76" fill="#d495ce"/><rect x="514.20" y="628.74" width="1.79" height="1.76" fill="#b557b1"/><rect x="489.84" y="659.48" width="1.79" height="1.76" fill="#a746a6"/><rect x="514.20" y="630.45" width="1.79" height="1.76" fill="#b557b1"/><rect x="510.72" y="632.15" width="1.79" height="1.76" fill="#ae4eab"/><rect x="510.72" y="654.36" width="1.79" height="1.76" fill="#edd1eb"/><rect x="515.94" y="647.53" width="1.79" height="1.76" fill="#c270bd"/><rect x="484.62" y="628.74" width="1.79" height="1.76" fill="#edd1eb"/><rect x="510.72" y="630.45" width="1.79" height="1.76" fill="#c270bd"/><rect x="500.28" y="630.45" width="1.79" height="1.76" fill="#a746a6"/><rect x="486.36" y="633.86" width="1.79" height="1.76" fill="#ae4eab"/><rect x="514.20" y="656.07" width="1.79" height="1.76" fill="#edd1eb"/><rect x="502.02" y="632.15" width="1.79" height="1.76" fill="#d495ce"/><rect x="505.50" y="632.15" width="1.79" height="1.76" fill="#ae4eab"/><rect x="517.68" y="645.82" width="1.79" height="1.76" fill="#edd1eb"/><rect x="479.40" y="656.07" width="1.79" height="1.76" fill="#edd1eb"/><rect x="482.88" y="649.24" width="1.79" height="1.76" fill="#ae4eab"/><rect x="508.98" y="656.07" width="1.79" height="1.76" fill="#b557b1"/><rect x="510.72" y="657.78" width="1.79" height="1.76" fill="#edd1eb"/><rect x="508.98" y="661.19" width="1.79" height="1.76" fill="#edd1eb"/><rect x="515.94" y="654.36" width="1.79" height="1.76" fill="#b557b1"/><rect x="510.72" y="652.65" width="1.79" height="1.76" fill="#edd1eb"/><rect x="481.14" y="632.15" width="1.79" height="1.76" fill="#edd1eb"/><rect x="503.76" y="659.48" width="1.79" height="1.76" fill="#d495ce"/><rect x="484.62" y="659.48" width="1.79" height="1.76" fill="#d495ce"/><rect x="500.28" y="633.86" width="1.79" height="1.76" fill="#a746a6"/><rect x="508.98" y="652.65" width="1.79" height="1.76" fill="#b557b1"/><rect x="512.46" y="657.78" width="1.79" height="1.76" fill="#edd1eb"/><rect x="517.68" y="635.57" width="1.79" height="1.76" fill="#ae4eab"/><rect x="491.58" y="632.15" width="1.79" height="1.76" fill="#ae4eab"/><rect x="503.76" y="656.07" width="1.79" height="1.76" fill="#ae4eab"/><rect x="479.40" y="654.36" width="1.79" height="1.76" fill="#edd1eb"/><rect x="517.68" y="630.45" width="1.79" height="1.76" fill="#c270bd"/><rect x="484.62" y="633.86" width="1.79" height="1.76" fill="#edd1eb"/><rect x="515.94" y="644.11" width="1.79" height="1.76" fill="#d495ce"/><rect x="512.46" y="642.40" width="1.79" height="1.76" fill="#d495ce"/><rect x="488.10" y="632.15" width="1.79" height="1.76" fill="#d495ce"/><rect x="498.54" y="630.45" width="1.79" height="1.76" fill="#c270bd"/><rect x="481.14" y="630.45" width="1.79" height="1.76" fill="#edd1eb"/><rect x="488.10" y="628.74" width="1.79" height="1.76" fill="#edd1eb"/><rect x="514.20" y="635.57" width="1.79" height="1.76" fill="#edd1eb"/><rect x="512.46" y="652.65" width="1.79" height="1.76" fill="#d495ce"/><rect x="526.38" y="644.11" width="1.79" height="1.76" fill="#d495ce"/><rect x="529.86" y="637.28" width="1.79" height="1.76" fill="#c270bd"/><rect x="533.34" y="616.78" width="1.79" height="1.76" fill="#d495ce"/><rect x="512.46" y="618.49" width="1.79" height="1.76" fill="#edd1eb"/><rect x="502.02" y="618.49" width="1.79" height="1.76" fill="#edd1eb"/><rect x="542.04" y="640.69" width="1.79" height="1.76" fill="#edd1eb"/><rect x="524.64" y="627.03" width="1.79" height="1.76" fill="#a746a6"/><rect x="508.98" y="625.32" width="1.79" height="1.76" fill="#d495ce"/><rect x="536.82" y="623.61" width="1.79" height="1.76" fill="#edd1eb"/><rect x="529.86" y="597.99" width="1.79" height="1.76" fill="#edd1eb"/><rect x="547.26" y="611.66" width="1.79" height="1.76" fill="#edd1eb"/><rect x="536.82" y="618.49" width="1.79" height="1.76" fill="#edd1eb"/><rect x="535.08" y="647.53" width="1.79" height="1.76" fill="#edd1eb"/><rect x="519.42" y="608.24" width="1.79" height="1.76" fill="#edd1eb"/><rect x="533.34" y="599.70" width="1.79" height="1.76" fill="#d495ce"/><rect x="529.86" y="635.57" width="1.79" height="1.76" fill="#d495ce"/><rect x="529.86" y="623.61" width="1.79" height="1.76" fill="#d495ce"/><rect x="507.24" y="627.03" width="1.79" height="1.76" fill="#d495ce"/><rect x="495.06" y="625.32" width="1.79" height="1.76" fill="#edd1eb"/><rect x="498.54" y="632.15" width="1.79" height="1.76" fill="#b557b1"/><rect x="503.76" y="628.74" width="1.79" height="1.76" fill="#b557b1"/><rect x="507.24" y="615.07" width="1.79" height="1.76" fill="#edd1eb"/><rect x="524.64" y="635.57" width="1.79" height="1.76" fill="#c270bd"/><rect x="503.76" y="620.20" width="1.79" height="1.76" fill="#c270bd"/><rect x="524.64" y="638.99" width="1.79" height="1.76" fill="#c270bd"/><rect x="540.30" y="637.28" width="1.79" height="1.76" fill="#edd1eb"/><rect x="533.34" y="620.20" width="1.79" height="1.76" fill="#edd1eb"/><rect x="515.94" y="627.03" width="1.79" height="1.76" fill="#d495ce"/><rect x="531.60" y="620.20" width="1.79" height="1.76" fill="#d495ce"/><rect x="535.08" y="611.66" width="1.79" height="1.76" fill="#edd1eb"/><rect x="517.68" y="618.49" width="1.79" height="1.76" fill="#c270bd"/><rect x="512.46" y="620.20" width="1.79" height="1.76" fill="#edd1eb"/><rect x="519.42" y="635.57" width="1.79" height="1.76" fill="#edd1eb"/><rect x="528.12" y="627.03" width="1.79" height="1.76" fill="#edd1eb"/><rect x="524.64" y="632.15" width="1.79" height="1.76" fill="#d495ce"/><rect x="538.56" y="613.37" width="1.79" height="1.76" fill="#d495ce"/><rect x="526.38" y="618.49" width="1.79" height="1.76" fill="#edd1eb"/><rect x="524.64" y="601.41" width="1.79" height="1.76" fill="#edd1eb"/><rect x="543.78" y="604.82" width="1.79" height="1.76" fill="#edd1eb"/><rect x="505.50" y="615.07" width="1.79" height="1.76" fill="#edd1eb"/><rect x="517.68" y="623.61" width="1.79" height="1.76" fill="#ae4eab"/><rect x="519.42" y="647.53" width="1.79" height="1.76" fill="#edd1eb"/><rect x="522.90" y="613.37" width="1.79" height="1.76" fill="#edd1eb"/><rect x="524.64" y="637.28" width="1.79" height="1.76" fill="#d495ce"/><rect x="543.78" y="611.66" width="1.79" height="1.76" fill="#d495ce"/><rect x="510.72" y="635.57" width="1.79" height="1.76" fill="#ae4eab"/><rect x="508.98" y="623.61" width="1.79" height="1.76" fill="#d495ce"/><rect x="528.12" y="632.15" width="1.79" height="1.76" fill="#d495ce"/><rect x="515.94" y="623.61" width="1.79" height="1.76" fill="#d495ce"/><rect x="528.12" y="638.99" width="1.79" height="1.76" fill="#d495ce"/><rect x="531.60" y="625.32" width="1.79" height="1.76" fill="#c270bd"/><rect x="517.68" y="628.74" width="1.79" height="1.76" fill="#edd1eb"/><rect x="529.86" y="616.78" width="1.79" height="1.76" fill="#d495ce"/><rect x="536.82" y="630.45" width="1.79" height="1.76" fill="#edd1eb"/><rect x="507.24" y="623.61" width="1.79" height="1.76" fill="#d495ce"/><rect x="507.24" y="620.20" width="1.79" height="1.76" fill="#c270bd"/><rect x="538.56" y="625.32" width="1.79" height="1.76" fill="#d495ce"/><rect x="547.26" y="603.12" width="1.79" height="1.76" fill="#edd1eb"/><rect x="540.30" y="618.49" width="1.79" height="1.76" fill="#d495ce"/><rect x="522.90" y="615.07" width="1.79" height="1.76" fill="#edd1eb"/><rect x="521.16" y="638.99" width="1.79" height="1.76" fill="#edd1eb"/><rect x="526.38" y="616.78" width="1.79" height="1.76" fill="#c270bd"/><rect x="536.82" y="633.86" width="1.79" height="1.76" fill="#d495ce"/><rect x="515.94" y="621.91" width="1.79" height="1.76" fill="#c270bd"/><rect x="519.42" y="656.07" width="1.79" height="1.76" fill="#edd1eb"/><rect x="519.42" y="611.66" width="1.79" height="1.76" fill="#d495ce"/><rect x="529.86" y="642.40" width="1.79" height="1.76" fill="#edd1eb"/><rect x="503.76" y="625.32" width="1.79" height="1.76" fill="#c270bd"/><rect x="524.64" y="615.07" width="1.79" height="1.76" fill="#edd1eb"/><rect x="528.12" y="609.95" width="1.79" height="1.76" fill="#edd1eb"/><rect x="526.38" y="597.99" width="1.79" height="1.76" fill="#edd1eb"/><rect x="549.00" y="609.95" width="1.79" height="1.76" fill="#edd1eb"/><rect x="522.90" y="640.69" width="1.79" height="1.76" fill="#d495ce"/><rect x="519.42" y="633.86" width="1.79" height="1.76" fill="#ae4eab"/><rect x="550.74" y="618.49" width="1.79" height="1.76" fill="#edd1eb"/><rect x="502.02" y="615.07" width="1.79" height="1.76" fill="#edd1eb"/><rect x="526.38" y="623.61" width="1.79" height="1.76" fill="#edd1eb"/><rect x="521.16" y="616.78" width="1.79" height="1.76" fill="#c270bd"/><rect x="533.34" y="603.12" width="1.79" height="1.76" fill="#c270bd"/><rect x="512.46" y="625.32" width="1.79" height="1.76" fill="#edd1eb"/><rect x="529.86" y="630.45" width="1.79" height="1.76" fill="#edd1eb"/><rect x="545.52" y="616.78" width="1.79" height="1.76" fill="#edd1eb"/><rect x="533.34" y="597.99" width="1.79" height="1.76" fill="#edd1eb"/><rect x="524.64" y="630.45" width="1.79" height="1.76" fill="#c270bd"/><rect x="533.34" y="644.11" width="1.79" height="1.76" fill="#edd1eb"/><rect x="543.78" y="616.78" width="1.79" height="1.76" fill="#edd1eb"/><rect x="503.76" y="616.78" width="1.79" height="1.76" fill="#edd1eb"/><rect x="531.60" y="609.95" width="1.79" height="1.76" fill="#edd1eb"/><rect x="524.64" y="616.78" width="1.79" height="1.76" fill="#d495ce"/><rect x="533.34" y="630.45" width="1.79" height="1.76" fill="#d495ce"/><rect x="526.38" y="625.32" width="1.79" height="1.76" fill="#edd1eb"/><rect x="502.02" y="621.91" width="1.79" height="1.76" fill="#edd1eb"/><rect x="535.08" y="642.40" width="1.79" height="1.76" fill="#edd1eb"/><rect x="507.24" y="616.78" width="1.79" height="1.76" fill="#edd1eb"/><rect x="542.04" y="609.95" width="1.79" height="1.76" fill="#edd1eb"/><rect x="528.12" y="633.86" width="1.79" height="1.76" fill="#d495ce"/><rect x="495.06" y="620.20" width="1.79" height="1.76" fill="#edd1eb"/><rect x="528.12" y="630.45" width="1.79" height="1.76" fill="#edd1eb"/><rect x="528.12" y="613.37" width="1.79" height="1.76" fill="#d495ce"/><rect x="522.90" y="623.61" width="1.79" height="1.76" fill="#edd1eb"/><rect x="538.56" y="627.03" width="1.79" height="1.76" fill="#d495ce"/><rect x="549.00" y="630.45" width="1.79" height="1.76" fill="#edd1eb"/><rect x="517.68" y="627.03" width="1.79" height="1.76" fill="#c270bd"/><rect x="521.16" y="628.74" width="1.79" height="1.76" fill="#c270bd"/><rect x="508.98" y="657.78" width="1.79" height="1.76" fill="#edd1eb"/><rect x="524.64" y="606.53" width="1.79" height="1.76" fill="#edd1eb"/><rect x="515.94" y="616.78" width="1.79" height="1.76" fill="#c270bd"/><rect x="533.34" y="623.61" width="1.79" height="1.76" fill="#edd1eb"/><rect x="512.46" y="628.74" width="1.79" height="1.76" fill="#c270bd"/><rect x="526.38" y="627.03" width="1.79" height="1.76" fill="#edd1eb"/><rect x="500.28" y="625.32" width="1.79" height="1.76" fill="#edd1eb"/><rect x="531.60" y="616.78" width="1.79" height="1.76" fill="#edd1eb"/><rect x="528.12" y="616.78" width="1.79" height="1.76" fill="#edd1eb"/><rect x="517.68" y="621.91" width="1.79" height="1.76" fill="#d495ce"/><rect x="510.72" y="616.78" width="1.79" height="1.76" fill="#edd1eb"/><rect x="533.34" y="621.91" width="1.79" height="1.76" fill="#d495ce"/><rect x="531.60" y="618.49" width="1.79" height="1.76" fill="#edd1eb"/><rect x="529.86" y="620.20" width="1.79" height="1.76" fill="#d495ce"/><rect x="508.98" y="618.49" width="1.79" height="1.76" fill="#edd1eb"/><rect x="521.16" y="613.37" width="1.79" height="1.76" fill="#d495ce"/><rect x="510.72" y="620.20" width="1.79" height="1.76" fill="#d495ce"/><rect x="540.30" y="630.45" width="1.79" height="1.76" fill="#d495ce"/><rect x="528.12" y="599.70" width="1.79" height="1.76" fill="#edd1eb"/><rect x="519.42" y="644.11" width="1.79" height="1.76" fill="#edd1eb"/><rect x="522.90" y="609.95" width="1.79" height="1.76" fill="#edd1eb"/><rect x="512.46" y="621.91" width="1.79" height="1.76" fill="#c270bd"/><rect x="521.16" y="620.20" width="1.79" height="1.76" fill="#edd1eb"/><rect x="540.30" y="609.95" width="1.79" height="1.76" fill="#edd1eb"/><rect x="526.38" y="628.74" width="1.79" height="1.76" fill="#d495ce"/><rect x="528.12" y="645.82" width="1.79" height="1.76" fill="#d495ce"/><rect x="519.42" y="637.28" width="1.79" height="1.76" fill="#d495ce"/><rect x="521.16" y="603.12" width="1.79" height="1.76" fill="#edd1eb"/><rect x="514.20" y="627.03" width="1.79" height="1.76" fill="#edd1eb"/><rect x="524.64" y="613.37" width="1.79" height="1.76" fill="#d495ce"/><rect x="529.86" y="633.86" width="1.79" height="1.76" fill="#d495ce"/><rect x="505.50" y="627.03" width="1.79" height="1.76" fill="#c270bd"/><rect x="521.16" y="627.03" width="1.79" height="1.76" fill="#c270bd"/><rect x="517.68" y="615.07" width="1.79" height="1.76" fill="#edd1eb"/><rect x="531.60" y="613.37" width="1.79" height="1.76" fill="#edd1eb"/><rect x="522.90" y="635.57" width="1.79" height="1.76" fill="#edd1eb"/><rect x="543.78" y="608.24" width="1.79" height="1.76" fill="#edd1eb"/><rect x="519.42" y="597.99" width="1.79" height="1.76" fill="#edd1eb"/><rect x="522.90" y="611.66" width="1.79" height="1.76" fill="#edd1eb"/><rect x="524.64" y="621.91" width="1.79" height="1.76" fill="#edd1eb"/><rect x="529.86" y="599.70" width="1.79" height="1.76" fill="#d495ce"/><rect x="521.16" y="644.11" width="1.79" height="1.76" fill="#edd1eb"/><rect x="521.16" y="623.61" width="1.79" height="1.76" fill="#d495ce"/><rect x="529.86" y="628.74" width="1.79" height="1.76" fill="#edd1eb"/><rect x="521.16" y="635.57" width="1.79" height="1.76" fill="#edd1eb"/><rect x="510.72" y="618.49" width="1.79" height="1.76" fill="#d495ce"/><rect x="543.78" y="627.03" width="1.79" height="1.76" fill="#edd1eb"/><rect x="517.68" y="613.37" width="1.79" height="1.76" fill="#edd1eb"/><rect x="517.68" y="640.69" width="1.79" height="1.76" fill="#c270bd"/><rect x="535.08" y="623.61" width="1.79" height="1.76" fill="#edd1eb"/><rect x="535.08" y="615.07" width="1.79" height="1.76" fill="#edd1eb"/><rect x="538.56" y="618.49" width="1.79" height="1.76" fill="#d495ce"/><rect x="519.42" y="616.78" width="1.79" height="1.76" fill="#edd1eb"/><rect x="545.52" y="623.61" width="1.79" height="1.76" fill="#edd1eb"/><rect x="512.46" y="661.19" width="1.79" height="1.76" fill="#edd1eb"/><rect x="536.82" y="621.91" width="1.79" height="1.76" fill="#edd1eb"/><rect x="519.42" y="615.07" width="1.79" height="1.76" fill="#edd1eb"/><rect x="517.68" y="608.24" width="1.79" height="1.76" fill="#edd1eb"/><rect x="519.42" y="640.69" width="1.79" height="1.76" fill="#edd1eb"/><rect x="533.34" y="625.32" width="1.79" height="1.76" fill="#edd1eb"/><rect x="531.60" y="627.03" width="1.79" height="1.76" fill="#edd1eb"/><rect x="536.82" y="601.41" width="1.79" height="1.76" fill="#edd1eb"/><rect x="535.08" y="620.20" width="1.79" height="1.76" fill="#edd1eb"/><rect x="524.64" y="647.53" width="1.79" height="1.76" fill="#d495ce"/><rect x="515.94" y="620.20" width="1.79" height="1.76" fill="#edd1eb"/><rect x="508.98" y="621.91" width="1.79" height="1.76" fill="#edd1eb"/><rect x="533.34" y="609.95" width="1.79" height="1.76" fill="#edd1eb"/><rect x="524.64" y="611.66" width="1.79" height="1.76" fill="#edd1eb"/><rect x="547.26" y="633.86" width="1.79" height="1.76" fill="#edd1eb"/><rect x="519.42" y="628.74" width="1.79" height="1.76" fill="#d495ce"/><rect x="503.76" y="621.91" width="1.79" height="1.76" fill="#edd1eb"/><rect x="522.90" y="647.53" width="1.79" height="1.76" fill="#edd1eb"/><rect x="512.46" y="623.61" width="1.79" height="1.76" fill="#d495ce"/><rect x="549.00" y="616.78" width="1.79" height="1.76" fill="#edd1eb"/><rect x="517.68" y="620.20" width="1.79" height="1.76" fill="#edd1eb"/><rect x="536.82" y="608.24" width="1.79" height="1.76" fill="#edd1eb"/><rect x="524.64" y="620.20" width="1.79" height="1.76" fill="#edd1eb"/><rect x="517.68" y="644.11" width="1.79" height="1.76" fill="#edd1eb"/><rect x="512.46" y="635.57" width="1.79" height="1.76" fill="#d495ce"/><rect x="505.50" y="613.37" width="1.79" height="1.76" fill="#edd1eb"/><rect x="507.24" y="608.24" width="1.79" height="1.76" fill="#edd1eb"/><rect x="529.86" y="608.24" width="1.79" height="1.76" fill="#edd1eb"/><rect x="510.72" y="623.61" width="1.79" height="1.76" fill="#d495ce"/><rect x="495.06" y="621.91" width="1.79" height="1.76" fill="#edd1eb"/><rect x="507.24" y="618.49" width="1.79" height="1.76" fill="#edd1eb"/><rect x="521.16" y="615.07" width="1.79" height="1.76" fill="#edd1eb"/><rect x="514.20" y="657.78" width="1.79" height="1.76" fill="#edd1eb"/><rect x="531.60" y="608.24" width="1.79" height="1.76" fill="#d495ce"/><rect x="496.80" y="623.61" width="1.79" height="1.76" fill="#d495ce"/><rect x="515.94" y="609.95" width="1.79" height="1.76" fill="#d495ce"/><rect x="526.38" y="621.91" width="1.79" height="1.76" fill="#edd1eb"/><rect x="526.38" y="642.40" width="1.79" height="1.76" fill="#edd1eb"/><rect x="528.12" y="611.66" width="1.79" height="1.76" fill="#edd1eb"/><rect x="531.60" y="637.28" width="1.79" height="1.76" fill="#edd1eb"/><rect x="496.80" y="620.20" width="1.79" height="1.76" fill="#d495ce"/><rect x="526.38" y="620.20" width="1.79" height="1.76" fill="#edd1eb"/><rect x="522.90" y="633.86" width="1.79" height="1.76" fill="#edd1eb"/><rect x="545.52" y="627.03" width="1.79" height="1.76" fill="#edd1eb"/><rect x="521.16" y="640.69" width="1.79" height="1.76" fill="#d495ce"/><rect x="493.32" y="627.03" width="1.79" height="1.76" fill="#edd1eb"/><rect x="521.16" y="632.15" width="1.79" height="1.76" fill="#edd1eb"/><rect x="533.34" y="627.03" width="1.79" height="1.76" fill="#d495ce"/><rect x="502.02" y="627.03" width="1.79" height="1.76" fill="#d495ce"/><rect x="514.20" y="620.20" width="1.79" height="1.76" fill="#d495ce"/><rect x="542.04" y="628.74" width="1.79" height="1.76" fill="#edd1eb"/><rect x="521.16" y="618.49" width="1.79" height="1.76" fill="#edd1eb"/><rect x="531.60" y="632.15" width="1.79" height="1.76" fill="#d495ce"/><rect x="507.24" y="625.32" width="1.79" height="1.76" fill="#edd1eb"/><rect x="524.64" y="597.99" width="1.79" height="1.76" fill="#edd1eb"/><rect x="528.12" y="620.20" width="1.79" height="1.76" fill="#edd1eb"/><rect x="550.74" y="606.53" width="1.79" height="1.76" fill="#edd1eb"/><rect x="524.64" y="633.86" width="1.79" height="1.76" fill="#edd1eb"/><rect x="535.08" y="628.74" width="1.79" height="1.76" fill="#edd1eb"/><rect x="521.16" y="642.40" width="1.79" height="1.76" fill="#edd1eb"/><rect x="533.34" y="611.66" width="1.79" height="1.76" fill="#d495ce"/><rect x="505.50" y="611.66" width="1.79" height="1.76" fill="#edd1eb"/><rect x="545.52" y="625.32" width="1.79" height="1.76" fill="#edd1eb"/><rect x="526.38" y="615.07" width="1.79" height="1.76" fill="#edd1eb"/><rect x="542.04" y="601.41" width="1.79" height="1.76" fill="#edd1eb"/><rect x="540.30" y="633.86" width="1.79" height="1.76" fill="#edd1eb"/><rect x="514.20" y="616.78" width="1.79" height="1.76" fill="#d495ce"/><rect x="512.46" y="615.07" width="1.79" height="1.76" fill="#edd1eb"/><rect x="526.38" y="640.69" width="1.79" height="1.76" fill="#edd1eb"/><rect x="545.52" y="606.53" width="1.79" height="1.76" fill="#edd1eb"/><rect x="519.42" y="632.15" width="1.79" height="1.76" fill="#edd1eb"/><rect x="508.98" y="620.20" width="1.79" height="1.76" fill="#edd1eb"/><rect x="519.42" y="642.40" width="1.79" height="1.76" fill="#d495ce"/><rect x="514.20" y="613.37" width="1.79" height="1.76" fill="#edd1eb"/><rect x="531.60" y="621.91" width="1.79" height="1.76" fill="#d495ce"/><rect x="519.42" y="627.03" width="1.79" height="1.76" fill="#edd1eb"/><rect x="522.90" y="644.11" width="1.79" height="1.76" fill="#edd1eb"/><rect x="524.64" y="618.49" width="1.79" height="1.76" fill="#edd1eb"/><rect x="529.86" y="657.78" width="1.79" height="1.76" fill="#edd1eb"/><rect x="536.82" y="625.32" width="1.79" height="1.76" fill="#edd1eb"/><rect x="535.08" y="616.78" width="1.79" height="1.76" fill="#edd1eb"/><rect x="536.82" y="615.07" width="1.79" height="1.76" fill="#edd1eb"/><rect x="535.08" y="608.24" width="1.79" height="1.76" fill="#d495ce"/><rect x="514.20" y="621.91" width="1.79" height="1.76" fill="#d495ce"/><rect x="529.86" y="632.15" width="1.79" height="1.76" fill="#edd1eb"/><rect x="529.86" y="606.53" width="1.79" height="1.76" fill="#edd1eb"/><rect x="522.90" y="628.74" width="1.79" height="1.76" fill="#d495ce"/><rect x="514.20" y="609.95" width="1.79" height="1.76" fill="#edd1eb"/><rect x="526.38" y="635.57" width="1.79" height="1.76" fill="#edd1eb"/><rect x="522.90" y="616.78" width="1.79" height="1.76" fill="#d495ce"/><rect x="508.98" y="611.66" width="1.79" height="1.76" fill="#edd1eb"/><rect x="526.38" y="638.99" width="1.79" height="1.76" fill="#edd1eb"/><rect x="496.80" y="618.49" width="1.79" height="1.76" fill="#edd1eb"/><rect x="526.38" y="604.82" width="1.79" height="1.76" fill="#edd1eb"/><rect x="522.90" y="638.99" width="1.79" height="1.76" fill="#edd1eb"/><rect x="519.42" y="620.20" width="1.79" height="1.76" fill="#edd1eb"/><rect x="526.38" y="606.53" width="1.79" height="1.76" fill="#edd1eb"/><rect x="503.76" y="623.61" width="1.79" height="1.76" fill="#edd1eb"/><rect x="507.24" y="633.86" width="1.79" height="1.76" fill="#edd1eb"/><rect x="529.86" y="645.82" width="1.79" height="1.76" fill="#edd1eb"/><rect x="512.46" y="649.24" width="1.79" height="1.76" fill="#edd1eb"/><rect x="519.42" y="604.82" width="1.79" height="1.76" fill="#edd1eb"/><rect x="510.72" y="615.07" width="1.79" height="1.76" fill="#edd1eb"/><rect x="505.50" y="603.12" width="1.79" height="1.76" fill="#edd1eb"/><rect x="540.30" y="606.53" width="1.79" height="1.76" fill="#edd1eb"/><rect x="519.42" y="625.32" width="1.79" height="1.76" fill="#edd1eb"/><rect x="543.78" y="609.95" width="1.79" height="1.76" fill="#edd1eb"/><rect x="529.86" y="621.91" width="1.79" height="1.76" fill="#edd1eb"/><rect x="481.14" y="625.32" width="1.79" height="1.76" fill="#edd1eb"/><rect x="550.74" y="616.78" width="1.79" height="1.76" fill="#edd1eb"/><rect x="522.90" y="620.20" width="1.79" height="1.76" fill="#edd1eb"/><rect x="512.46" y="627.03" width="1.79" height="1.76" fill="#edd1eb"/><rect x="500.28" y="615.07" width="1.79" height="1.76" fill="#edd1eb"/><rect x="575.10" y="570.66" width="1.79" height="1.76" fill="#edd1eb"/><rect x="555.96" y="582.62" width="1.79" height="1.76" fill="#edd1eb"/><rect x="562.92" y="627.03" width="1.79" height="1.76" fill="#edd1eb"/><rect x="550.74" y="591.16" width="1.79" height="1.76" fill="#edd1eb"/><rect x="542.04" y="606.53" width="1.79" height="1.76" fill="#edd1eb"/><rect x="564.66" y="574.08" width="1.79" height="1.76" fill="#edd1eb"/><rect x="533.34" y="650.94" width="1.79" height="1.76" fill="#edd1eb"/></g>
<line x1="473.30" y1="668.89" x2="644.80" y2="500.53" stroke="#1e1e1e" stroke-width="1.5" stroke-dasharray="4.2 2.8"/>
<rect x="473.30" y="498.20" width="171.50" height="171.00" fill="none" stroke="#2f2f2f" stroke-width="1.4"/>
<line x1="467.00" y1="662.90" x2="473.30" y2="662.90" stroke="#2f2f2f" stroke-width="1.3"/>
<line x1="479.40" y1="669.20" x2="479.40" y2="675.50" stroke="#2f2f2f" stroke-width="1.3"/>
<line x1="467.00" y1="633.45" x2="473.30" y2="633.45" stroke="#2f2f2f" stroke-width="1.3"/>
<line x1="509.40" y1="669.20" x2="509.40" y2="675.50" stroke="#2f2f2f" stroke-width="1.3"/>
<line x1="467.00" y1="604.00" x2="473.30" y2="604.00" stroke="#2f2f2f" stroke-width="1.3"/>
<line x1="539.40" y1="669.20" x2="539.40" y2="675.50" stroke="#2f2f2f" stroke-width="1.3"/>
<line x1="467.00" y1="574.55" x2="473.30" y2="574.55" stroke="#2f2f2f" stroke-width="1.3"/>
<line x1="569.40" y1="669.20" x2="569.40" y2="675.50" stroke="#2f2f2f" stroke-width="1.3"/>
<line x1="467.00" y1="545.10" x2="473.30" y2="545.10" stroke="#2f2f2f" stroke-width="1.3"/>
<line x1="599.40" y1="669.20" x2="599.40" y2="675.50" stroke="#2f2f2f" stroke-width="1.3"/>
<line x1="467.00" y1="515.65" x2="473.30" y2="515.65" stroke="#2f2f2f" stroke-width="1.3"/>
<line x1="629.40" y1="669.20" x2="629.40" y2="675.50" stroke="#2f2f2f" stroke-width="1.3"/>
<text transform="translate(477.72,524.50) scale(1.0776,1)" font-size="15.5" fill="#2b2b2b" stroke="#2b2b2b" stroke-width="0.12">Pearson Cor. = 0.59</text>
<text transform="translate(449.82,667.45) scale(1.0000,1)" font-size="12.7" fill="#474747" stroke="#474747" stroke-width="0.05">0.0</text>
<text transform="translate(449.86,638.00) scale(1.0000,1)" font-size="12.7" fill="#474747" stroke="#474747" stroke-width="0.05">0.5</text>
<text transform="translate(449.82,608.55) scale(1.0000,1)" font-size="12.7" fill="#474747" stroke="#474747" stroke-width="0.05">1.0</text>
<text transform="translate(449.86,579.10) scale(1.0000,1)" font-size="12.7" fill="#474747" stroke="#474747" stroke-width="0.05">1.5</text>
<text transform="translate(449.82,549.65) scale(1.0000,1)" font-size="12.7" fill="#474747" stroke="#474747" stroke-width="0.05">2.0</text>
<text transform="translate(449.86,520.20) scale(1.0000,1)" font-size="12.7" fill="#474747" stroke="#474747" stroke-width="0.05">2.5</text>
<text transform="translate(470.56,690.60) scale(1.0000,1)" font-size="12.7" fill="#474747" stroke="#474747" stroke-width="0.05">0.0</text>
<text transform="translate(500.57,690.60) scale(1.0000,1)" font-size="12.7" fill="#474747" stroke="#474747" stroke-width="0.05">0.5</text>
<text transform="translate(530.34,690.60) scale(1.0000,1)" font-size="12.7" fill="#474747" stroke="#474747" stroke-width="0.05">1.0</text>
<text transform="translate(560.35,690.60) scale(1.0000,1)" font-size="12.7" fill="#474747" stroke="#474747" stroke-width="0.05">1.5</text>
<text transform="translate(590.49,690.60) scale(1.0000,1)" font-size="12.7" fill="#474747" stroke="#474747" stroke-width="0.05">2.0</text>
<text transform="translate(620.51,690.60) scale(1.0000,1)" font-size="12.7" fill="#474747" stroke="#474747" stroke-width="0.05">2.5</text>
<text transform="translate(515.57,708.40) scale(1.1196,1)" font-size="15.5" fill="#2b2b2b" stroke="#2b2b2b" stroke-width="0.12">Expr. in AR</text>
<text transform="translate(444.70,627.60) rotate(-90) scale(1.0981,1)" font-size="15.5" fill="#2b2b2b" stroke="#2b2b2b" stroke-width="0.12">Expr. in Ctrl</text>
<defs><linearGradient id="cb" x1="0" y1="0" x2="0" y2="1"><stop offset="0" stop-color="#5f3269"/><stop offset="0.13" stop-color="#782d7d"/><stop offset="0.42" stop-color="#9b329b"/><stop offset="0.65" stop-color="#a53aa0"/><stop offset="0.72" stop-color="#ad4aa5"/><stop offset="0.80" stop-color="#c374b8"/><stop offset="0.87" stop-color="#daa2ce"/><stop offset="0.94" stop-color="#efd4e8"/><stop offset="1" stop-color="#fcf7fa"/></linearGradient></defs>
<rect x="648.3" y="498.2" width="19.3" height="170.8" fill="url(#cb)" stroke="#2f2f2f" stroke-width="1.3"/>
<line x1="667.60" y1="498.60" x2="674.20" y2="498.60" stroke="#2f2f2f" stroke-width="1.3"/>
<line x1="667.60" y1="668.60" x2="674.20" y2="668.60" stroke="#2f2f2f" stroke-width="1.3"/>
<text transform="translate(683.00,512.05) rotate(-90) scale(0.8185,1)" font-size="13.5" fill="#2b2b2b" stroke="#2b2b2b" stroke-width="0.05">max</text>
<text transform="translate(683.00,671.44) rotate(-90) scale(0.8067,1)" font-size="13.5" fill="#2b2b2b" stroke="#2b2b2b" stroke-width="0.05">0</text>
</svg>
</body></html>
